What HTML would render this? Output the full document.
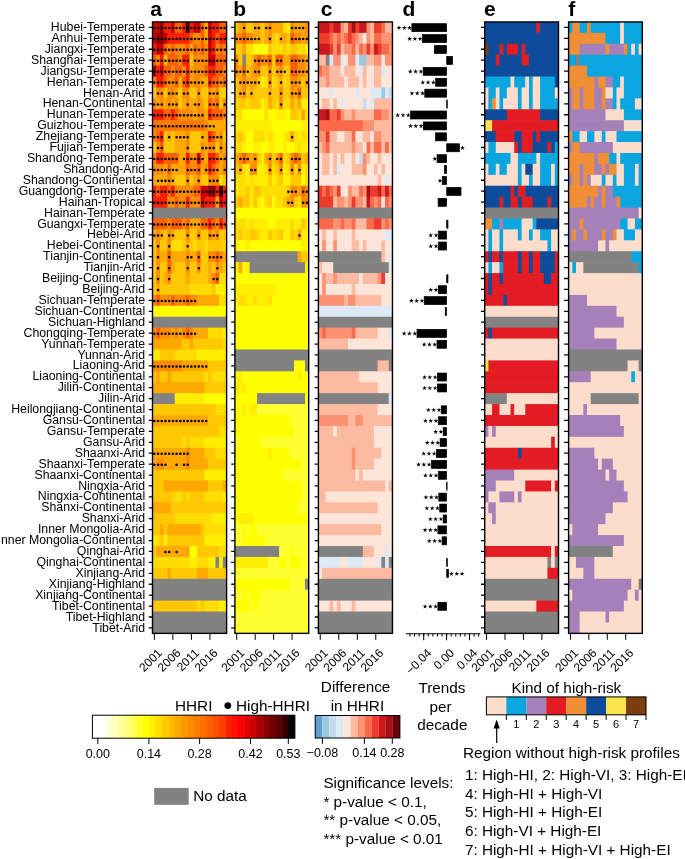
<!DOCTYPE html>
<html><head><meta charset="utf-8"><style>
html,body{margin:0;padding:0;background:#fff;}
body{width:685px;height:859px;overflow:hidden;font-family:"Liberation Sans",sans-serif;}
svg{display:block;will-change:transform;}
</style></head><body>
<svg width="685" height="859" viewBox="0 0 685 859" font-family="'Liberation Sans', sans-serif">
<rect width="685" height="859" fill="#fff"/>
<g>
<rect x="152.5" y="21.95" width="8.01" height="11.52" fill="#cc0000"/>
<rect x="159.91" y="21.95" width="4.3" height="11.52" fill="#8b0000"/>
<rect x="163.62" y="21.95" width="8.01" height="11.52" fill="#ff2000"/>
<rect x="171.03" y="21.95" width="4.3" height="11.52" fill="#cc0000"/>
<rect x="174.73" y="21.95" width="8.01" height="11.52" fill="#ff6000"/>
<rect x="182.14" y="21.95" width="4.3" height="11.52" fill="#ff2000"/>
<rect x="185.84" y="21.95" width="4.3" height="11.52" fill="#300000"/>
<rect x="189.55" y="21.95" width="4.3" height="11.52" fill="#ff2000"/>
<rect x="193.25" y="21.95" width="8.01" height="11.52" fill="#cc0000"/>
<rect x="200.66" y="21.95" width="4.3" height="11.52" fill="#ff6000"/>
<rect x="204.37" y="21.95" width="4.3" height="11.52" fill="#ffa800"/>
<rect x="208.07" y="21.95" width="4.3" height="11.52" fill="#cc0000"/>
<rect x="211.78" y="21.95" width="8.01" height="11.52" fill="#ff2000"/>
<rect x="219.19" y="21.95" width="7.41" height="11.52" fill="#ff6000"/>
<rect x="152.5" y="32.87" width="4.3" height="11.52" fill="#cc0000"/>
<rect x="156.21" y="32.87" width="8.01" height="11.52" fill="#8b0000"/>
<rect x="163.62" y="32.87" width="4.3" height="11.52" fill="#cc0000"/>
<rect x="167.32" y="32.87" width="22.83" height="11.52" fill="#ff2000"/>
<rect x="189.55" y="32.87" width="4.3" height="11.52" fill="#ff6000"/>
<rect x="193.25" y="32.87" width="8.01" height="11.52" fill="#ff8c00"/>
<rect x="200.66" y="32.87" width="4.3" height="11.52" fill="#ff6000"/>
<rect x="204.37" y="32.87" width="4.3" height="11.52" fill="#ffa800"/>
<rect x="208.07" y="32.87" width="4.3" height="11.52" fill="#cc0000"/>
<rect x="211.78" y="32.87" width="4.3" height="11.52" fill="#ff2000"/>
<rect x="215.48" y="32.87" width="4.3" height="11.52" fill="#ff6000"/>
<rect x="219.19" y="32.87" width="7.41" height="11.52" fill="#ff2000"/>
<rect x="152.5" y="43.79" width="4.3" height="11.52" fill="#ff2000"/>
<rect x="156.21" y="43.79" width="8.01" height="11.52" fill="#cc0000"/>
<rect x="163.62" y="43.79" width="4.3" height="11.52" fill="#ff6000"/>
<rect x="167.32" y="43.79" width="4.3" height="11.52" fill="#ff8c00"/>
<rect x="171.03" y="43.79" width="4.3" height="11.52" fill="#ff6000"/>
<rect x="174.73" y="43.79" width="11.71" height="11.52" fill="#ff8c00"/>
<rect x="185.84" y="43.79" width="4.3" height="11.52" fill="#ff6000"/>
<rect x="189.55" y="43.79" width="4.3" height="11.52" fill="#ffa800"/>
<rect x="193.25" y="43.79" width="4.3" height="11.52" fill="#ff6000"/>
<rect x="196.96" y="43.79" width="4.3" height="11.52" fill="#ff8c00"/>
<rect x="200.66" y="43.79" width="4.3" height="11.52" fill="#ff6000"/>
<rect x="204.37" y="43.79" width="4.3" height="11.52" fill="#ff8c00"/>
<rect x="208.07" y="43.79" width="4.3" height="11.52" fill="#cc0000"/>
<rect x="211.78" y="43.79" width="4.3" height="11.52" fill="#ff2000"/>
<rect x="215.48" y="43.79" width="4.3" height="11.52" fill="#ff8c00"/>
<rect x="219.19" y="43.79" width="4.3" height="11.52" fill="#ff6000"/>
<rect x="222.89" y="43.79" width="3.7" height="11.52" fill="#ff8c00"/>
<rect x="152.5" y="54.7" width="4.3" height="11.52" fill="#ff6000"/>
<rect x="156.21" y="54.7" width="4.3" height="11.52" fill="#ff8c00"/>
<rect x="159.91" y="54.7" width="4.3" height="11.52" fill="#ff2000"/>
<rect x="163.62" y="54.7" width="4.3" height="11.52" fill="#ffc800"/>
<rect x="167.32" y="54.7" width="11.71" height="11.52" fill="#ff6000"/>
<rect x="178.44" y="54.7" width="4.3" height="11.52" fill="#ff8c00"/>
<rect x="182.14" y="54.7" width="8.01" height="11.52" fill="#ff2000"/>
<rect x="189.55" y="54.7" width="4.3" height="11.52" fill="#ffc800"/>
<rect x="193.25" y="54.7" width="15.42" height="11.52" fill="#ff8c00"/>
<rect x="208.07" y="54.7" width="8.01" height="11.52" fill="#cc0000"/>
<rect x="215.48" y="54.7" width="11.11" height="11.52" fill="#ff6000"/>
<rect x="152.5" y="65.62" width="4.3" height="11.52" fill="#8b0000"/>
<rect x="156.21" y="65.62" width="4.3" height="11.52" fill="#ff2000"/>
<rect x="159.91" y="65.62" width="4.3" height="11.52" fill="#cc0000"/>
<rect x="163.62" y="65.62" width="8.01" height="11.52" fill="#ff6000"/>
<rect x="171.03" y="65.62" width="4.3" height="11.52" fill="#ff8c00"/>
<rect x="174.73" y="65.62" width="8.01" height="11.52" fill="#ff6000"/>
<rect x="182.14" y="65.62" width="4.3" height="11.52" fill="#ff8c00"/>
<rect x="185.84" y="65.62" width="4.3" height="11.52" fill="#ff2000"/>
<rect x="189.55" y="65.62" width="4.3" height="11.52" fill="#ffa800"/>
<rect x="193.25" y="65.62" width="11.71" height="11.52" fill="#ff8c00"/>
<rect x="204.37" y="65.62" width="4.3" height="11.52" fill="#ff6000"/>
<rect x="208.07" y="65.62" width="8.01" height="11.52" fill="#ff2000"/>
<rect x="215.48" y="65.62" width="8.01" height="11.52" fill="#ff6000"/>
<rect x="222.89" y="65.62" width="3.7" height="11.52" fill="#ff8c00"/>
<rect x="152.5" y="76.54" width="4.3" height="11.52" fill="#ff8c00"/>
<rect x="156.21" y="76.54" width="8.01" height="11.52" fill="#ff2000"/>
<rect x="163.62" y="76.54" width="4.3" height="11.52" fill="#ff6000"/>
<rect x="167.32" y="76.54" width="8.01" height="11.52" fill="#ff8c00"/>
<rect x="174.73" y="76.54" width="4.3" height="11.52" fill="#ff6000"/>
<rect x="178.44" y="76.54" width="4.3" height="11.52" fill="#ffa800"/>
<rect x="182.14" y="76.54" width="4.3" height="11.52" fill="#ff6000"/>
<rect x="185.84" y="76.54" width="4.3" height="11.52" fill="#ff2000"/>
<rect x="189.55" y="76.54" width="4.3" height="11.52" fill="#ffa800"/>
<rect x="193.25" y="76.54" width="8.01" height="11.52" fill="#ff8c00"/>
<rect x="200.66" y="76.54" width="8.01" height="11.52" fill="#ffa800"/>
<rect x="208.07" y="76.54" width="4.3" height="11.52" fill="#ff2000"/>
<rect x="211.78" y="76.54" width="8.01" height="11.52" fill="#ff6000"/>
<rect x="219.19" y="76.54" width="4.3" height="11.52" fill="#ff8c00"/>
<rect x="222.89" y="76.54" width="3.7" height="11.52" fill="#ff6000"/>
<rect x="152.5" y="87.46" width="4.3" height="11.52" fill="#ffc800"/>
<rect x="156.21" y="87.46" width="8.01" height="11.52" fill="#ff8c00"/>
<rect x="163.62" y="87.46" width="4.3" height="11.52" fill="#ffc800"/>
<rect x="167.32" y="87.46" width="8.01" height="11.52" fill="#ff8c00"/>
<rect x="174.73" y="87.46" width="4.3" height="11.52" fill="#ffa800"/>
<rect x="178.44" y="87.46" width="4.3" height="11.52" fill="#ffc800"/>
<rect x="182.14" y="87.46" width="8.01" height="11.52" fill="#ff8c00"/>
<rect x="189.55" y="87.46" width="8.01" height="11.52" fill="#ffc800"/>
<rect x="196.96" y="87.46" width="4.3" height="11.52" fill="#ff8c00"/>
<rect x="200.66" y="87.46" width="8.01" height="11.52" fill="#ffc800"/>
<rect x="208.07" y="87.46" width="4.3" height="11.52" fill="#ff8c00"/>
<rect x="211.78" y="87.46" width="4.3" height="11.52" fill="#ffa800"/>
<rect x="215.48" y="87.46" width="4.3" height="11.52" fill="#ff8c00"/>
<rect x="219.19" y="87.46" width="4.3" height="11.52" fill="#ffc800"/>
<rect x="222.89" y="87.46" width="3.7" height="11.52" fill="#ffdd00"/>
<rect x="152.5" y="98.38" width="4.3" height="11.52" fill="#ff8c00"/>
<rect x="156.21" y="98.38" width="4.3" height="11.52" fill="#ffa800"/>
<rect x="159.91" y="98.38" width="4.3" height="11.52" fill="#ff8c00"/>
<rect x="163.62" y="98.38" width="4.3" height="11.52" fill="#ffa800"/>
<rect x="167.32" y="98.38" width="4.3" height="11.52" fill="#ff8c00"/>
<rect x="171.03" y="98.38" width="4.3" height="11.52" fill="#ffa800"/>
<rect x="174.73" y="98.38" width="4.3" height="11.52" fill="#ff8c00"/>
<rect x="178.44" y="98.38" width="4.3" height="11.52" fill="#ffc800"/>
<rect x="182.14" y="98.38" width="4.3" height="11.52" fill="#ffa800"/>
<rect x="185.84" y="98.38" width="4.3" height="11.52" fill="#ff8c00"/>
<rect x="189.55" y="98.38" width="8.01" height="11.52" fill="#ffa800"/>
<rect x="196.96" y="98.38" width="4.3" height="11.52" fill="#ff8c00"/>
<rect x="200.66" y="98.38" width="4.3" height="11.52" fill="#ffa800"/>
<rect x="204.37" y="98.38" width="4.3" height="11.52" fill="#ffc800"/>
<rect x="208.07" y="98.38" width="4.3" height="11.52" fill="#ff6000"/>
<rect x="211.78" y="98.38" width="4.3" height="11.52" fill="#ff8c00"/>
<rect x="215.48" y="98.38" width="4.3" height="11.52" fill="#ff6000"/>
<rect x="219.19" y="98.38" width="4.3" height="11.52" fill="#ffc800"/>
<rect x="222.89" y="98.38" width="3.7" height="11.52" fill="#ff8c00"/>
<rect x="152.5" y="109.29" width="11.71" height="11.52" fill="#ff2000"/>
<rect x="163.62" y="109.29" width="8.01" height="11.52" fill="#ff6000"/>
<rect x="171.03" y="109.29" width="4.3" height="11.52" fill="#ff2000"/>
<rect x="174.73" y="109.29" width="4.3" height="11.52" fill="#ff6000"/>
<rect x="178.44" y="109.29" width="15.42" height="11.52" fill="#ff8c00"/>
<rect x="193.25" y="109.29" width="4.3" height="11.52" fill="#ffa800"/>
<rect x="196.96" y="109.29" width="8.01" height="11.52" fill="#ff8c00"/>
<rect x="204.37" y="109.29" width="4.3" height="11.52" fill="#ffa800"/>
<rect x="208.07" y="109.29" width="4.3" height="11.52" fill="#ff2000"/>
<rect x="211.78" y="109.29" width="11.71" height="11.52" fill="#ff6000"/>
<rect x="222.89" y="109.29" width="3.7" height="11.52" fill="#ff8c00"/>
<rect x="152.5" y="120.21" width="52.47" height="11.52" fill="#ff7800"/>
<rect x="204.37" y="120.21" width="4.3" height="11.52" fill="#ff8c00"/>
<rect x="208.07" y="120.21" width="18.52" height="11.52" fill="#ffa800"/>
<rect x="152.5" y="131.13" width="4.3" height="11.52" fill="#ff8c00"/>
<rect x="156.21" y="131.13" width="4.3" height="11.52" fill="#ff6000"/>
<rect x="159.91" y="131.13" width="4.3" height="11.52" fill="#ff2000"/>
<rect x="163.62" y="131.13" width="4.3" height="11.52" fill="#ffc800"/>
<rect x="167.32" y="131.13" width="4.3" height="11.52" fill="#ffa800"/>
<rect x="171.03" y="131.13" width="4.3" height="11.52" fill="#ffc800"/>
<rect x="174.73" y="131.13" width="11.71" height="11.52" fill="#ffa800"/>
<rect x="185.84" y="131.13" width="4.3" height="11.52" fill="#ff8c00"/>
<rect x="189.55" y="131.13" width="11.71" height="11.52" fill="#ffc800"/>
<rect x="200.66" y="131.13" width="8.01" height="11.52" fill="#ffa800"/>
<rect x="208.07" y="131.13" width="4.3" height="11.52" fill="#ff2000"/>
<rect x="211.78" y="131.13" width="4.3" height="11.52" fill="#ff6000"/>
<rect x="215.48" y="131.13" width="4.3" height="11.52" fill="#ffa800"/>
<rect x="219.19" y="131.13" width="4.3" height="11.52" fill="#ff8c00"/>
<rect x="222.89" y="131.13" width="3.7" height="11.52" fill="#ffc800"/>
<rect x="152.5" y="142.05" width="4.3" height="11.52" fill="#ffc800"/>
<rect x="156.21" y="142.05" width="4.3" height="11.52" fill="#ff8c00"/>
<rect x="159.91" y="142.05" width="4.3" height="11.52" fill="#ff6000"/>
<rect x="163.62" y="142.05" width="11.71" height="11.52" fill="#ffc800"/>
<rect x="174.73" y="142.05" width="11.71" height="11.52" fill="#ffa800"/>
<rect x="185.84" y="142.05" width="4.3" height="11.52" fill="#ff8c00"/>
<rect x="189.55" y="142.05" width="11.71" height="11.52" fill="#ffc800"/>
<rect x="200.66" y="142.05" width="4.3" height="11.52" fill="#ff8c00"/>
<rect x="204.37" y="142.05" width="4.3" height="11.52" fill="#ffa800"/>
<rect x="208.07" y="142.05" width="8.01" height="11.52" fill="#ff8c00"/>
<rect x="215.48" y="142.05" width="4.3" height="11.52" fill="#ffc800"/>
<rect x="219.19" y="142.05" width="4.3" height="11.52" fill="#ff8c00"/>
<rect x="222.89" y="142.05" width="3.7" height="11.52" fill="#ffa800"/>
<rect x="152.5" y="152.97" width="4.3" height="11.52" fill="#ff8c00"/>
<rect x="156.21" y="152.97" width="8.01" height="11.52" fill="#ff2000"/>
<rect x="163.62" y="152.97" width="15.42" height="11.52" fill="#ff6000"/>
<rect x="178.44" y="152.97" width="8.01" height="11.52" fill="#ffa800"/>
<rect x="185.84" y="152.97" width="4.3" height="11.52" fill="#ff2000"/>
<rect x="189.55" y="152.97" width="8.01" height="11.52" fill="#ff8c00"/>
<rect x="196.96" y="152.97" width="4.3" height="11.52" fill="#cc0000"/>
<rect x="200.66" y="152.97" width="4.3" height="11.52" fill="#ff8c00"/>
<rect x="204.37" y="152.97" width="4.3" height="11.52" fill="#ffa800"/>
<rect x="208.07" y="152.97" width="8.01" height="11.52" fill="#ff2000"/>
<rect x="215.48" y="152.97" width="4.3" height="11.52" fill="#ff6000"/>
<rect x="219.19" y="152.97" width="4.3" height="11.52" fill="#ffa800"/>
<rect x="222.89" y="152.97" width="3.7" height="11.52" fill="#ff8c00"/>
<rect x="152.5" y="163.88" width="11.71" height="11.52" fill="#ff8c00"/>
<rect x="163.62" y="163.88" width="4.3" height="11.52" fill="#ffa800"/>
<rect x="167.32" y="163.88" width="4.3" height="11.52" fill="#ff6000"/>
<rect x="171.03" y="163.88" width="15.42" height="11.52" fill="#ffa800"/>
<rect x="185.84" y="163.88" width="4.3" height="11.52" fill="#ff6000"/>
<rect x="189.55" y="163.88" width="8.01" height="11.52" fill="#ff8c00"/>
<rect x="196.96" y="163.88" width="4.3" height="11.52" fill="#ff6000"/>
<rect x="200.66" y="163.88" width="4.3" height="11.52" fill="#ffa800"/>
<rect x="204.37" y="163.88" width="4.3" height="11.52" fill="#ff8c00"/>
<rect x="208.07" y="163.88" width="4.3" height="11.52" fill="#ff2000"/>
<rect x="211.78" y="163.88" width="4.3" height="11.52" fill="#ff6000"/>
<rect x="215.48" y="163.88" width="4.3" height="11.52" fill="#ff8c00"/>
<rect x="219.19" y="163.88" width="4.3" height="11.52" fill="#ffa800"/>
<rect x="222.89" y="163.88" width="3.7" height="11.52" fill="#ff8c00"/>
<rect x="152.5" y="174.8" width="15.42" height="11.52" fill="#ffa800"/>
<rect x="167.32" y="174.8" width="4.3" height="11.52" fill="#ff8c00"/>
<rect x="171.03" y="174.8" width="4.3" height="11.52" fill="#ffa800"/>
<rect x="174.73" y="174.8" width="11.71" height="11.52" fill="#ffc800"/>
<rect x="185.84" y="174.8" width="4.3" height="11.52" fill="#ff8c00"/>
<rect x="189.55" y="174.8" width="4.3" height="11.52" fill="#ffc800"/>
<rect x="193.25" y="174.8" width="4.3" height="11.52" fill="#ffa800"/>
<rect x="196.96" y="174.8" width="4.3" height="11.52" fill="#ff8c00"/>
<rect x="200.66" y="174.8" width="8.01" height="11.52" fill="#ffc800"/>
<rect x="208.07" y="174.8" width="11.71" height="11.52" fill="#ff8c00"/>
<rect x="219.19" y="174.8" width="4.3" height="11.52" fill="#ffdd00"/>
<rect x="222.89" y="174.8" width="3.7" height="11.52" fill="#ffc800"/>
<rect x="152.5" y="185.72" width="4.3" height="11.52" fill="#ff2000"/>
<rect x="156.21" y="185.72" width="4.3" height="11.52" fill="#ff6000"/>
<rect x="159.91" y="185.72" width="8.01" height="11.52" fill="#ff2000"/>
<rect x="167.32" y="185.72" width="4.3" height="11.52" fill="#ff6000"/>
<rect x="171.03" y="185.72" width="4.3" height="11.52" fill="#ff2000"/>
<rect x="174.73" y="185.72" width="19.12" height="11.52" fill="#ff8c00"/>
<rect x="193.25" y="185.72" width="8.01" height="11.52" fill="#ff6000"/>
<rect x="200.66" y="185.72" width="8.01" height="11.52" fill="#cc0000"/>
<rect x="208.07" y="185.72" width="8.01" height="11.52" fill="#8b0000"/>
<rect x="215.48" y="185.72" width="4.3" height="11.52" fill="#ff2000"/>
<rect x="219.19" y="185.72" width="4.3" height="11.52" fill="#300000"/>
<rect x="222.89" y="185.72" width="3.7" height="11.52" fill="#ff2000"/>
<rect x="152.5" y="196.64" width="15.42" height="11.52" fill="#ff2000"/>
<rect x="167.32" y="196.64" width="8.01" height="11.52" fill="#ff8c00"/>
<rect x="174.73" y="196.64" width="4.3" height="11.52" fill="#ff6000"/>
<rect x="178.44" y="196.64" width="8.01" height="11.52" fill="#ff8c00"/>
<rect x="185.84" y="196.64" width="4.3" height="11.52" fill="#ff2000"/>
<rect x="189.55" y="196.64" width="11.71" height="11.52" fill="#ff8c00"/>
<rect x="200.66" y="196.64" width="4.3" height="11.52" fill="#cc0000"/>
<rect x="204.37" y="196.64" width="11.71" height="11.52" fill="#ff2000"/>
<rect x="215.48" y="196.64" width="4.3" height="11.52" fill="#ffa800"/>
<rect x="219.19" y="196.64" width="4.3" height="11.52" fill="#cc0000"/>
<rect x="222.89" y="196.64" width="3.7" height="11.52" fill="#ff2000"/>
<rect x="152.5" y="207.56" width="74.1" height="11.52" fill="#828282"/>
<rect x="152.5" y="218.47" width="15.42" height="11.52" fill="#ff6000"/>
<rect x="167.32" y="218.47" width="4.3" height="11.52" fill="#ff8c00"/>
<rect x="171.03" y="218.47" width="11.71" height="11.52" fill="#ff6000"/>
<rect x="182.14" y="218.47" width="4.3" height="11.52" fill="#ff8c00"/>
<rect x="185.84" y="218.47" width="4.3" height="11.52" fill="#ff6000"/>
<rect x="189.55" y="218.47" width="11.71" height="11.52" fill="#ffa800"/>
<rect x="200.66" y="218.47" width="8.01" height="11.52" fill="#ff6000"/>
<rect x="208.07" y="218.47" width="4.3" height="11.52" fill="#ff2000"/>
<rect x="211.78" y="218.47" width="4.3" height="11.52" fill="#ff6000"/>
<rect x="215.48" y="218.47" width="4.3" height="11.52" fill="#ff8c00"/>
<rect x="219.19" y="218.47" width="4.3" height="11.52" fill="#ff2000"/>
<rect x="222.89" y="218.47" width="3.7" height="11.52" fill="#ff6000"/>
<rect x="152.5" y="229.39" width="4.3" height="11.52" fill="#ffa800"/>
<rect x="156.21" y="229.39" width="4.3" height="11.52" fill="#ff8c00"/>
<rect x="159.91" y="229.39" width="4.3" height="11.52" fill="#ffa800"/>
<rect x="163.62" y="229.39" width="4.3" height="11.52" fill="#ffc800"/>
<rect x="167.32" y="229.39" width="4.3" height="11.52" fill="#ff8c00"/>
<rect x="171.03" y="229.39" width="4.3" height="11.52" fill="#ffa800"/>
<rect x="174.73" y="229.39" width="11.71" height="11.52" fill="#ffc800"/>
<rect x="185.84" y="229.39" width="4.3" height="11.52" fill="#ff8c00"/>
<rect x="189.55" y="229.39" width="8.01" height="11.52" fill="#ffc800"/>
<rect x="196.96" y="229.39" width="4.3" height="11.52" fill="#ff8c00"/>
<rect x="200.66" y="229.39" width="8.01" height="11.52" fill="#ffc800"/>
<rect x="208.07" y="229.39" width="4.3" height="11.52" fill="#ff8c00"/>
<rect x="211.78" y="229.39" width="4.3" height="11.52" fill="#ffa800"/>
<rect x="215.48" y="229.39" width="4.3" height="11.52" fill="#ff8c00"/>
<rect x="219.19" y="229.39" width="7.41" height="11.52" fill="#ffc800"/>
<rect x="152.5" y="240.31" width="4.3" height="11.52" fill="#ffc800"/>
<rect x="156.21" y="240.31" width="4.3" height="11.52" fill="#ff8c00"/>
<rect x="159.91" y="240.31" width="8.01" height="11.52" fill="#ffc800"/>
<rect x="167.32" y="240.31" width="4.3" height="11.52" fill="#ff8c00"/>
<rect x="171.03" y="240.31" width="11.71" height="11.52" fill="#ffdd00"/>
<rect x="182.14" y="240.31" width="4.3" height="11.52" fill="#ffc800"/>
<rect x="185.84" y="240.31" width="4.3" height="11.52" fill="#ffa800"/>
<rect x="189.55" y="240.31" width="4.3" height="11.52" fill="#ffc800"/>
<rect x="193.25" y="240.31" width="4.3" height="11.52" fill="#ffdd00"/>
<rect x="196.96" y="240.31" width="8.01" height="11.52" fill="#ffc800"/>
<rect x="204.37" y="240.31" width="4.3" height="11.52" fill="#ffdd00"/>
<rect x="208.07" y="240.31" width="15.42" height="11.52" fill="#ffc800"/>
<rect x="222.89" y="240.31" width="3.7" height="11.52" fill="#ffdd00"/>
<rect x="152.5" y="251.23" width="4.3" height="11.52" fill="#ffc800"/>
<rect x="156.21" y="251.23" width="4.3" height="11.52" fill="#ff8c00"/>
<rect x="159.91" y="251.23" width="8.01" height="11.52" fill="#ffa800"/>
<rect x="167.32" y="251.23" width="4.3" height="11.52" fill="#ff6000"/>
<rect x="171.03" y="251.23" width="15.42" height="11.52" fill="#ffa800"/>
<rect x="185.84" y="251.23" width="4.3" height="11.52" fill="#ff8c00"/>
<rect x="189.55" y="251.23" width="8.01" height="11.52" fill="#ffa800"/>
<rect x="196.96" y="251.23" width="4.3" height="11.52" fill="#ff6000"/>
<rect x="200.66" y="251.23" width="8.01" height="11.52" fill="#ffc800"/>
<rect x="208.07" y="251.23" width="8.01" height="11.52" fill="#ff8c00"/>
<rect x="215.48" y="251.23" width="4.3" height="11.52" fill="#ff6000"/>
<rect x="219.19" y="251.23" width="4.3" height="11.52" fill="#ff8c00"/>
<rect x="222.89" y="251.23" width="3.7" height="11.52" fill="#ffa800"/>
<rect x="152.5" y="262.15" width="4.3" height="11.52" fill="#ffc800"/>
<rect x="156.21" y="262.15" width="4.3" height="11.52" fill="#ff8c00"/>
<rect x="159.91" y="262.15" width="8.01" height="11.52" fill="#ffc800"/>
<rect x="167.32" y="262.15" width="4.3" height="11.52" fill="#ff6000"/>
<rect x="171.03" y="262.15" width="4.3" height="11.52" fill="#ffa800"/>
<rect x="174.73" y="262.15" width="11.71" height="11.52" fill="#ffc800"/>
<rect x="185.84" y="262.15" width="4.3" height="11.52" fill="#ff8c00"/>
<rect x="189.55" y="262.15" width="8.01" height="11.52" fill="#ffc800"/>
<rect x="196.96" y="262.15" width="4.3" height="11.52" fill="#ff8c00"/>
<rect x="200.66" y="262.15" width="8.01" height="11.52" fill="#ffc800"/>
<rect x="208.07" y="262.15" width="4.3" height="11.52" fill="#ffa800"/>
<rect x="211.78" y="262.15" width="4.3" height="11.52" fill="#ffc800"/>
<rect x="215.48" y="262.15" width="4.3" height="11.52" fill="#ff8c00"/>
<rect x="219.19" y="262.15" width="4.3" height="11.52" fill="#ffa800"/>
<rect x="222.89" y="262.15" width="3.7" height="11.52" fill="#ffc800"/>
<rect x="152.5" y="273.06" width="4.3" height="11.52" fill="#ffc800"/>
<rect x="156.21" y="273.06" width="4.3" height="11.52" fill="#ff8c00"/>
<rect x="159.91" y="273.06" width="4.3" height="11.52" fill="#ffc800"/>
<rect x="163.62" y="273.06" width="4.3" height="11.52" fill="#ffa800"/>
<rect x="167.32" y="273.06" width="4.3" height="11.52" fill="#ff8c00"/>
<rect x="171.03" y="273.06" width="15.42" height="11.52" fill="#ffc800"/>
<rect x="185.84" y="273.06" width="4.3" height="11.52" fill="#ffa800"/>
<rect x="189.55" y="273.06" width="19.12" height="11.52" fill="#ffc800"/>
<rect x="208.07" y="273.06" width="4.3" height="11.52" fill="#ffa800"/>
<rect x="211.78" y="273.06" width="4.3" height="11.52" fill="#ff8c00"/>
<rect x="215.48" y="273.06" width="4.3" height="11.52" fill="#ff6000"/>
<rect x="219.19" y="273.06" width="7.41" height="11.52" fill="#ffdd00"/>
<rect x="152.5" y="283.98" width="4.3" height="11.52" fill="#ffc800"/>
<rect x="156.21" y="283.98" width="4.3" height="11.52" fill="#ffa800"/>
<rect x="159.91" y="283.98" width="30.24" height="11.52" fill="#ffc800"/>
<rect x="189.55" y="283.98" width="22.83" height="11.52" fill="#ffdd00"/>
<rect x="211.78" y="283.98" width="4.3" height="11.52" fill="#ffc800"/>
<rect x="215.48" y="283.98" width="11.11" height="11.52" fill="#ffee00"/>
<rect x="152.5" y="294.9" width="4.3" height="11.52" fill="#ff8c00"/>
<rect x="156.21" y="294.9" width="4.3" height="11.52" fill="#ff6000"/>
<rect x="159.91" y="294.9" width="11.71" height="11.52" fill="#ff8c00"/>
<rect x="171.03" y="294.9" width="4.3" height="11.52" fill="#ff6000"/>
<rect x="174.73" y="294.9" width="11.71" height="11.52" fill="#ff8c00"/>
<rect x="185.84" y="294.9" width="4.3" height="11.52" fill="#ff6000"/>
<rect x="189.55" y="294.9" width="8.01" height="11.52" fill="#ff8c00"/>
<rect x="196.96" y="294.9" width="22.83" height="11.52" fill="#ffa800"/>
<rect x="219.19" y="294.9" width="7.41" height="11.52" fill="#ffdd00"/>
<rect x="152.5" y="305.82" width="74.1" height="11.52" fill="#ffff00"/>
<rect x="152.5" y="316.74" width="74.1" height="11.52" fill="#828282"/>
<rect x="152.5" y="327.65" width="4.3" height="11.52" fill="#ff8c00"/>
<rect x="156.21" y="327.65" width="4.3" height="11.52" fill="#ff6000"/>
<rect x="159.91" y="327.65" width="11.71" height="11.52" fill="#ff8c00"/>
<rect x="171.03" y="327.65" width="4.3" height="11.52" fill="#ffa800"/>
<rect x="174.73" y="327.65" width="4.3" height="11.52" fill="#ff8c00"/>
<rect x="178.44" y="327.65" width="4.3" height="11.52" fill="#ffa800"/>
<rect x="182.14" y="327.65" width="4.3" height="11.52" fill="#ff8c00"/>
<rect x="185.84" y="327.65" width="4.3" height="11.52" fill="#ff6000"/>
<rect x="189.55" y="327.65" width="4.3" height="11.52" fill="#ff8c00"/>
<rect x="193.25" y="327.65" width="15.42" height="11.52" fill="#ffa800"/>
<rect x="208.07" y="327.65" width="15.42" height="11.52" fill="#ffdd00"/>
<rect x="222.89" y="327.65" width="3.7" height="11.52" fill="#ffee00"/>
<rect x="152.5" y="338.57" width="30.24" height="11.52" fill="#ffa800"/>
<rect x="182.14" y="338.57" width="8.01" height="11.52" fill="#ffc800"/>
<rect x="189.55" y="338.57" width="4.3" height="11.52" fill="#ffa800"/>
<rect x="193.25" y="338.57" width="30.24" height="11.52" fill="#ffc800"/>
<rect x="222.89" y="338.57" width="3.7" height="11.52" fill="#ffdd00"/>
<rect x="152.5" y="349.49" width="8.01" height="11.52" fill="#ffee00"/>
<rect x="159.91" y="349.49" width="15.42" height="11.52" fill="#ffc800"/>
<rect x="174.73" y="349.49" width="22.83" height="11.52" fill="#ffdd00"/>
<rect x="196.96" y="349.49" width="29.64" height="11.52" fill="#ffee00"/>
<rect x="152.5" y="360.41" width="30.24" height="11.52" fill="#ff8c00"/>
<rect x="182.14" y="360.41" width="26.54" height="11.52" fill="#ffa800"/>
<rect x="208.07" y="360.41" width="18.52" height="11.52" fill="#ffc800"/>
<rect x="152.5" y="371.33" width="4.3" height="11.52" fill="#ffc800"/>
<rect x="156.21" y="371.33" width="4.3" height="11.52" fill="#ffa800"/>
<rect x="159.91" y="371.33" width="8.01" height="11.52" fill="#ffc800"/>
<rect x="167.32" y="371.33" width="4.3" height="11.52" fill="#ffa800"/>
<rect x="171.03" y="371.33" width="33.95" height="11.52" fill="#ffc800"/>
<rect x="204.37" y="371.33" width="4.3" height="11.52" fill="#ffdd00"/>
<rect x="208.07" y="371.33" width="4.3" height="11.52" fill="#ffc800"/>
<rect x="211.78" y="371.33" width="14.82" height="11.52" fill="#ffdd00"/>
<rect x="152.5" y="382.24" width="52.47" height="11.52" fill="#ffa800"/>
<rect x="204.37" y="382.24" width="22.23" height="11.52" fill="#ffc800"/>
<rect x="152.5" y="393.16" width="22.83" height="11.52" fill="#828282"/>
<rect x="174.73" y="393.16" width="30.24" height="11.52" fill="#ffee00"/>
<rect x="204.37" y="393.16" width="22.23" height="11.52" fill="#ffff00"/>
<rect x="152.5" y="404.08" width="63.58" height="11.52" fill="#ffc800"/>
<rect x="215.48" y="404.08" width="11.11" height="11.52" fill="#ffdd00"/>
<rect x="152.5" y="415" width="56.17" height="11.52" fill="#ffa800"/>
<rect x="208.07" y="415" width="18.52" height="11.52" fill="#ffc800"/>
<rect x="152.5" y="425.92" width="67.29" height="11.52" fill="#ffc800"/>
<rect x="219.19" y="425.92" width="7.41" height="11.52" fill="#ffdd00"/>
<rect x="152.5" y="436.83" width="30.24" height="11.52" fill="#ffc800"/>
<rect x="182.14" y="436.83" width="4.3" height="11.52" fill="#ffdd00"/>
<rect x="185.84" y="436.83" width="4.3" height="11.52" fill="#ffc800"/>
<rect x="189.55" y="436.83" width="15.42" height="11.52" fill="#ffdd00"/>
<rect x="204.37" y="436.83" width="22.23" height="11.52" fill="#ffee00"/>
<rect x="152.5" y="447.75" width="33.95" height="11.52" fill="#ffa800"/>
<rect x="185.84" y="447.75" width="4.3" height="11.52" fill="#ff8c00"/>
<rect x="189.55" y="447.75" width="15.42" height="11.52" fill="#ffa800"/>
<rect x="204.37" y="447.75" width="11.71" height="11.52" fill="#ffc800"/>
<rect x="215.48" y="447.75" width="11.11" height="11.52" fill="#ffdd00"/>
<rect x="152.5" y="458.67" width="4.3" height="11.52" fill="#ffa800"/>
<rect x="156.21" y="458.67" width="8.01" height="11.52" fill="#ff8c00"/>
<rect x="163.62" y="458.67" width="22.83" height="11.52" fill="#ffa800"/>
<rect x="185.84" y="458.67" width="4.3" height="11.52" fill="#ff8c00"/>
<rect x="189.55" y="458.67" width="19.12" height="11.52" fill="#ffa800"/>
<rect x="208.07" y="458.67" width="18.52" height="11.52" fill="#ffc800"/>
<rect x="152.5" y="469.59" width="52.47" height="11.52" fill="#ffc800"/>
<rect x="204.37" y="469.59" width="22.23" height="11.52" fill="#ffee00"/>
<rect x="152.5" y="480.51" width="11.71" height="11.52" fill="#ffc800"/>
<rect x="163.62" y="480.51" width="45.06" height="11.52" fill="#ffa800"/>
<rect x="208.07" y="480.51" width="15.42" height="11.52" fill="#ffc800"/>
<rect x="222.89" y="480.51" width="3.7" height="11.52" fill="#ffa800"/>
<rect x="152.5" y="491.42" width="22.83" height="11.52" fill="#ffc800"/>
<rect x="174.73" y="491.42" width="8.01" height="11.52" fill="#ffdd00"/>
<rect x="182.14" y="491.42" width="4.3" height="11.52" fill="#ffc800"/>
<rect x="185.84" y="491.42" width="4.3" height="11.52" fill="#ffdd00"/>
<rect x="189.55" y="491.42" width="15.42" height="11.52" fill="#ffc800"/>
<rect x="204.37" y="491.42" width="19.12" height="11.52" fill="#ffdd00"/>
<rect x="222.89" y="491.42" width="3.7" height="11.52" fill="#ffee00"/>
<rect x="152.5" y="502.34" width="19.12" height="11.52" fill="#ffa800"/>
<rect x="171.03" y="502.34" width="55.57" height="11.52" fill="#ffc800"/>
<rect x="152.5" y="513.26" width="22.83" height="11.52" fill="#ffc800"/>
<rect x="174.73" y="513.26" width="37.65" height="11.52" fill="#ffdd00"/>
<rect x="211.78" y="513.26" width="14.82" height="11.52" fill="#ffee00"/>
<rect x="152.5" y="524.18" width="8.01" height="11.52" fill="#ffc800"/>
<rect x="159.91" y="524.18" width="4.3" height="11.52" fill="#ffa800"/>
<rect x="163.62" y="524.18" width="4.3" height="11.52" fill="#ffc800"/>
<rect x="167.32" y="524.18" width="33.95" height="11.52" fill="#ffa800"/>
<rect x="200.66" y="524.18" width="4.3" height="11.52" fill="#ffc800"/>
<rect x="204.37" y="524.18" width="22.23" height="11.52" fill="#ffdd00"/>
<rect x="152.5" y="535.1" width="4.3" height="11.52" fill="#ffee00"/>
<rect x="156.21" y="535.1" width="4.3" height="11.52" fill="#ffdd00"/>
<rect x="159.91" y="535.1" width="4.3" height="11.52" fill="#ffc800"/>
<rect x="163.62" y="535.1" width="4.3" height="11.52" fill="#ffee00"/>
<rect x="167.32" y="535.1" width="37.65" height="11.52" fill="#ffc800"/>
<rect x="204.37" y="535.1" width="22.23" height="11.52" fill="#ffee00"/>
<rect x="152.5" y="546.01" width="4.3" height="11.52" fill="#ffc800"/>
<rect x="156.21" y="546.01" width="33.95" height="11.52" fill="#ffa800"/>
<rect x="189.55" y="546.01" width="8.01" height="11.52" fill="#ffff00"/>
<rect x="196.96" y="546.01" width="22.83" height="11.52" fill="#ffc800"/>
<rect x="219.19" y="546.01" width="7.41" height="11.52" fill="#ffdd00"/>
<rect x="152.5" y="556.93" width="37.65" height="11.52" fill="#ffdd00"/>
<rect x="189.55" y="556.93" width="8.01" height="11.52" fill="#ffee00"/>
<rect x="196.96" y="556.93" width="11.71" height="11.52" fill="#ffdd00"/>
<rect x="208.07" y="556.93" width="8.01" height="11.52" fill="#ffee00"/>
<rect x="215.48" y="556.93" width="4.3" height="11.52" fill="#828282"/>
<rect x="219.19" y="556.93" width="4.3" height="11.52" fill="#ffee00"/>
<rect x="222.89" y="556.93" width="3.7" height="11.52" fill="#828282"/>
<rect x="152.5" y="567.85" width="15.42" height="11.52" fill="#ffc800"/>
<rect x="167.32" y="567.85" width="4.3" height="11.52" fill="#ffa800"/>
<rect x="171.03" y="567.85" width="26.54" height="11.52" fill="#ffc800"/>
<rect x="196.96" y="567.85" width="11.71" height="11.52" fill="#ffa800"/>
<rect x="208.07" y="567.85" width="18.52" height="11.52" fill="#ffc800"/>
<rect x="152.5" y="578.77" width="74.1" height="11.52" fill="#828282"/>
<rect x="152.5" y="589.69" width="74.1" height="11.52" fill="#828282"/>
<rect x="152.5" y="600.6" width="45.06" height="11.52" fill="#ffc800"/>
<rect x="196.96" y="600.6" width="4.3" height="11.52" fill="#ffdd00"/>
<rect x="200.66" y="600.6" width="4.3" height="11.52" fill="#ffc800"/>
<rect x="204.37" y="600.6" width="15.42" height="11.52" fill="#ffdd00"/>
<rect x="219.19" y="600.6" width="7.41" height="11.52" fill="#ffee00"/>
<rect x="152.5" y="611.52" width="74.1" height="11.52" fill="#828282"/>
<rect x="152.5" y="622.44" width="74.1" height="10.92" fill="#828282"/>
</g>
<path d="M154.35 28.01h0M158.06 28.01h0M161.76 28.01h0M165.47 28.01h0M169.17 28.01h0M172.88 28.01h0M176.58 28.01h0M180.29 28.01h0M183.99 28.01h0M187.7 28.01h0M191.4 28.01h0M195.11 28.01h0M198.81 28.01h0M202.52 28.01h0M206.22 28.01h0M209.93 28.01h0M213.63 28.01h0M217.34 28.01h0M221.04 28.01h0M224.75 28.01h0M154.35 38.93h0M158.06 38.93h0M161.76 38.93h0M165.47 38.93h0M169.17 38.93h0M172.88 38.93h0M176.58 38.93h0M180.29 38.93h0M183.99 38.93h0M187.7 38.93h0M191.4 38.93h0M195.11 38.93h0M198.81 38.93h0M202.52 38.93h0M206.22 38.93h0M209.93 38.93h0M213.63 38.93h0M217.34 38.93h0M221.04 38.93h0M224.75 38.93h0M154.35 49.84h0M158.06 49.84h0M161.76 49.84h0M165.47 49.84h0M169.17 49.84h0M172.88 49.84h0M176.58 49.84h0M180.29 49.84h0M183.99 49.84h0M187.7 49.84h0M191.4 49.84h0M195.11 49.84h0M198.81 49.84h0M202.52 49.84h0M206.22 49.84h0M209.93 49.84h0M213.63 49.84h0M217.34 49.84h0M221.04 49.84h0M224.75 49.84h0M154.35 60.76h0M158.06 60.76h0M161.76 60.76h0M165.47 60.76h0M169.17 60.76h0M172.88 60.76h0M176.58 60.76h0M180.29 60.76h0M183.99 60.76h0M187.7 60.76h0M195.11 60.76h0M198.81 60.76h0M202.52 60.76h0M206.22 60.76h0M209.93 60.76h0M213.63 60.76h0M217.34 60.76h0M221.04 60.76h0M224.75 60.76h0M154.35 71.68h0M158.06 71.68h0M161.76 71.68h0M165.47 71.68h0M169.17 71.68h0M172.88 71.68h0M176.58 71.68h0M180.29 71.68h0M183.99 71.68h0M187.7 71.68h0M191.4 71.68h0M195.11 71.68h0M198.81 71.68h0M202.52 71.68h0M206.22 71.68h0M209.93 71.68h0M213.63 71.68h0M217.34 71.68h0M221.04 71.68h0M224.75 71.68h0M154.35 82.6h0M158.06 82.6h0M161.76 82.6h0M165.47 82.6h0M169.17 82.6h0M172.88 82.6h0M176.58 82.6h0M183.99 82.6h0M187.7 82.6h0M191.4 82.6h0M195.11 82.6h0M198.81 82.6h0M202.52 82.6h0M209.93 82.6h0M213.63 82.6h0M217.34 82.6h0M221.04 82.6h0M224.75 82.6h0M158.06 93.52h0M161.76 93.52h0M169.17 93.52h0M172.88 93.52h0M176.58 93.52h0M183.99 93.52h0M187.7 93.52h0M198.81 93.52h0M209.93 93.52h0M213.63 93.52h0M217.34 93.52h0M154.35 104.43h0M158.06 104.43h0M161.76 104.43h0M169.17 104.43h0M172.88 104.43h0M176.58 104.43h0M187.7 104.43h0M195.11 104.43h0M198.81 104.43h0M209.93 104.43h0M213.63 104.43h0M217.34 104.43h0M224.75 104.43h0M154.35 115.35h0M158.06 115.35h0M161.76 115.35h0M165.47 115.35h0M169.17 115.35h0M172.88 115.35h0M176.58 115.35h0M180.29 115.35h0M183.99 115.35h0M187.7 115.35h0M191.4 115.35h0M195.11 115.35h0M198.81 115.35h0M202.52 115.35h0M209.93 115.35h0M213.63 115.35h0M217.34 115.35h0M221.04 115.35h0M224.75 115.35h0M154.35 126.27h0M158.06 126.27h0M161.76 126.27h0M165.47 126.27h0M169.17 126.27h0M172.88 126.27h0M176.58 126.27h0M180.29 126.27h0M183.99 126.27h0M187.7 126.27h0M191.4 126.27h0M195.11 126.27h0M198.81 126.27h0M202.52 126.27h0M206.22 126.27h0M209.93 126.27h0M213.63 126.27h0M154.35 137.19h0M158.06 137.19h0M161.76 137.19h0M169.17 137.19h0M176.58 137.19h0M180.29 137.19h0M183.99 137.19h0M187.7 137.19h0M202.52 137.19h0M209.93 137.19h0M213.63 137.19h0M217.34 137.19h0M221.04 137.19h0M158.06 148.11h0M161.76 148.11h0M187.7 148.11h0M202.52 148.11h0M206.22 148.11h0M209.93 148.11h0M213.63 148.11h0M221.04 148.11h0M154.35 159.02h0M158.06 159.02h0M161.76 159.02h0M165.47 159.02h0M169.17 159.02h0M172.88 159.02h0M176.58 159.02h0M183.99 159.02h0M187.7 159.02h0M191.4 159.02h0M195.11 159.02h0M198.81 159.02h0M202.52 159.02h0M209.93 159.02h0M213.63 159.02h0M217.34 159.02h0M221.04 159.02h0M224.75 159.02h0M154.35 169.94h0M158.06 169.94h0M161.76 169.94h0M165.47 169.94h0M169.17 169.94h0M172.88 169.94h0M176.58 169.94h0M187.7 169.94h0M191.4 169.94h0M195.11 169.94h0M198.81 169.94h0M206.22 169.94h0M209.93 169.94h0M213.63 169.94h0M217.34 169.94h0M224.75 169.94h0M158.06 180.86h0M161.76 180.86h0M165.47 180.86h0M169.17 180.86h0M172.88 180.86h0M187.7 180.86h0M198.81 180.86h0M209.93 180.86h0M213.63 180.86h0M217.34 180.86h0M154.35 191.78h0M158.06 191.78h0M161.76 191.78h0M165.47 191.78h0M169.17 191.78h0M172.88 191.78h0M176.58 191.78h0M180.29 191.78h0M183.99 191.78h0M187.7 191.78h0M191.4 191.78h0M195.11 191.78h0M198.81 191.78h0M202.52 191.78h0M206.22 191.78h0M209.93 191.78h0M213.63 191.78h0M217.34 191.78h0M221.04 191.78h0M224.75 191.78h0M154.35 202.7h0M158.06 202.7h0M161.76 202.7h0M165.47 202.7h0M169.17 202.7h0M172.88 202.7h0M176.58 202.7h0M180.29 202.7h0M183.99 202.7h0M187.7 202.7h0M191.4 202.7h0M195.11 202.7h0M198.81 202.7h0M202.52 202.7h0M206.22 202.7h0M209.93 202.7h0M213.63 202.7h0M217.34 202.7h0M221.04 202.7h0M224.75 202.7h0M154.35 224.53h0M158.06 224.53h0M161.76 224.53h0M165.47 224.53h0M169.17 224.53h0M172.88 224.53h0M176.58 224.53h0M180.29 224.53h0M183.99 224.53h0M187.7 224.53h0M191.4 224.53h0M195.11 224.53h0M198.81 224.53h0M202.52 224.53h0M206.22 224.53h0M209.93 224.53h0M213.63 224.53h0M217.34 224.53h0M221.04 224.53h0M224.75 224.53h0M154.35 235.45h0M158.06 235.45h0M161.76 235.45h0M169.17 235.45h0M172.88 235.45h0M187.7 235.45h0M198.81 235.45h0M209.93 235.45h0M213.63 235.45h0M217.34 235.45h0M158.06 246.37h0M169.17 246.37h0M187.7 246.37h0M158.06 257.29h0M169.17 257.29h0M187.7 257.29h0M191.4 257.29h0M198.81 257.29h0M209.93 257.29h0M213.63 257.29h0M217.34 257.29h0M221.04 257.29h0M158.06 268.2h0M169.17 268.2h0M187.7 268.2h0M198.81 268.2h0M217.34 268.2h0M158.06 279.12h0M169.17 279.12h0M213.63 279.12h0M217.34 279.12h0M158.06 290.04h0M154.35 300.96h0M158.06 300.96h0M161.76 300.96h0M165.47 300.96h0M169.17 300.96h0M172.88 300.96h0M176.58 300.96h0M180.29 300.96h0M183.99 300.96h0M187.7 300.96h0M191.4 300.96h0M195.11 300.96h0M154.35 333.71h0M158.06 333.71h0M161.76 333.71h0M165.47 333.71h0M169.17 333.71h0M172.88 333.71h0M176.58 333.71h0M180.29 333.71h0M183.99 333.71h0M187.7 333.71h0M191.4 333.71h0M195.11 333.71h0M154.35 366.47h0M158.06 366.47h0M161.76 366.47h0M165.47 366.47h0M169.17 366.47h0M172.88 366.47h0M176.58 366.47h0M180.29 366.47h0M183.99 366.47h0M187.7 366.47h0M191.4 366.47h0M195.11 366.47h0M198.81 366.47h0M202.52 366.47h0M206.22 366.47h0M154.35 421.06h0M158.06 421.06h0M161.76 421.06h0M165.47 421.06h0M169.17 421.06h0M172.88 421.06h0M176.58 421.06h0M180.29 421.06h0M183.99 421.06h0M187.7 421.06h0M191.4 421.06h0M195.11 421.06h0M198.81 421.06h0M202.52 421.06h0M206.22 421.06h0M154.35 453.81h0M158.06 453.81h0M161.76 453.81h0M165.47 453.81h0M169.17 453.81h0M172.88 453.81h0M176.58 453.81h0M180.29 453.81h0M183.99 453.81h0M187.7 453.81h0M154.35 464.73h0M158.06 464.73h0M161.76 464.73h0M165.47 464.73h0M176.58 464.73h0M183.99 464.73h0M187.7 464.73h0M165.47 552.07h0M169.17 552.07h0M176.58 552.07h0" stroke="#000" stroke-width="2.6" stroke-linecap="round"/>
<g>
<rect x="234.9" y="21.95" width="4.29" height="11.52" fill="#ffc800"/>
<rect x="238.59" y="21.95" width="4.29" height="11.52" fill="#ffa800"/>
<rect x="242.28" y="21.95" width="4.29" height="11.52" fill="#ff8c00"/>
<rect x="245.97" y="21.95" width="7.98" height="11.52" fill="#ffc800"/>
<rect x="253.35" y="21.95" width="7.98" height="11.52" fill="#ffa800"/>
<rect x="260.73" y="21.95" width="4.29" height="11.52" fill="#ffc800"/>
<rect x="264.42" y="21.95" width="4.29" height="11.52" fill="#ffa800"/>
<rect x="268.11" y="21.95" width="4.29" height="11.52" fill="#ff8c00"/>
<rect x="271.8" y="21.95" width="11.67" height="11.52" fill="#ffa800"/>
<rect x="282.87" y="21.95" width="4.29" height="11.52" fill="#ffdd00"/>
<rect x="286.56" y="21.95" width="4.29" height="11.52" fill="#ffee00"/>
<rect x="290.25" y="21.95" width="4.29" height="11.52" fill="#ff8c00"/>
<rect x="293.94" y="21.95" width="11.67" height="11.52" fill="#ffa800"/>
<rect x="305.01" y="21.95" width="3.69" height="11.52" fill="#ff8c00"/>
<rect x="234.9" y="32.87" width="7.98" height="11.52" fill="#ff8c00"/>
<rect x="242.28" y="32.87" width="4.29" height="11.52" fill="#ff6000"/>
<rect x="245.97" y="32.87" width="7.98" height="11.52" fill="#ff8c00"/>
<rect x="253.35" y="32.87" width="7.98" height="11.52" fill="#ffa800"/>
<rect x="260.73" y="32.87" width="4.29" height="11.52" fill="#ffc800"/>
<rect x="264.42" y="32.87" width="4.29" height="11.52" fill="#ffa800"/>
<rect x="268.11" y="32.87" width="4.29" height="11.52" fill="#ff8c00"/>
<rect x="271.8" y="32.87" width="4.29" height="11.52" fill="#ffc800"/>
<rect x="275.49" y="32.87" width="4.29" height="11.52" fill="#ffdd00"/>
<rect x="279.18" y="32.87" width="7.98" height="11.52" fill="#ffa800"/>
<rect x="286.56" y="32.87" width="4.29" height="11.52" fill="#ffc800"/>
<rect x="290.25" y="32.87" width="4.29" height="11.52" fill="#ff6000"/>
<rect x="293.94" y="32.87" width="7.98" height="11.52" fill="#ff8c00"/>
<rect x="301.32" y="32.87" width="4.29" height="11.52" fill="#ffa800"/>
<rect x="305.01" y="32.87" width="3.69" height="11.52" fill="#ff8c00"/>
<rect x="234.9" y="43.79" width="7.98" height="11.52" fill="#ffc800"/>
<rect x="242.28" y="43.79" width="4.29" height="11.52" fill="#ffa800"/>
<rect x="245.97" y="43.79" width="7.98" height="11.52" fill="#ffdd00"/>
<rect x="253.35" y="43.79" width="15.36" height="11.52" fill="#ffff00"/>
<rect x="268.11" y="43.79" width="4.29" height="11.52" fill="#ffc800"/>
<rect x="271.8" y="43.79" width="11.67" height="11.52" fill="#ffdd00"/>
<rect x="282.87" y="43.79" width="4.29" height="11.52" fill="#ffc800"/>
<rect x="286.56" y="43.79" width="4.29" height="11.52" fill="#ffdd00"/>
<rect x="290.25" y="43.79" width="7.98" height="11.52" fill="#ffc800"/>
<rect x="297.63" y="43.79" width="7.98" height="11.52" fill="#ffdd00"/>
<rect x="305.01" y="43.79" width="3.69" height="11.52" fill="#ffee00"/>
<rect x="234.9" y="54.7" width="4.29" height="11.52" fill="#ff8c00"/>
<rect x="238.59" y="54.7" width="4.29" height="11.52" fill="#ffc800"/>
<rect x="242.28" y="54.7" width="4.29" height="11.52" fill="#828282"/>
<rect x="245.97" y="54.7" width="7.98" height="11.52" fill="#ffc800"/>
<rect x="253.35" y="54.7" width="4.29" height="11.52" fill="#ff8c00"/>
<rect x="257.04" y="54.7" width="4.29" height="11.52" fill="#ff6000"/>
<rect x="260.73" y="54.7" width="7.98" height="11.52" fill="#ff8c00"/>
<rect x="268.11" y="54.7" width="4.29" height="11.52" fill="#ff6000"/>
<rect x="271.8" y="54.7" width="4.29" height="11.52" fill="#ffc800"/>
<rect x="275.49" y="54.7" width="7.98" height="11.52" fill="#ff6000"/>
<rect x="282.87" y="54.7" width="7.98" height="11.52" fill="#ffa800"/>
<rect x="290.25" y="54.7" width="7.98" height="11.52" fill="#ff6000"/>
<rect x="297.63" y="54.7" width="7.98" height="11.52" fill="#ff8c00"/>
<rect x="305.01" y="54.7" width="3.69" height="11.52" fill="#ffa800"/>
<rect x="234.9" y="65.62" width="4.29" height="11.52" fill="#ff8c00"/>
<rect x="238.59" y="65.62" width="4.29" height="11.52" fill="#ffa800"/>
<rect x="242.28" y="65.62" width="4.29" height="11.52" fill="#ff6000"/>
<rect x="245.97" y="65.62" width="4.29" height="11.52" fill="#ffc800"/>
<rect x="249.66" y="65.62" width="4.29" height="11.52" fill="#ffa800"/>
<rect x="253.35" y="65.62" width="7.98" height="11.52" fill="#ff8c00"/>
<rect x="260.73" y="65.62" width="7.98" height="11.52" fill="#ffc800"/>
<rect x="268.11" y="65.62" width="4.29" height="11.52" fill="#ff8c00"/>
<rect x="271.8" y="65.62" width="4.29" height="11.52" fill="#ffc800"/>
<rect x="275.49" y="65.62" width="4.29" height="11.52" fill="#ffa800"/>
<rect x="279.18" y="65.62" width="4.29" height="11.52" fill="#ff8c00"/>
<rect x="282.87" y="65.62" width="7.98" height="11.52" fill="#ffc800"/>
<rect x="290.25" y="65.62" width="7.98" height="11.52" fill="#ff6000"/>
<rect x="297.63" y="65.62" width="7.98" height="11.52" fill="#ff8c00"/>
<rect x="305.01" y="65.62" width="3.69" height="11.52" fill="#ffa800"/>
<rect x="234.9" y="76.54" width="4.29" height="11.52" fill="#ffc800"/>
<rect x="238.59" y="76.54" width="4.29" height="11.52" fill="#ffa800"/>
<rect x="242.28" y="76.54" width="4.29" height="11.52" fill="#ff8c00"/>
<rect x="245.97" y="76.54" width="11.67" height="11.52" fill="#ffa800"/>
<rect x="257.04" y="76.54" width="4.29" height="11.52" fill="#ffc800"/>
<rect x="260.73" y="76.54" width="4.29" height="11.52" fill="#ffee00"/>
<rect x="264.42" y="76.54" width="4.29" height="11.52" fill="#ffdd00"/>
<rect x="268.11" y="76.54" width="4.29" height="11.52" fill="#ff8c00"/>
<rect x="271.8" y="76.54" width="4.29" height="11.52" fill="#ffdd00"/>
<rect x="275.49" y="76.54" width="4.29" height="11.52" fill="#ffc800"/>
<rect x="279.18" y="76.54" width="4.29" height="11.52" fill="#ffa800"/>
<rect x="282.87" y="76.54" width="4.29" height="11.52" fill="#ffdd00"/>
<rect x="286.56" y="76.54" width="4.29" height="11.52" fill="#ffc800"/>
<rect x="290.25" y="76.54" width="7.98" height="11.52" fill="#ff8c00"/>
<rect x="297.63" y="76.54" width="4.29" height="11.52" fill="#ffa800"/>
<rect x="301.32" y="76.54" width="4.29" height="11.52" fill="#ffc800"/>
<rect x="305.01" y="76.54" width="3.69" height="11.52" fill="#ffa800"/>
<rect x="234.9" y="87.46" width="4.29" height="11.52" fill="#ffc800"/>
<rect x="238.59" y="87.46" width="4.29" height="11.52" fill="#ffa800"/>
<rect x="242.28" y="87.46" width="4.29" height="11.52" fill="#ff8c00"/>
<rect x="245.97" y="87.46" width="4.29" height="11.52" fill="#ffc800"/>
<rect x="249.66" y="87.46" width="4.29" height="11.52" fill="#ffa800"/>
<rect x="253.35" y="87.46" width="15.36" height="11.52" fill="#ffc800"/>
<rect x="268.11" y="87.46" width="4.29" height="11.52" fill="#ffa800"/>
<rect x="271.8" y="87.46" width="7.98" height="11.52" fill="#ffc800"/>
<rect x="279.18" y="87.46" width="4.29" height="11.52" fill="#ff8c00"/>
<rect x="282.87" y="87.46" width="7.98" height="11.52" fill="#ffc800"/>
<rect x="290.25" y="87.46" width="4.29" height="11.52" fill="#ff8c00"/>
<rect x="293.94" y="87.46" width="4.29" height="11.52" fill="#ffa800"/>
<rect x="297.63" y="87.46" width="4.29" height="11.52" fill="#ff6000"/>
<rect x="301.32" y="87.46" width="7.38" height="11.52" fill="#ffc800"/>
<rect x="234.9" y="98.38" width="4.29" height="11.52" fill="#ffdd00"/>
<rect x="238.59" y="98.38" width="7.98" height="11.52" fill="#ffc800"/>
<rect x="245.97" y="98.38" width="4.29" height="11.52" fill="#ffdd00"/>
<rect x="249.66" y="98.38" width="11.67" height="11.52" fill="#ffc800"/>
<rect x="260.73" y="98.38" width="4.29" height="11.52" fill="#ffee00"/>
<rect x="264.42" y="98.38" width="4.29" height="11.52" fill="#ffdd00"/>
<rect x="268.11" y="98.38" width="4.29" height="11.52" fill="#ffa800"/>
<rect x="271.8" y="98.38" width="4.29" height="11.52" fill="#ffc800"/>
<rect x="275.49" y="98.38" width="4.29" height="11.52" fill="#ffdd00"/>
<rect x="279.18" y="98.38" width="4.29" height="11.52" fill="#ff8c00"/>
<rect x="282.87" y="98.38" width="7.98" height="11.52" fill="#ffdd00"/>
<rect x="290.25" y="98.38" width="4.29" height="11.52" fill="#ffa800"/>
<rect x="293.94" y="98.38" width="4.29" height="11.52" fill="#ffc800"/>
<rect x="297.63" y="98.38" width="4.29" height="11.52" fill="#ffa800"/>
<rect x="301.32" y="98.38" width="7.38" height="11.52" fill="#ffee00"/>
<rect x="234.9" y="109.29" width="7.98" height="11.52" fill="#ffdd00"/>
<rect x="242.28" y="109.29" width="22.74" height="11.52" fill="#ffff00"/>
<rect x="264.42" y="109.29" width="4.29" height="11.52" fill="#ffdd00"/>
<rect x="268.11" y="109.29" width="7.98" height="11.52" fill="#ffff00"/>
<rect x="275.49" y="109.29" width="11.67" height="11.52" fill="#ffee00"/>
<rect x="286.56" y="109.29" width="4.29" height="11.52" fill="#ffff00"/>
<rect x="290.25" y="109.29" width="7.98" height="11.52" fill="#ffc800"/>
<rect x="297.63" y="109.29" width="4.29" height="11.52" fill="#ffdd00"/>
<rect x="301.32" y="109.29" width="4.29" height="11.52" fill="#ffa800"/>
<rect x="305.01" y="109.29" width="3.69" height="11.52" fill="#ffdd00"/>
<rect x="234.9" y="120.21" width="37.5" height="11.52" fill="#ffee00"/>
<rect x="271.8" y="120.21" width="30.12" height="11.52" fill="#ffff00"/>
<rect x="301.32" y="120.21" width="7.38" height="11.52" fill="#ffee00"/>
<rect x="234.9" y="131.13" width="4.29" height="11.52" fill="#ffdd00"/>
<rect x="238.59" y="131.13" width="4.29" height="11.52" fill="#ffc800"/>
<rect x="242.28" y="131.13" width="4.29" height="11.52" fill="#ffdd00"/>
<rect x="245.97" y="131.13" width="7.98" height="11.52" fill="#ffff00"/>
<rect x="253.35" y="131.13" width="11.67" height="11.52" fill="#ffdd00"/>
<rect x="264.42" y="131.13" width="4.29" height="11.52" fill="#ffee00"/>
<rect x="268.11" y="131.13" width="4.29" height="11.52" fill="#ffdd00"/>
<rect x="271.8" y="131.13" width="4.29" height="11.52" fill="#ffee00"/>
<rect x="275.49" y="131.13" width="7.98" height="11.52" fill="#ffff00"/>
<rect x="282.87" y="131.13" width="4.29" height="11.52" fill="#ffee00"/>
<rect x="286.56" y="131.13" width="4.29" height="11.52" fill="#ffdd00"/>
<rect x="290.25" y="131.13" width="4.29" height="11.52" fill="#ffa800"/>
<rect x="293.94" y="131.13" width="4.29" height="11.52" fill="#ffdd00"/>
<rect x="297.63" y="131.13" width="4.29" height="11.52" fill="#ffee00"/>
<rect x="301.32" y="131.13" width="7.38" height="11.52" fill="#ffdd00"/>
<rect x="234.9" y="142.05" width="7.98" height="11.52" fill="#ffdd00"/>
<rect x="242.28" y="142.05" width="4.29" height="11.52" fill="#ffee00"/>
<rect x="245.97" y="142.05" width="7.98" height="11.52" fill="#ffff00"/>
<rect x="253.35" y="142.05" width="7.98" height="11.52" fill="#ffee00"/>
<rect x="260.73" y="142.05" width="7.98" height="11.52" fill="#ffff00"/>
<rect x="268.11" y="142.05" width="7.98" height="11.52" fill="#ffee00"/>
<rect x="275.49" y="142.05" width="7.98" height="11.52" fill="#ffff00"/>
<rect x="282.87" y="142.05" width="4.29" height="11.52" fill="#ffee00"/>
<rect x="286.56" y="142.05" width="7.98" height="11.52" fill="#ffff00"/>
<rect x="293.94" y="142.05" width="4.29" height="11.52" fill="#ffee00"/>
<rect x="297.63" y="142.05" width="4.29" height="11.52" fill="#ffdd00"/>
<rect x="301.32" y="142.05" width="7.38" height="11.52" fill="#ffee00"/>
<rect x="234.9" y="152.97" width="4.29" height="11.52" fill="#ffa800"/>
<rect x="238.59" y="152.97" width="4.29" height="11.52" fill="#ff8c00"/>
<rect x="242.28" y="152.97" width="4.29" height="11.52" fill="#ff6000"/>
<rect x="245.97" y="152.97" width="4.29" height="11.52" fill="#ff8c00"/>
<rect x="249.66" y="152.97" width="4.29" height="11.52" fill="#ffa800"/>
<rect x="253.35" y="152.97" width="4.29" height="11.52" fill="#ff8c00"/>
<rect x="257.04" y="152.97" width="4.29" height="11.52" fill="#ffc800"/>
<rect x="260.73" y="152.97" width="4.29" height="11.52" fill="#ffee00"/>
<rect x="264.42" y="152.97" width="4.29" height="11.52" fill="#ffa800"/>
<rect x="268.11" y="152.97" width="4.29" height="11.52" fill="#ff8c00"/>
<rect x="271.8" y="152.97" width="4.29" height="11.52" fill="#ffc800"/>
<rect x="275.49" y="152.97" width="4.29" height="11.52" fill="#ffa800"/>
<rect x="279.18" y="152.97" width="4.29" height="11.52" fill="#ff6000"/>
<rect x="282.87" y="152.97" width="4.29" height="11.52" fill="#ffdd00"/>
<rect x="286.56" y="152.97" width="4.29" height="11.52" fill="#ffc800"/>
<rect x="290.25" y="152.97" width="4.29" height="11.52" fill="#ff8c00"/>
<rect x="293.94" y="152.97" width="4.29" height="11.52" fill="#ff6000"/>
<rect x="297.63" y="152.97" width="4.29" height="11.52" fill="#ff8c00"/>
<rect x="301.32" y="152.97" width="4.29" height="11.52" fill="#ffc800"/>
<rect x="305.01" y="152.97" width="3.69" height="11.52" fill="#ffa800"/>
<rect x="234.9" y="163.88" width="4.29" height="11.52" fill="#ffc800"/>
<rect x="238.59" y="163.88" width="4.29" height="11.52" fill="#ffa800"/>
<rect x="242.28" y="163.88" width="4.29" height="11.52" fill="#ffdd00"/>
<rect x="245.97" y="163.88" width="4.29" height="11.52" fill="#ffee00"/>
<rect x="249.66" y="163.88" width="7.98" height="11.52" fill="#ff8c00"/>
<rect x="257.04" y="163.88" width="7.98" height="11.52" fill="#ffee00"/>
<rect x="264.42" y="163.88" width="4.29" height="11.52" fill="#ffdd00"/>
<rect x="268.11" y="163.88" width="4.29" height="11.52" fill="#ff8c00"/>
<rect x="271.8" y="163.88" width="4.29" height="11.52" fill="#ffdd00"/>
<rect x="275.49" y="163.88" width="4.29" height="11.52" fill="#ffc800"/>
<rect x="279.18" y="163.88" width="4.29" height="11.52" fill="#ff8c00"/>
<rect x="282.87" y="163.88" width="4.29" height="11.52" fill="#ffee00"/>
<rect x="286.56" y="163.88" width="4.29" height="11.52" fill="#ffdd00"/>
<rect x="290.25" y="163.88" width="4.29" height="11.52" fill="#ff8c00"/>
<rect x="293.94" y="163.88" width="4.29" height="11.52" fill="#ffdd00"/>
<rect x="297.63" y="163.88" width="4.29" height="11.52" fill="#ff8c00"/>
<rect x="301.32" y="163.88" width="4.29" height="11.52" fill="#ffee00"/>
<rect x="305.01" y="163.88" width="3.69" height="11.52" fill="#ffdd00"/>
<rect x="234.9" y="174.8" width="11.67" height="11.52" fill="#ffdd00"/>
<rect x="245.97" y="174.8" width="4.29" height="11.52" fill="#ffee00"/>
<rect x="249.66" y="174.8" width="4.29" height="11.52" fill="#ffdd00"/>
<rect x="253.35" y="174.8" width="15.36" height="11.52" fill="#ffee00"/>
<rect x="268.11" y="174.8" width="4.29" height="11.52" fill="#ffc800"/>
<rect x="271.8" y="174.8" width="4.29" height="11.52" fill="#ffee00"/>
<rect x="275.49" y="174.8" width="4.29" height="11.52" fill="#ffdd00"/>
<rect x="279.18" y="174.8" width="4.29" height="11.52" fill="#ffc800"/>
<rect x="282.87" y="174.8" width="7.98" height="11.52" fill="#ffee00"/>
<rect x="290.25" y="174.8" width="11.67" height="11.52" fill="#ffc800"/>
<rect x="301.32" y="174.8" width="4.29" height="11.52" fill="#ffff00"/>
<rect x="305.01" y="174.8" width="3.69" height="11.52" fill="#ffdd00"/>
<rect x="234.9" y="185.72" width="4.29" height="11.52" fill="#ffee00"/>
<rect x="238.59" y="185.72" width="7.98" height="11.52" fill="#ffdd00"/>
<rect x="245.97" y="185.72" width="4.29" height="11.52" fill="#ffc800"/>
<rect x="249.66" y="185.72" width="4.29" height="11.52" fill="#ffee00"/>
<rect x="253.35" y="185.72" width="7.98" height="11.52" fill="#ffc800"/>
<rect x="260.73" y="185.72" width="26.43" height="11.52" fill="#ffdd00"/>
<rect x="286.56" y="185.72" width="4.29" height="11.52" fill="#ffc800"/>
<rect x="290.25" y="185.72" width="7.98" height="11.52" fill="#ff8c00"/>
<rect x="297.63" y="185.72" width="4.29" height="11.52" fill="#ffa800"/>
<rect x="301.32" y="185.72" width="4.29" height="11.52" fill="#ff6000"/>
<rect x="305.01" y="185.72" width="3.69" height="11.52" fill="#ff8c00"/>
<rect x="234.9" y="196.64" width="4.29" height="11.52" fill="#ffc800"/>
<rect x="238.59" y="196.64" width="4.29" height="11.52" fill="#ffa800"/>
<rect x="242.28" y="196.64" width="7.98" height="11.52" fill="#ffc800"/>
<rect x="249.66" y="196.64" width="4.29" height="11.52" fill="#ffee00"/>
<rect x="253.35" y="196.64" width="4.29" height="11.52" fill="#ffc800"/>
<rect x="257.04" y="196.64" width="4.29" height="11.52" fill="#ffee00"/>
<rect x="260.73" y="196.64" width="4.29" height="11.52" fill="#ffff00"/>
<rect x="264.42" y="196.64" width="4.29" height="11.52" fill="#ffdd00"/>
<rect x="268.11" y="196.64" width="4.29" height="11.52" fill="#ffc800"/>
<rect x="271.8" y="196.64" width="4.29" height="11.52" fill="#ffff00"/>
<rect x="275.49" y="196.64" width="7.98" height="11.52" fill="#ffdd00"/>
<rect x="282.87" y="196.64" width="4.29" height="11.52" fill="#ffc800"/>
<rect x="286.56" y="196.64" width="4.29" height="11.52" fill="#ffa800"/>
<rect x="290.25" y="196.64" width="4.29" height="11.52" fill="#ff8c00"/>
<rect x="293.94" y="196.64" width="4.29" height="11.52" fill="#ffc800"/>
<rect x="297.63" y="196.64" width="4.29" height="11.52" fill="#ffdd00"/>
<rect x="301.32" y="196.64" width="7.38" height="11.52" fill="#ff8c00"/>
<rect x="234.9" y="207.56" width="73.8" height="11.52" fill="#ffff00"/>
<rect x="234.9" y="218.47" width="11.67" height="11.52" fill="#ffdd00"/>
<rect x="245.97" y="218.47" width="4.29" height="11.52" fill="#ffee00"/>
<rect x="249.66" y="218.47" width="4.29" height="11.52" fill="#ffdd00"/>
<rect x="253.35" y="218.47" width="15.36" height="11.52" fill="#ffee00"/>
<rect x="268.11" y="218.47" width="7.98" height="11.52" fill="#ffff00"/>
<rect x="275.49" y="218.47" width="15.36" height="11.52" fill="#ffee00"/>
<rect x="290.25" y="218.47" width="4.29" height="11.52" fill="#ffdd00"/>
<rect x="293.94" y="218.47" width="7.98" height="11.52" fill="#ffee00"/>
<rect x="301.32" y="218.47" width="4.29" height="11.52" fill="#ffc800"/>
<rect x="305.01" y="218.47" width="3.69" height="11.52" fill="#ffdd00"/>
<rect x="234.9" y="229.39" width="4.29" height="11.52" fill="#ffdd00"/>
<rect x="238.59" y="229.39" width="4.29" height="11.52" fill="#ffc800"/>
<rect x="242.28" y="229.39" width="7.98" height="11.52" fill="#ffdd00"/>
<rect x="249.66" y="229.39" width="7.98" height="11.52" fill="#ffc800"/>
<rect x="257.04" y="229.39" width="4.29" height="11.52" fill="#ffdd00"/>
<rect x="260.73" y="229.39" width="7.98" height="11.52" fill="#ffee00"/>
<rect x="268.11" y="229.39" width="4.29" height="11.52" fill="#ffc800"/>
<rect x="271.8" y="229.39" width="7.98" height="11.52" fill="#ffdd00"/>
<rect x="279.18" y="229.39" width="4.29" height="11.52" fill="#ffc800"/>
<rect x="282.87" y="229.39" width="7.98" height="11.52" fill="#ffee00"/>
<rect x="290.25" y="229.39" width="4.29" height="11.52" fill="#ffc800"/>
<rect x="293.94" y="229.39" width="4.29" height="11.52" fill="#ffdd00"/>
<rect x="297.63" y="229.39" width="4.29" height="11.52" fill="#ffa800"/>
<rect x="301.32" y="229.39" width="7.38" height="11.52" fill="#ffee00"/>
<rect x="234.9" y="240.31" width="4.29" height="11.52" fill="#ffee00"/>
<rect x="238.59" y="240.31" width="7.98" height="11.52" fill="#ffff00"/>
<rect x="245.97" y="240.31" width="4.29" height="11.52" fill="#ffee00"/>
<rect x="249.66" y="240.31" width="52.26" height="11.52" fill="#ffff00"/>
<rect x="301.32" y="240.31" width="7.38" height="11.52" fill="#ffee00"/>
<rect x="234.9" y="251.23" width="63.33" height="11.52" fill="#828282"/>
<rect x="297.63" y="251.23" width="4.29" height="11.52" fill="#ffa800"/>
<rect x="301.32" y="251.23" width="7.38" height="11.52" fill="#ffc800"/>
<rect x="234.9" y="262.15" width="4.29" height="11.52" fill="#ffee00"/>
<rect x="238.59" y="262.15" width="4.29" height="11.52" fill="#ffa800"/>
<rect x="242.28" y="262.15" width="4.29" height="11.52" fill="#ffff00"/>
<rect x="245.97" y="262.15" width="4.29" height="11.52" fill="#ffee00"/>
<rect x="249.66" y="262.15" width="55.95" height="11.52" fill="#828282"/>
<rect x="305.01" y="262.15" width="3.69" height="11.52" fill="#ffee00"/>
<rect x="234.9" y="273.06" width="73.8" height="11.52" fill="#ffff00"/>
<rect x="234.9" y="283.98" width="41.19" height="11.52" fill="#ffee00"/>
<rect x="275.49" y="283.98" width="33.21" height="11.52" fill="#ffff00"/>
<rect x="234.9" y="294.9" width="4.29" height="11.52" fill="#ffee00"/>
<rect x="238.59" y="294.9" width="7.98" height="11.52" fill="#ffdd00"/>
<rect x="245.97" y="294.9" width="7.98" height="11.52" fill="#ffee00"/>
<rect x="253.35" y="294.9" width="4.29" height="11.52" fill="#ffdd00"/>
<rect x="257.04" y="294.9" width="11.67" height="11.52" fill="#ffee00"/>
<rect x="268.11" y="294.9" width="4.29" height="11.52" fill="#ffdd00"/>
<rect x="271.8" y="294.9" width="36.9" height="11.52" fill="#ffff00"/>
<rect x="234.9" y="305.82" width="73.8" height="11.52" fill="#ffff00"/>
<rect x="234.9" y="316.74" width="73.8" height="11.52" fill="#ffff00"/>
<rect x="234.9" y="327.65" width="73.8" height="11.52" fill="#ffff00"/>
<rect x="234.9" y="338.57" width="73.8" height="11.52" fill="#ffff00"/>
<rect x="234.9" y="349.49" width="73.8" height="11.52" fill="#828282"/>
<rect x="234.9" y="360.41" width="59.64" height="11.52" fill="#828282"/>
<rect x="293.94" y="360.41" width="11.67" height="11.52" fill="#ffff00"/>
<rect x="305.01" y="360.41" width="3.69" height="11.52" fill="#828282"/>
<rect x="234.9" y="371.33" width="4.29" height="11.52" fill="#ffff00"/>
<rect x="238.59" y="371.33" width="4.29" height="11.52" fill="#ffee00"/>
<rect x="242.28" y="371.33" width="55.95" height="11.52" fill="#ffff00"/>
<rect x="297.63" y="371.33" width="4.29" height="11.52" fill="#ffee00"/>
<rect x="301.32" y="371.33" width="7.38" height="11.52" fill="#ffff00"/>
<rect x="234.9" y="382.24" width="11.67" height="11.52" fill="#ffee00"/>
<rect x="245.97" y="382.24" width="62.73" height="11.52" fill="#ffff00"/>
<rect x="234.9" y="393.16" width="22.74" height="11.52" fill="#ffff00"/>
<rect x="257.04" y="393.16" width="48.57" height="11.52" fill="#828282"/>
<rect x="305.01" y="393.16" width="3.69" height="11.52" fill="#ffff00"/>
<rect x="234.9" y="404.08" width="7.98" height="11.52" fill="#ffff00"/>
<rect x="242.28" y="404.08" width="4.29" height="11.52" fill="#ffee00"/>
<rect x="245.97" y="404.08" width="4.29" height="11.52" fill="#ffff00"/>
<rect x="249.66" y="404.08" width="7.98" height="11.52" fill="#ffee00"/>
<rect x="257.04" y="404.08" width="51.66" height="11.52" fill="#ffff30"/>
<rect x="234.9" y="415" width="55.95" height="11.52" fill="#ffff00"/>
<rect x="290.25" y="415" width="18.45" height="11.52" fill="#ffff30"/>
<rect x="234.9" y="425.92" width="59.64" height="11.52" fill="#ffff00"/>
<rect x="293.94" y="425.92" width="14.76" height="11.52" fill="#ffff30"/>
<rect x="234.9" y="436.83" width="4.29" height="11.52" fill="#ffff30"/>
<rect x="238.59" y="436.83" width="22.74" height="11.52" fill="#ffff00"/>
<rect x="260.73" y="436.83" width="47.97" height="11.52" fill="#ffff30"/>
<rect x="234.9" y="447.75" width="33.81" height="11.52" fill="#ffff00"/>
<rect x="268.11" y="447.75" width="4.29" height="11.52" fill="#ffee00"/>
<rect x="271.8" y="447.75" width="19.05" height="11.52" fill="#ffff00"/>
<rect x="290.25" y="447.75" width="18.45" height="11.52" fill="#ffff30"/>
<rect x="234.9" y="458.67" width="67.02" height="11.52" fill="#ffff00"/>
<rect x="301.32" y="458.67" width="7.38" height="11.52" fill="#ffff30"/>
<rect x="234.9" y="469.59" width="48.57" height="11.52" fill="#ffff00"/>
<rect x="282.87" y="469.59" width="25.83" height="11.52" fill="#ffff30"/>
<rect x="234.9" y="480.51" width="67.02" height="11.52" fill="#ffff00"/>
<rect x="301.32" y="480.51" width="7.38" height="11.52" fill="#ffff30"/>
<rect x="234.9" y="491.42" width="67.02" height="11.52" fill="#ffff00"/>
<rect x="301.32" y="491.42" width="7.38" height="11.52" fill="#ffff30"/>
<rect x="234.9" y="502.34" width="63.33" height="11.52" fill="#ffff00"/>
<rect x="297.63" y="502.34" width="11.07" height="11.52" fill="#ffff30"/>
<rect x="234.9" y="513.26" width="4.29" height="11.52" fill="#ffff00"/>
<rect x="238.59" y="513.26" width="15.36" height="11.52" fill="#ffee00"/>
<rect x="253.35" y="513.26" width="55.35" height="11.52" fill="#ffff00"/>
<rect x="234.9" y="524.18" width="7.98" height="11.52" fill="#ffff30"/>
<rect x="242.28" y="524.18" width="4.29" height="11.52" fill="#ffff00"/>
<rect x="245.97" y="524.18" width="4.29" height="11.52" fill="#ffff30"/>
<rect x="249.66" y="524.18" width="7.98" height="11.52" fill="#ffff00"/>
<rect x="257.04" y="524.18" width="51.66" height="11.52" fill="#ffff30"/>
<rect x="234.9" y="535.1" width="7.98" height="11.52" fill="#ffff30"/>
<rect x="242.28" y="535.1" width="22.74" height="11.52" fill="#ffff00"/>
<rect x="264.42" y="535.1" width="44.28" height="11.52" fill="#ffff30"/>
<rect x="234.9" y="546.01" width="44.88" height="11.52" fill="#828282"/>
<rect x="279.18" y="546.01" width="11.67" height="11.52" fill="#ffff30"/>
<rect x="290.25" y="546.01" width="4.29" height="11.52" fill="#ffff00"/>
<rect x="293.94" y="546.01" width="14.76" height="11.52" fill="#ffff30"/>
<rect x="234.9" y="556.93" width="33.81" height="11.52" fill="#ffee00"/>
<rect x="268.11" y="556.93" width="11.67" height="11.52" fill="#ffff30"/>
<rect x="279.18" y="556.93" width="7.98" height="11.52" fill="#ffff00"/>
<rect x="286.56" y="556.93" width="4.29" height="11.52" fill="#ffff30"/>
<rect x="290.25" y="556.93" width="11.67" height="11.52" fill="#ffff00"/>
<rect x="301.32" y="556.93" width="7.38" height="11.52" fill="#ffff30"/>
<rect x="234.9" y="567.85" width="73.8" height="11.52" fill="#ffff30"/>
<rect x="234.9" y="578.77" width="55.95" height="11.52" fill="#ffff00"/>
<rect x="290.25" y="578.77" width="15.36" height="11.52" fill="#ffff30"/>
<rect x="305.01" y="578.77" width="3.69" height="11.52" fill="#828282"/>
<rect x="234.9" y="589.69" width="7.98" height="11.52" fill="#ffff30"/>
<rect x="242.28" y="589.69" width="4.29" height="11.52" fill="#ffff00"/>
<rect x="245.97" y="589.69" width="4.29" height="11.52" fill="#ffff30"/>
<rect x="249.66" y="589.69" width="11.67" height="11.52" fill="#ffff00"/>
<rect x="260.73" y="589.69" width="47.97" height="11.52" fill="#ffff30"/>
<rect x="234.9" y="600.6" width="15.36" height="11.52" fill="#ffff00"/>
<rect x="249.66" y="600.6" width="4.29" height="11.52" fill="#ffff30"/>
<rect x="253.35" y="600.6" width="4.29" height="11.52" fill="#ffff00"/>
<rect x="257.04" y="600.6" width="51.66" height="11.52" fill="#ffff30"/>
<rect x="234.9" y="611.52" width="73.8" height="11.52" fill="#ffff30"/>
<rect x="234.9" y="622.44" width="73.8" height="10.92" fill="#ffff30"/>
</g>
<path d="M244.12 28.01h0M255.19 28.01h0M258.88 28.01h0M266.26 28.01h0M269.95 28.01h0M292.09 28.01h0M295.78 28.01h0M299.48 28.01h0M303.16 28.01h0M236.75 38.93h0M240.44 38.93h0M244.12 38.93h0M247.81 38.93h0M251.5 38.93h0M255.19 38.93h0M258.88 38.93h0M269.95 38.93h0M281.02 38.93h0M292.09 38.93h0M295.78 38.93h0M299.48 38.93h0M303.16 38.93h0M306.86 38.93h0M236.75 60.76h0M255.19 60.76h0M258.88 60.76h0M262.57 60.76h0M266.26 60.76h0M269.95 60.76h0M277.33 60.76h0M281.02 60.76h0M292.09 60.76h0M295.78 60.76h0M299.48 60.76h0M303.16 60.76h0M306.86 60.76h0M236.75 71.68h0M240.44 71.68h0M244.12 71.68h0M247.81 71.68h0M255.19 71.68h0M258.88 71.68h0M269.95 71.68h0M277.33 71.68h0M281.02 71.68h0M284.71 71.68h0M292.09 71.68h0M295.78 71.68h0M299.48 71.68h0M303.16 71.68h0M306.86 71.68h0M240.44 82.6h0M244.12 82.6h0M247.81 82.6h0M251.5 82.6h0M255.19 82.6h0M258.88 82.6h0M269.95 82.6h0M281.02 82.6h0M292.09 82.6h0M295.78 82.6h0M299.48 82.6h0M306.86 82.6h0M240.44 93.52h0M244.12 93.52h0M251.5 93.52h0M269.95 93.52h0M281.02 93.52h0M292.09 93.52h0M295.78 93.52h0M299.48 93.52h0M281.02 104.43h0M292.09 137.19h0M240.44 159.02h0M244.12 159.02h0M247.81 159.02h0M255.19 159.02h0M269.95 159.02h0M277.33 159.02h0M281.02 159.02h0M292.09 159.02h0M295.78 159.02h0M299.48 159.02h0M240.44 169.94h0M251.5 169.94h0M255.19 169.94h0M269.95 169.94h0M281.02 169.94h0M292.09 169.94h0M299.48 169.94h0M288.4 191.78h0M292.09 191.78h0M295.78 191.78h0M303.16 191.78h0M306.86 191.78h0M288.4 202.7h0M292.09 202.7h0M303.16 202.7h0M306.86 202.7h0M299.48 235.45h0" stroke="#000" stroke-width="2.6" stroke-linecap="round"/>
<g>
<rect x="318.4" y="21.95" width="11.71" height="11.52" fill="#cb181d"/>
<rect x="329.51" y="21.95" width="4.3" height="11.52" fill="#ef3b2c"/>
<rect x="333.21" y="21.95" width="8.01" height="11.52" fill="#cb181d"/>
<rect x="340.62" y="21.95" width="4.3" height="11.52" fill="#fc9272"/>
<rect x="344.32" y="21.95" width="4.3" height="11.52" fill="#fcbba1"/>
<rect x="348.02" y="21.95" width="4.3" height="11.52" fill="#ef3b2c"/>
<rect x="351.72" y="21.95" width="4.3" height="11.52" fill="#a50f15"/>
<rect x="355.42" y="21.95" width="4.3" height="11.52" fill="#ef3b2c"/>
<rect x="359.13" y="21.95" width="8.01" height="11.52" fill="#cb181d"/>
<rect x="366.53" y="21.95" width="4.3" height="11.52" fill="#fc9272"/>
<rect x="370.24" y="21.95" width="4.3" height="11.52" fill="#fcbba1"/>
<rect x="373.94" y="21.95" width="8.01" height="11.52" fill="#ef3b2c"/>
<rect x="381.34" y="21.95" width="4.3" height="11.52" fill="#fb6a4a"/>
<rect x="385.04" y="21.95" width="7.41" height="11.52" fill="#fcbba1"/>
<rect x="318.4" y="32.87" width="11.71" height="11.52" fill="#ef3b2c"/>
<rect x="329.51" y="32.87" width="4.3" height="11.52" fill="#fb6a4a"/>
<rect x="333.21" y="32.87" width="4.3" height="11.52" fill="#fc9272"/>
<rect x="336.91" y="32.87" width="4.3" height="11.52" fill="#fb6a4a"/>
<rect x="340.62" y="32.87" width="4.3" height="11.52" fill="#fc9272"/>
<rect x="344.32" y="32.87" width="4.3" height="11.52" fill="#fb6a4a"/>
<rect x="348.02" y="32.87" width="4.3" height="11.52" fill="#ef3b2c"/>
<rect x="351.72" y="32.87" width="4.3" height="11.52" fill="#fb6a4a"/>
<rect x="355.42" y="32.87" width="4.3" height="11.52" fill="#fc9272"/>
<rect x="359.13" y="32.87" width="4.3" height="11.52" fill="#fcbba1"/>
<rect x="362.83" y="32.87" width="4.3" height="11.52" fill="#fee5d9"/>
<rect x="366.53" y="32.87" width="4.3" height="11.52" fill="#fc9272"/>
<rect x="370.24" y="32.87" width="4.3" height="11.52" fill="#fcbba1"/>
<rect x="373.94" y="32.87" width="8.01" height="11.52" fill="#fb6a4a"/>
<rect x="381.34" y="32.87" width="11.11" height="11.52" fill="#fc9272"/>
<rect x="318.4" y="43.79" width="11.71" height="11.52" fill="#cb181d"/>
<rect x="329.51" y="43.79" width="4.3" height="11.52" fill="#ef3b2c"/>
<rect x="333.21" y="43.79" width="4.3" height="11.52" fill="#fc9272"/>
<rect x="336.91" y="43.79" width="4.3" height="11.52" fill="#ef3b2c"/>
<rect x="340.62" y="43.79" width="4.3" height="11.52" fill="#fcbba1"/>
<rect x="344.32" y="43.79" width="8.01" height="11.52" fill="#fc9272"/>
<rect x="351.72" y="43.79" width="4.3" height="11.52" fill="#fb6a4a"/>
<rect x="355.42" y="43.79" width="4.3" height="11.52" fill="#fcbba1"/>
<rect x="359.13" y="43.79" width="4.3" height="11.52" fill="#fb6a4a"/>
<rect x="362.83" y="43.79" width="4.3" height="11.52" fill="#fc9272"/>
<rect x="366.53" y="43.79" width="4.3" height="11.52" fill="#ef3b2c"/>
<rect x="370.24" y="43.79" width="4.3" height="11.52" fill="#fc9272"/>
<rect x="373.94" y="43.79" width="4.3" height="11.52" fill="#cb181d"/>
<rect x="377.64" y="43.79" width="4.3" height="11.52" fill="#ef3b2c"/>
<rect x="381.34" y="43.79" width="8.01" height="11.52" fill="#fb6a4a"/>
<rect x="388.75" y="43.79" width="3.7" height="11.52" fill="#fc9272"/>
<rect x="318.4" y="54.7" width="8.01" height="11.52" fill="#fcbba1"/>
<rect x="325.8" y="54.7" width="4.3" height="11.52" fill="#828282"/>
<rect x="329.51" y="54.7" width="4.3" height="11.52" fill="#dde9f5"/>
<rect x="333.21" y="54.7" width="8.01" height="11.52" fill="#fc9272"/>
<rect x="340.62" y="54.7" width="4.3" height="11.52" fill="#dde9f5"/>
<rect x="344.32" y="54.7" width="4.3" height="11.52" fill="#fee5d9"/>
<rect x="348.02" y="54.7" width="8.01" height="11.52" fill="#fc9272"/>
<rect x="355.42" y="54.7" width="4.3" height="11.52" fill="#dde9f5"/>
<rect x="359.13" y="54.7" width="8.01" height="11.52" fill="#9ecae1"/>
<rect x="366.53" y="54.7" width="8.01" height="11.52" fill="#fcbba1"/>
<rect x="373.94" y="54.7" width="8.01" height="11.52" fill="#fc9272"/>
<rect x="381.34" y="54.7" width="4.3" height="11.52" fill="#fee5d9"/>
<rect x="385.04" y="54.7" width="7.41" height="11.52" fill="#fc9272"/>
<rect x="318.4" y="65.62" width="4.3" height="11.52" fill="#fb6a4a"/>
<rect x="322.1" y="65.62" width="8.01" height="11.52" fill="#fc9272"/>
<rect x="329.51" y="65.62" width="11.71" height="11.52" fill="#fcbba1"/>
<rect x="340.62" y="65.62" width="4.3" height="11.52" fill="#fee5d9"/>
<rect x="344.32" y="65.62" width="11.71" height="11.52" fill="#fcbba1"/>
<rect x="355.42" y="65.62" width="4.3" height="11.52" fill="#fee5d9"/>
<rect x="359.13" y="65.62" width="4.3" height="11.52" fill="#dde9f5"/>
<rect x="362.83" y="65.62" width="4.3" height="11.52" fill="#fcbba1"/>
<rect x="366.53" y="65.62" width="8.01" height="11.52" fill="#fee5d9"/>
<rect x="373.94" y="65.62" width="8.01" height="11.52" fill="#fcbba1"/>
<rect x="381.34" y="65.62" width="4.3" height="11.52" fill="#dde9f5"/>
<rect x="385.04" y="65.62" width="7.41" height="11.52" fill="#fee5d9"/>
<rect x="318.4" y="76.54" width="8.01" height="11.52" fill="#fcbba1"/>
<rect x="325.8" y="76.54" width="4.3" height="11.52" fill="#fc9272"/>
<rect x="329.51" y="76.54" width="15.41" height="11.52" fill="#fcbba1"/>
<rect x="344.32" y="76.54" width="4.3" height="11.52" fill="#fee5d9"/>
<rect x="348.02" y="76.54" width="11.71" height="11.52" fill="#fcbba1"/>
<rect x="359.13" y="76.54" width="4.3" height="11.52" fill="#fee5d9"/>
<rect x="362.83" y="76.54" width="4.3" height="11.52" fill="#fcbba1"/>
<rect x="366.53" y="76.54" width="8.01" height="11.52" fill="#fee5d9"/>
<rect x="373.94" y="76.54" width="8.01" height="11.52" fill="#fcbba1"/>
<rect x="381.34" y="76.54" width="11.11" height="11.52" fill="#fee5d9"/>
<rect x="318.4" y="87.46" width="11.71" height="11.52" fill="#fee5d9"/>
<rect x="329.51" y="87.46" width="4.3" height="11.52" fill="#dde9f5"/>
<rect x="333.21" y="87.46" width="22.82" height="11.52" fill="#fee5d9"/>
<rect x="355.42" y="87.46" width="4.3" height="11.52" fill="#dde9f5"/>
<rect x="359.13" y="87.46" width="11.71" height="11.52" fill="#fee5d9"/>
<rect x="370.24" y="87.46" width="11.71" height="11.52" fill="#dde9f5"/>
<rect x="381.34" y="87.46" width="4.3" height="11.52" fill="#9ecae1"/>
<rect x="385.04" y="87.46" width="4.3" height="11.52" fill="#dde9f5"/>
<rect x="388.75" y="87.46" width="3.7" height="11.52" fill="#c6dbef"/>
<rect x="318.4" y="98.38" width="4.3" height="11.52" fill="#fee5d9"/>
<rect x="322.1" y="98.38" width="8.01" height="11.52" fill="#fcbba1"/>
<rect x="329.51" y="98.38" width="4.3" height="11.52" fill="#fee5d9"/>
<rect x="333.21" y="98.38" width="4.3" height="11.52" fill="#fcbba1"/>
<rect x="336.91" y="98.38" width="4.3" height="11.52" fill="#fee5d9"/>
<rect x="340.62" y="98.38" width="4.3" height="11.52" fill="#dde9f5"/>
<rect x="344.32" y="98.38" width="19.11" height="11.52" fill="#fee5d9"/>
<rect x="362.83" y="98.38" width="4.3" height="11.52" fill="#c6dbef"/>
<rect x="366.53" y="98.38" width="4.3" height="11.52" fill="#fee5d9"/>
<rect x="370.24" y="98.38" width="4.3" height="11.52" fill="#dde9f5"/>
<rect x="373.94" y="98.38" width="18.51" height="11.52" fill="#fcbba1"/>
<rect x="318.4" y="109.29" width="8.01" height="11.52" fill="#cb181d"/>
<rect x="325.8" y="109.29" width="4.3" height="11.52" fill="#a50f15"/>
<rect x="329.51" y="109.29" width="8.01" height="11.52" fill="#fb6a4a"/>
<rect x="336.91" y="109.29" width="4.3" height="11.52" fill="#ef3b2c"/>
<rect x="340.62" y="109.29" width="4.3" height="11.52" fill="#fc9272"/>
<rect x="344.32" y="109.29" width="8.01" height="11.52" fill="#fcbba1"/>
<rect x="351.72" y="109.29" width="4.3" height="11.52" fill="#fc9272"/>
<rect x="355.42" y="109.29" width="19.11" height="11.52" fill="#fcbba1"/>
<rect x="373.94" y="109.29" width="8.01" height="11.52" fill="#fb6a4a"/>
<rect x="381.34" y="109.29" width="8.01" height="11.52" fill="#fc9272"/>
<rect x="388.75" y="109.29" width="3.7" height="11.52" fill="#fcbba1"/>
<rect x="318.4" y="120.21" width="45.03" height="11.52" fill="#fb6a4a"/>
<rect x="362.83" y="120.21" width="11.71" height="11.52" fill="#fc9272"/>
<rect x="373.94" y="120.21" width="18.51" height="11.52" fill="#fcbba1"/>
<rect x="318.4" y="131.13" width="8.01" height="11.52" fill="#fc9272"/>
<rect x="325.8" y="131.13" width="4.3" height="11.52" fill="#ef3b2c"/>
<rect x="329.51" y="131.13" width="8.01" height="11.52" fill="#fcbba1"/>
<rect x="336.91" y="131.13" width="8.01" height="11.52" fill="#fee5d9"/>
<rect x="344.32" y="131.13" width="8.01" height="11.52" fill="#fcbba1"/>
<rect x="351.72" y="131.13" width="4.3" height="11.52" fill="#fb6a4a"/>
<rect x="355.42" y="131.13" width="8.01" height="11.52" fill="#fee5d9"/>
<rect x="362.83" y="131.13" width="8.01" height="11.52" fill="#fcbba1"/>
<rect x="370.24" y="131.13" width="4.3" height="11.52" fill="#fee5d9"/>
<rect x="373.94" y="131.13" width="8.01" height="11.52" fill="#fc9272"/>
<rect x="381.34" y="131.13" width="11.11" height="11.52" fill="#fcbba1"/>
<rect x="318.4" y="142.05" width="4.3" height="11.52" fill="#fcbba1"/>
<rect x="322.1" y="142.05" width="4.3" height="11.52" fill="#fc9272"/>
<rect x="325.8" y="142.05" width="4.3" height="11.52" fill="#fb6a4a"/>
<rect x="329.51" y="142.05" width="22.82" height="11.52" fill="#fcbba1"/>
<rect x="351.72" y="142.05" width="4.3" height="11.52" fill="#fc9272"/>
<rect x="355.42" y="142.05" width="8.01" height="11.52" fill="#fcbba1"/>
<rect x="362.83" y="142.05" width="4.3" height="11.52" fill="#fee5d9"/>
<rect x="366.53" y="142.05" width="4.3" height="11.52" fill="#fb6a4a"/>
<rect x="370.24" y="142.05" width="4.3" height="11.52" fill="#fcbba1"/>
<rect x="373.94" y="142.05" width="8.01" height="11.52" fill="#fb6a4a"/>
<rect x="381.34" y="142.05" width="4.3" height="11.52" fill="#fcbba1"/>
<rect x="385.04" y="142.05" width="4.3" height="11.52" fill="#fb6a4a"/>
<rect x="388.75" y="142.05" width="3.7" height="11.52" fill="#fcbba1"/>
<rect x="318.4" y="152.97" width="4.3" height="11.52" fill="#fee5d9"/>
<rect x="322.1" y="152.97" width="8.01" height="11.52" fill="#fcbba1"/>
<rect x="329.51" y="152.97" width="4.3" height="11.52" fill="#fee5d9"/>
<rect x="333.21" y="152.97" width="4.3" height="11.52" fill="#fcbba1"/>
<rect x="336.91" y="152.97" width="4.3" height="11.52" fill="#fee5d9"/>
<rect x="340.62" y="152.97" width="4.3" height="11.52" fill="#fcbba1"/>
<rect x="344.32" y="152.97" width="8.01" height="11.52" fill="#fee5d9"/>
<rect x="351.72" y="152.97" width="4.3" height="11.52" fill="#fcbba1"/>
<rect x="355.42" y="152.97" width="4.3" height="11.52" fill="#fee5d9"/>
<rect x="359.13" y="152.97" width="4.3" height="11.52" fill="#c6dbef"/>
<rect x="362.83" y="152.97" width="4.3" height="11.52" fill="#fc9272"/>
<rect x="366.53" y="152.97" width="4.3" height="11.52" fill="#fcbba1"/>
<rect x="370.24" y="152.97" width="8.01" height="11.52" fill="#fee5d9"/>
<rect x="377.64" y="152.97" width="4.3" height="11.52" fill="#fcbba1"/>
<rect x="381.34" y="152.97" width="11.11" height="11.52" fill="#fee5d9"/>
<rect x="318.4" y="163.88" width="4.3" height="11.52" fill="#fee5d9"/>
<rect x="322.1" y="163.88" width="8.01" height="11.52" fill="#fcbba1"/>
<rect x="329.51" y="163.88" width="4.3" height="11.52" fill="#fee5d9"/>
<rect x="333.21" y="163.88" width="4.3" height="11.52" fill="#fcbba1"/>
<rect x="336.91" y="163.88" width="4.3" height="11.52" fill="#dde9f5"/>
<rect x="340.62" y="163.88" width="11.71" height="11.52" fill="#fee5d9"/>
<rect x="351.72" y="163.88" width="11.71" height="11.52" fill="#fcbba1"/>
<rect x="362.83" y="163.88" width="4.3" height="11.52" fill="#fc9272"/>
<rect x="366.53" y="163.88" width="8.01" height="11.52" fill="#fee5d9"/>
<rect x="373.94" y="163.88" width="4.3" height="11.52" fill="#fcbba1"/>
<rect x="377.64" y="163.88" width="4.3" height="11.52" fill="#fee5d9"/>
<rect x="381.34" y="163.88" width="4.3" height="11.52" fill="#fcbba1"/>
<rect x="385.04" y="163.88" width="7.41" height="11.52" fill="#fee5d9"/>
<rect x="318.4" y="174.8" width="59.84" height="11.52" fill="#fee5d9"/>
<rect x="377.64" y="174.8" width="4.3" height="11.52" fill="#fcbba1"/>
<rect x="381.34" y="174.8" width="4.3" height="11.52" fill="#fee5d9"/>
<rect x="385.04" y="174.8" width="4.3" height="11.52" fill="#dde9f5"/>
<rect x="388.75" y="174.8" width="3.7" height="11.52" fill="#fee5d9"/>
<rect x="318.4" y="185.72" width="4.3" height="11.52" fill="#ef3b2c"/>
<rect x="322.1" y="185.72" width="4.3" height="11.52" fill="#fb6a4a"/>
<rect x="325.8" y="185.72" width="4.3" height="11.52" fill="#ef3b2c"/>
<rect x="329.51" y="185.72" width="4.3" height="11.52" fill="#fb6a4a"/>
<rect x="333.21" y="185.72" width="4.3" height="11.52" fill="#fc9272"/>
<rect x="336.91" y="185.72" width="4.3" height="11.52" fill="#ef3b2c"/>
<rect x="340.62" y="185.72" width="8.01" height="11.52" fill="#fee5d9"/>
<rect x="348.02" y="185.72" width="4.3" height="11.52" fill="#fc9272"/>
<rect x="351.72" y="185.72" width="8.01" height="11.52" fill="#fcbba1"/>
<rect x="359.13" y="185.72" width="4.3" height="11.52" fill="#fb6a4a"/>
<rect x="362.83" y="185.72" width="4.3" height="11.52" fill="#fc9272"/>
<rect x="366.53" y="185.72" width="4.3" height="11.52" fill="#a50f15"/>
<rect x="370.24" y="185.72" width="8.01" height="11.52" fill="#ef3b2c"/>
<rect x="377.64" y="185.72" width="4.3" height="11.52" fill="#cb181d"/>
<rect x="381.34" y="185.72" width="4.3" height="11.52" fill="#fb6a4a"/>
<rect x="385.04" y="185.72" width="4.3" height="11.52" fill="#cb181d"/>
<rect x="388.75" y="185.72" width="3.7" height="11.52" fill="#fb6a4a"/>
<rect x="318.4" y="196.64" width="15.41" height="11.52" fill="#ef3b2c"/>
<rect x="333.21" y="196.64" width="4.3" height="11.52" fill="#fcbba1"/>
<rect x="336.91" y="196.64" width="8.01" height="11.52" fill="#fc9272"/>
<rect x="344.32" y="196.64" width="4.3" height="11.52" fill="#fcbba1"/>
<rect x="348.02" y="196.64" width="4.3" height="11.52" fill="#fc9272"/>
<rect x="351.72" y="196.64" width="4.3" height="11.52" fill="#ef3b2c"/>
<rect x="355.42" y="196.64" width="8.01" height="11.52" fill="#fc9272"/>
<rect x="362.83" y="196.64" width="4.3" height="11.52" fill="#fcbba1"/>
<rect x="366.53" y="196.64" width="4.3" height="11.52" fill="#cb181d"/>
<rect x="370.24" y="196.64" width="4.3" height="11.52" fill="#fb6a4a"/>
<rect x="373.94" y="196.64" width="4.3" height="11.52" fill="#fc9272"/>
<rect x="377.64" y="196.64" width="4.3" height="11.52" fill="#fb6a4a"/>
<rect x="381.34" y="196.64" width="4.3" height="11.52" fill="#fee5d9"/>
<rect x="385.04" y="196.64" width="4.3" height="11.52" fill="#fb6a4a"/>
<rect x="388.75" y="196.64" width="3.7" height="11.52" fill="#fc9272"/>
<rect x="318.4" y="207.56" width="74.05" height="11.52" fill="#828282"/>
<rect x="318.4" y="218.47" width="15.41" height="11.52" fill="#fb6a4a"/>
<rect x="333.21" y="218.47" width="8.01" height="11.52" fill="#fc9272"/>
<rect x="340.62" y="218.47" width="4.3" height="11.52" fill="#fb6a4a"/>
<rect x="344.32" y="218.47" width="8.01" height="11.52" fill="#fc9272"/>
<rect x="351.72" y="218.47" width="4.3" height="11.52" fill="#fb6a4a"/>
<rect x="355.42" y="218.47" width="11.71" height="11.52" fill="#fcbba1"/>
<rect x="366.53" y="218.47" width="8.01" height="11.52" fill="#fb6a4a"/>
<rect x="373.94" y="218.47" width="8.01" height="11.52" fill="#ef3b2c"/>
<rect x="381.34" y="218.47" width="4.3" height="11.52" fill="#fc9272"/>
<rect x="385.04" y="218.47" width="4.3" height="11.52" fill="#fb6a4a"/>
<rect x="388.75" y="218.47" width="3.7" height="11.52" fill="#fc9272"/>
<rect x="318.4" y="229.39" width="4.3" height="11.52" fill="#fee5d9"/>
<rect x="322.1" y="229.39" width="4.3" height="11.52" fill="#fcbba1"/>
<rect x="325.8" y="229.39" width="8.01" height="11.52" fill="#fee5d9"/>
<rect x="333.21" y="229.39" width="4.3" height="11.52" fill="#fcbba1"/>
<rect x="336.91" y="229.39" width="15.41" height="11.52" fill="#fee5d9"/>
<rect x="351.72" y="229.39" width="4.3" height="11.52" fill="#fcbba1"/>
<rect x="355.42" y="229.39" width="30.22" height="11.52" fill="#fee5d9"/>
<rect x="385.04" y="229.39" width="7.41" height="11.52" fill="#dde9f5"/>
<rect x="318.4" y="240.31" width="4.3" height="11.52" fill="#fee5d9"/>
<rect x="322.1" y="240.31" width="4.3" height="11.52" fill="#fc9272"/>
<rect x="325.8" y="240.31" width="8.01" height="11.52" fill="#fee5d9"/>
<rect x="333.21" y="240.31" width="4.3" height="11.52" fill="#fc9272"/>
<rect x="336.91" y="240.31" width="15.41" height="11.52" fill="#fee5d9"/>
<rect x="351.72" y="240.31" width="8.01" height="11.52" fill="#fcbba1"/>
<rect x="359.13" y="240.31" width="4.3" height="11.52" fill="#fee5d9"/>
<rect x="362.83" y="240.31" width="4.3" height="11.52" fill="#fcbba1"/>
<rect x="366.53" y="240.31" width="15.41" height="11.52" fill="#fee5d9"/>
<rect x="381.34" y="240.31" width="4.3" height="11.52" fill="#fcbba1"/>
<rect x="385.04" y="240.31" width="7.41" height="11.52" fill="#fee5d9"/>
<rect x="318.4" y="251.23" width="63.54" height="11.52" fill="#828282"/>
<rect x="381.34" y="251.23" width="4.3" height="11.52" fill="#fcbba1"/>
<rect x="385.04" y="251.23" width="4.3" height="11.52" fill="#fee5d9"/>
<rect x="388.75" y="251.23" width="3.7" height="11.52" fill="#dde9f5"/>
<rect x="318.4" y="262.15" width="4.3" height="11.52" fill="#fcbba1"/>
<rect x="322.1" y="262.15" width="11.71" height="11.52" fill="#fee5d9"/>
<rect x="333.21" y="262.15" width="56.14" height="11.52" fill="#828282"/>
<rect x="388.75" y="262.15" width="3.7" height="11.52" fill="#dde9f5"/>
<rect x="318.4" y="273.06" width="4.3" height="11.52" fill="#fee5d9"/>
<rect x="322.1" y="273.06" width="4.3" height="11.52" fill="#fc9272"/>
<rect x="325.8" y="273.06" width="8.01" height="11.52" fill="#fcbba1"/>
<rect x="333.21" y="273.06" width="4.3" height="11.52" fill="#fc9272"/>
<rect x="336.91" y="273.06" width="22.82" height="11.52" fill="#fcbba1"/>
<rect x="359.13" y="273.06" width="4.3" height="11.52" fill="#fee5d9"/>
<rect x="362.83" y="273.06" width="15.41" height="11.52" fill="#fcbba1"/>
<rect x="377.64" y="273.06" width="4.3" height="11.52" fill="#fc9272"/>
<rect x="381.34" y="273.06" width="4.3" height="11.52" fill="#ef3b2c"/>
<rect x="385.04" y="273.06" width="7.41" height="11.52" fill="#fee5d9"/>
<rect x="318.4" y="283.98" width="4.3" height="11.52" fill="#fee5d9"/>
<rect x="322.1" y="283.98" width="4.3" height="11.52" fill="#fc9272"/>
<rect x="325.8" y="283.98" width="26.52" height="11.52" fill="#fee5d9"/>
<rect x="351.72" y="283.98" width="4.3" height="11.52" fill="#fcbba1"/>
<rect x="355.42" y="283.98" width="37.03" height="11.52" fill="#fee5d9"/>
<rect x="318.4" y="294.9" width="26.52" height="11.52" fill="#fc9272"/>
<rect x="344.32" y="294.9" width="4.3" height="11.52" fill="#fcbba1"/>
<rect x="348.02" y="294.9" width="8.01" height="11.52" fill="#fc9272"/>
<rect x="355.42" y="294.9" width="26.52" height="11.52" fill="#fcbba1"/>
<rect x="381.34" y="294.9" width="11.11" height="11.52" fill="#fee5d9"/>
<rect x="318.4" y="305.82" width="74.05" height="11.52" fill="#dde9f5"/>
<rect x="318.4" y="316.74" width="74.05" height="11.52" fill="#828282"/>
<rect x="318.4" y="327.65" width="4.3" height="11.52" fill="#fc9272"/>
<rect x="322.1" y="327.65" width="4.3" height="11.52" fill="#fb6a4a"/>
<rect x="325.8" y="327.65" width="26.52" height="11.52" fill="#fc9272"/>
<rect x="351.72" y="327.65" width="4.3" height="11.52" fill="#fb6a4a"/>
<rect x="355.42" y="327.65" width="22.82" height="11.52" fill="#fcbba1"/>
<rect x="377.64" y="327.65" width="11.71" height="11.52" fill="#fee5d9"/>
<rect x="388.75" y="327.65" width="3.7" height="11.52" fill="#dde9f5"/>
<rect x="318.4" y="338.57" width="30.22" height="11.52" fill="#fcbba1"/>
<rect x="348.02" y="338.57" width="44.43" height="11.52" fill="#fee5d9"/>
<rect x="318.4" y="349.49" width="74.05" height="11.52" fill="#828282"/>
<rect x="318.4" y="360.41" width="59.84" height="11.52" fill="#828282"/>
<rect x="377.64" y="360.41" width="11.71" height="11.52" fill="#fcbba1"/>
<rect x="388.75" y="360.41" width="3.7" height="11.52" fill="#828282"/>
<rect x="318.4" y="371.33" width="41.33" height="11.52" fill="#fcbba1"/>
<rect x="359.13" y="371.33" width="33.32" height="11.52" fill="#fee5d9"/>
<rect x="318.4" y="382.24" width="59.84" height="11.52" fill="#fcbba1"/>
<rect x="377.64" y="382.24" width="14.81" height="11.52" fill="#fee5d9"/>
<rect x="318.4" y="393.16" width="70.95" height="11.52" fill="#828282"/>
<rect x="388.75" y="393.16" width="3.7" height="11.52" fill="#dde9f5"/>
<rect x="318.4" y="404.08" width="59.84" height="11.52" fill="#fcbba1"/>
<rect x="377.64" y="404.08" width="14.81" height="11.52" fill="#fee5d9"/>
<rect x="318.4" y="415" width="30.22" height="11.52" fill="#fc9272"/>
<rect x="348.02" y="415" width="8.01" height="11.52" fill="#fcbba1"/>
<rect x="355.42" y="415" width="8.01" height="11.52" fill="#fc9272"/>
<rect x="362.83" y="415" width="29.62" height="11.52" fill="#fcbba1"/>
<rect x="318.4" y="425.92" width="15.41" height="11.52" fill="#fcbba1"/>
<rect x="333.21" y="425.92" width="4.3" height="11.52" fill="#fee5d9"/>
<rect x="336.91" y="425.92" width="37.63" height="11.52" fill="#fcbba1"/>
<rect x="373.94" y="425.92" width="18.51" height="11.52" fill="#fee5d9"/>
<rect x="318.4" y="436.83" width="56.14" height="11.52" fill="#fcbba1"/>
<rect x="373.94" y="436.83" width="18.51" height="11.52" fill="#fee5d9"/>
<rect x="318.4" y="447.75" width="33.92" height="11.52" fill="#fcbba1"/>
<rect x="351.72" y="447.75" width="4.3" height="11.52" fill="#fc9272"/>
<rect x="355.42" y="447.75" width="26.52" height="11.52" fill="#fcbba1"/>
<rect x="381.34" y="447.75" width="11.11" height="11.52" fill="#fee5d9"/>
<rect x="318.4" y="458.67" width="33.92" height="11.52" fill="#fcbba1"/>
<rect x="351.72" y="458.67" width="4.3" height="11.52" fill="#fc9272"/>
<rect x="355.42" y="458.67" width="19.11" height="11.52" fill="#fcbba1"/>
<rect x="373.94" y="458.67" width="18.51" height="11.52" fill="#fee5d9"/>
<rect x="318.4" y="469.59" width="37.63" height="11.52" fill="#fcbba1"/>
<rect x="355.42" y="469.59" width="4.3" height="11.52" fill="#fee5d9"/>
<rect x="359.13" y="469.59" width="4.3" height="11.52" fill="#fcbba1"/>
<rect x="362.83" y="469.59" width="29.62" height="11.52" fill="#fee5d9"/>
<rect x="318.4" y="480.51" width="67.25" height="11.52" fill="#fcbba1"/>
<rect x="385.04" y="480.51" width="4.3" height="11.52" fill="#fee5d9"/>
<rect x="388.75" y="480.51" width="3.7" height="11.52" fill="#fcbba1"/>
<rect x="318.4" y="491.42" width="8.01" height="11.52" fill="#fcbba1"/>
<rect x="325.8" y="491.42" width="66.65" height="11.52" fill="#fee5d9"/>
<rect x="318.4" y="502.34" width="59.84" height="11.52" fill="#fcbba1"/>
<rect x="377.64" y="502.34" width="14.81" height="11.52" fill="#fee5d9"/>
<rect x="318.4" y="513.26" width="74.05" height="11.52" fill="#fee5d9"/>
<rect x="318.4" y="524.18" width="63.54" height="11.52" fill="#fcbba1"/>
<rect x="381.34" y="524.18" width="11.11" height="11.52" fill="#fee5d9"/>
<rect x="318.4" y="535.1" width="74.05" height="11.52" fill="#fee5d9"/>
<rect x="318.4" y="546.01" width="45.03" height="11.52" fill="#828282"/>
<rect x="362.83" y="546.01" width="11.71" height="11.52" fill="#fcbba1"/>
<rect x="373.94" y="546.01" width="11.71" height="11.52" fill="#fee5d9"/>
<rect x="385.04" y="546.01" width="4.3" height="11.52" fill="#dde9f5"/>
<rect x="388.75" y="546.01" width="3.7" height="11.52" fill="#fee5d9"/>
<rect x="318.4" y="556.93" width="22.82" height="11.52" fill="#dde9f5"/>
<rect x="340.62" y="556.93" width="8.01" height="11.52" fill="#fee5d9"/>
<rect x="348.02" y="556.93" width="15.41" height="11.52" fill="#dde9f5"/>
<rect x="362.83" y="556.93" width="15.41" height="11.52" fill="#fee5d9"/>
<rect x="377.64" y="556.93" width="4.3" height="11.52" fill="#dde9f5"/>
<rect x="381.34" y="556.93" width="4.3" height="11.52" fill="#828282"/>
<rect x="385.04" y="556.93" width="4.3" height="11.52" fill="#dde9f5"/>
<rect x="388.75" y="556.93" width="3.7" height="11.52" fill="#828282"/>
<rect x="318.4" y="567.85" width="4.3" height="11.52" fill="#fee5d9"/>
<rect x="322.1" y="567.85" width="70.35" height="11.52" fill="#fcbba1"/>
<rect x="318.4" y="578.77" width="74.05" height="11.52" fill="#828282"/>
<rect x="318.4" y="589.69" width="74.05" height="11.52" fill="#828282"/>
<rect x="318.4" y="600.6" width="11.71" height="11.52" fill="#fee5d9"/>
<rect x="329.51" y="600.6" width="4.3" height="11.52" fill="#fcbba1"/>
<rect x="333.21" y="600.6" width="4.3" height="11.52" fill="#fee5d9"/>
<rect x="336.91" y="600.6" width="4.3" height="11.52" fill="#fcbba1"/>
<rect x="340.62" y="600.6" width="11.71" height="11.52" fill="#fee5d9"/>
<rect x="351.72" y="600.6" width="4.3" height="11.52" fill="#fcbba1"/>
<rect x="355.42" y="600.6" width="37.03" height="11.52" fill="#fee5d9"/>
<rect x="318.4" y="611.52" width="74.05" height="11.52" fill="#828282"/>
<rect x="318.4" y="622.44" width="74.05" height="10.92" fill="#828282"/>
</g>
<g>
<rect x="484.7" y="21.95" width="52.26" height="11.52" fill="#0d4c9a"/>
<rect x="536.36" y="21.95" width="4.29" height="11.52" fill="#e31b22"/>
<rect x="540.05" y="21.95" width="18.45" height="11.52" fill="#0d4c9a"/>
<rect x="484.7" y="32.87" width="73.8" height="11.52" fill="#0d4c9a"/>
<rect x="484.7" y="43.79" width="4.29" height="11.52" fill="#7a3e10"/>
<rect x="488.39" y="43.79" width="11.67" height="11.52" fill="#0d4c9a"/>
<rect x="499.46" y="43.79" width="4.29" height="11.52" fill="#e31b22"/>
<rect x="503.15" y="43.79" width="4.29" height="11.52" fill="#0d4c9a"/>
<rect x="506.84" y="43.79" width="11.67" height="11.52" fill="#e31b22"/>
<rect x="517.91" y="43.79" width="4.29" height="11.52" fill="#0d4c9a"/>
<rect x="521.6" y="43.79" width="4.29" height="11.52" fill="#e31b22"/>
<rect x="525.29" y="43.79" width="33.21" height="11.52" fill="#0d4c9a"/>
<rect x="484.7" y="54.7" width="11.67" height="11.52" fill="#0d4c9a"/>
<rect x="495.77" y="54.7" width="4.29" height="11.52" fill="#e31b22"/>
<rect x="499.46" y="54.7" width="22.74" height="11.52" fill="#0d4c9a"/>
<rect x="521.6" y="54.7" width="7.98" height="11.52" fill="#e31b22"/>
<rect x="528.98" y="54.7" width="29.52" height="11.52" fill="#0d4c9a"/>
<rect x="484.7" y="65.62" width="73.8" height="11.52" fill="#0d4c9a"/>
<rect x="484.7" y="76.54" width="26.43" height="11.52" fill="#0aa6e0"/>
<rect x="510.53" y="76.54" width="4.29" height="11.52" fill="#fcdccb"/>
<rect x="514.22" y="76.54" width="11.67" height="11.52" fill="#0aa6e0"/>
<rect x="525.29" y="76.54" width="4.29" height="11.52" fill="#fcdccb"/>
<rect x="528.98" y="76.54" width="4.29" height="11.52" fill="#0aa6e0"/>
<rect x="532.67" y="76.54" width="7.98" height="11.52" fill="#fcdccb"/>
<rect x="540.05" y="76.54" width="15.36" height="11.52" fill="#0aa6e0"/>
<rect x="554.81" y="76.54" width="3.69" height="11.52" fill="#0d4c9a"/>
<rect x="484.7" y="87.46" width="4.29" height="11.52" fill="#fcdccb"/>
<rect x="488.39" y="87.46" width="7.98" height="11.52" fill="#0aa6e0"/>
<rect x="495.77" y="87.46" width="4.29" height="11.52" fill="#fcdccb"/>
<rect x="499.46" y="87.46" width="7.98" height="11.52" fill="#0aa6e0"/>
<rect x="506.84" y="87.46" width="11.67" height="11.52" fill="#fcdccb"/>
<rect x="517.91" y="87.46" width="4.29" height="11.52" fill="#0aa6e0"/>
<rect x="521.6" y="87.46" width="7.98" height="11.52" fill="#fcdccb"/>
<rect x="528.98" y="87.46" width="4.29" height="11.52" fill="#0aa6e0"/>
<rect x="532.67" y="87.46" width="7.98" height="11.52" fill="#fcdccb"/>
<rect x="540.05" y="87.46" width="15.36" height="11.52" fill="#0aa6e0"/>
<rect x="554.81" y="87.46" width="3.69" height="11.52" fill="#fcdccb"/>
<rect x="484.7" y="98.38" width="4.29" height="11.52" fill="#fcdccb"/>
<rect x="488.39" y="98.38" width="4.29" height="11.52" fill="#0aa6e0"/>
<rect x="492.08" y="98.38" width="4.29" height="11.52" fill="#f08f35"/>
<rect x="495.77" y="98.38" width="4.29" height="11.52" fill="#fcdccb"/>
<rect x="499.46" y="98.38" width="4.29" height="11.52" fill="#0aa6e0"/>
<rect x="503.15" y="98.38" width="15.36" height="11.52" fill="#fcdccb"/>
<rect x="517.91" y="98.38" width="4.29" height="11.52" fill="#0aa6e0"/>
<rect x="521.6" y="98.38" width="7.98" height="11.52" fill="#fcdccb"/>
<rect x="528.98" y="98.38" width="4.29" height="11.52" fill="#0aa6e0"/>
<rect x="532.67" y="98.38" width="7.98" height="11.52" fill="#fcdccb"/>
<rect x="540.05" y="98.38" width="18.45" height="11.52" fill="#0aa6e0"/>
<rect x="484.7" y="109.29" width="22.74" height="11.52" fill="#0d4c9a"/>
<rect x="506.84" y="109.29" width="33.81" height="11.52" fill="#e31b22"/>
<rect x="540.05" y="109.29" width="18.45" height="11.52" fill="#0d4c9a"/>
<rect x="484.7" y="120.21" width="7.98" height="11.52" fill="#f9e54b"/>
<rect x="492.08" y="120.21" width="66.42" height="11.52" fill="#e31b22"/>
<rect x="484.7" y="131.13" width="11.67" height="11.52" fill="#0d4c9a"/>
<rect x="495.77" y="131.13" width="19.05" height="11.52" fill="#e31b22"/>
<rect x="514.22" y="131.13" width="7.98" height="11.52" fill="#0d4c9a"/>
<rect x="521.6" y="131.13" width="11.67" height="11.52" fill="#e31b22"/>
<rect x="532.67" y="131.13" width="4.29" height="11.52" fill="#0d4c9a"/>
<rect x="536.36" y="131.13" width="4.29" height="11.52" fill="#e31b22"/>
<rect x="540.05" y="131.13" width="18.45" height="11.52" fill="#0d4c9a"/>
<rect x="484.7" y="142.05" width="4.29" height="11.52" fill="#fcdccb"/>
<rect x="488.39" y="142.05" width="7.98" height="11.52" fill="#0aa6e0"/>
<rect x="495.77" y="142.05" width="19.05" height="11.52" fill="#fcdccb"/>
<rect x="514.22" y="142.05" width="4.29" height="11.52" fill="#e31b22"/>
<rect x="517.91" y="142.05" width="4.29" height="11.52" fill="#0d4c9a"/>
<rect x="521.6" y="142.05" width="11.67" height="11.52" fill="#e31b22"/>
<rect x="532.67" y="142.05" width="15.36" height="11.52" fill="#0d4c9a"/>
<rect x="547.43" y="142.05" width="4.29" height="11.52" fill="#e31b22"/>
<rect x="551.12" y="142.05" width="4.29" height="11.52" fill="#0d4c9a"/>
<rect x="554.81" y="142.05" width="3.69" height="11.52" fill="#0aa6e0"/>
<rect x="484.7" y="152.97" width="26.43" height="11.52" fill="#0aa6e0"/>
<rect x="510.53" y="152.97" width="7.98" height="11.52" fill="#fcdccb"/>
<rect x="517.91" y="152.97" width="19.05" height="11.52" fill="#0aa6e0"/>
<rect x="536.36" y="152.97" width="4.29" height="11.52" fill="#fcdccb"/>
<rect x="540.05" y="152.97" width="18.45" height="11.52" fill="#0aa6e0"/>
<rect x="484.7" y="163.88" width="4.29" height="11.52" fill="#fcdccb"/>
<rect x="488.39" y="163.88" width="7.98" height="11.52" fill="#0aa6e0"/>
<rect x="495.77" y="163.88" width="4.29" height="11.52" fill="#fcdccb"/>
<rect x="499.46" y="163.88" width="7.98" height="11.52" fill="#0aa6e0"/>
<rect x="506.84" y="163.88" width="11.67" height="11.52" fill="#fcdccb"/>
<rect x="517.91" y="163.88" width="4.29" height="11.52" fill="#0aa6e0"/>
<rect x="521.6" y="163.88" width="4.29" height="11.52" fill="#fcdccb"/>
<rect x="525.29" y="163.88" width="7.98" height="11.52" fill="#0d4c9a"/>
<rect x="532.67" y="163.88" width="7.98" height="11.52" fill="#fcdccb"/>
<rect x="540.05" y="163.88" width="11.67" height="11.52" fill="#0aa6e0"/>
<rect x="551.12" y="163.88" width="4.29" height="11.52" fill="#fcdccb"/>
<rect x="554.81" y="163.88" width="3.69" height="11.52" fill="#0aa6e0"/>
<rect x="484.7" y="174.8" width="33.81" height="11.52" fill="#fcdccb"/>
<rect x="517.91" y="174.8" width="4.29" height="11.52" fill="#0aa6e0"/>
<rect x="521.6" y="174.8" width="7.98" height="11.52" fill="#fcdccb"/>
<rect x="528.98" y="174.8" width="4.29" height="11.52" fill="#0aa6e0"/>
<rect x="532.67" y="174.8" width="7.98" height="11.52" fill="#fcdccb"/>
<rect x="540.05" y="174.8" width="11.67" height="11.52" fill="#0aa6e0"/>
<rect x="551.12" y="174.8" width="4.29" height="11.52" fill="#fcdccb"/>
<rect x="554.81" y="174.8" width="3.69" height="11.52" fill="#0aa6e0"/>
<rect x="484.7" y="185.72" width="26.43" height="11.52" fill="#0d4c9a"/>
<rect x="510.53" y="185.72" width="4.29" height="11.52" fill="#e31b22"/>
<rect x="514.22" y="185.72" width="4.29" height="11.52" fill="#0d4c9a"/>
<rect x="517.91" y="185.72" width="7.98" height="11.52" fill="#e31b22"/>
<rect x="525.29" y="185.72" width="33.21" height="11.52" fill="#0d4c9a"/>
<rect x="484.7" y="196.64" width="15.36" height="11.52" fill="#0d4c9a"/>
<rect x="499.46" y="196.64" width="4.29" height="11.52" fill="#e31b22"/>
<rect x="503.15" y="196.64" width="7.98" height="11.52" fill="#0d4c9a"/>
<rect x="510.53" y="196.64" width="7.98" height="11.52" fill="#e31b22"/>
<rect x="517.91" y="196.64" width="4.29" height="11.52" fill="#0d4c9a"/>
<rect x="521.6" y="196.64" width="11.67" height="11.52" fill="#e31b22"/>
<rect x="532.67" y="196.64" width="15.36" height="11.52" fill="#0d4c9a"/>
<rect x="547.43" y="196.64" width="4.29" height="11.52" fill="#e31b22"/>
<rect x="551.12" y="196.64" width="7.38" height="11.52" fill="#0d4c9a"/>
<rect x="484.7" y="207.56" width="73.8" height="11.52" fill="#828282"/>
<rect x="484.7" y="218.47" width="7.98" height="11.52" fill="#f08f35"/>
<rect x="492.08" y="218.47" width="7.98" height="11.52" fill="#0aa6e0"/>
<rect x="499.46" y="218.47" width="4.29" height="11.52" fill="#a680b9"/>
<rect x="503.15" y="218.47" width="19.05" height="11.52" fill="#0aa6e0"/>
<rect x="521.6" y="218.47" width="11.67" height="11.52" fill="#fcdccb"/>
<rect x="532.67" y="218.47" width="4.29" height="11.52" fill="#0aa6e0"/>
<rect x="536.36" y="218.47" width="22.14" height="11.52" fill="#0d4c9a"/>
<rect x="484.7" y="229.39" width="4.29" height="11.52" fill="#fcdccb"/>
<rect x="488.39" y="229.39" width="4.29" height="11.52" fill="#0aa6e0"/>
<rect x="492.08" y="229.39" width="7.98" height="11.52" fill="#fcdccb"/>
<rect x="499.46" y="229.39" width="4.29" height="11.52" fill="#0aa6e0"/>
<rect x="503.15" y="229.39" width="15.36" height="11.52" fill="#fcdccb"/>
<rect x="517.91" y="229.39" width="4.29" height="11.52" fill="#0aa6e0"/>
<rect x="521.6" y="229.39" width="7.98" height="11.52" fill="#fcdccb"/>
<rect x="528.98" y="229.39" width="4.29" height="11.52" fill="#0aa6e0"/>
<rect x="532.67" y="229.39" width="7.98" height="11.52" fill="#fcdccb"/>
<rect x="540.05" y="229.39" width="11.67" height="11.52" fill="#0aa6e0"/>
<rect x="551.12" y="229.39" width="7.38" height="11.52" fill="#fcdccb"/>
<rect x="484.7" y="240.31" width="4.29" height="11.52" fill="#fcdccb"/>
<rect x="488.39" y="240.31" width="4.29" height="11.52" fill="#0aa6e0"/>
<rect x="492.08" y="240.31" width="7.98" height="11.52" fill="#fcdccb"/>
<rect x="499.46" y="240.31" width="4.29" height="11.52" fill="#0aa6e0"/>
<rect x="503.15" y="240.31" width="44.88" height="11.52" fill="#fcdccb"/>
<rect x="547.43" y="240.31" width="4.29" height="11.52" fill="#0aa6e0"/>
<rect x="551.12" y="240.31" width="7.38" height="11.52" fill="#fcdccb"/>
<rect x="484.7" y="251.23" width="4.29" height="11.52" fill="#e31b22"/>
<rect x="488.39" y="251.23" width="4.29" height="11.52" fill="#0d4c9a"/>
<rect x="492.08" y="251.23" width="7.98" height="11.52" fill="#e31b22"/>
<rect x="499.46" y="251.23" width="4.29" height="11.52" fill="#0d4c9a"/>
<rect x="503.15" y="251.23" width="15.36" height="11.52" fill="#e31b22"/>
<rect x="517.91" y="251.23" width="4.29" height="11.52" fill="#0d4c9a"/>
<rect x="521.6" y="251.23" width="7.98" height="11.52" fill="#e31b22"/>
<rect x="528.98" y="251.23" width="4.29" height="11.52" fill="#0d4c9a"/>
<rect x="532.67" y="251.23" width="7.98" height="11.52" fill="#e31b22"/>
<rect x="540.05" y="251.23" width="15.36" height="11.52" fill="#0d4c9a"/>
<rect x="554.81" y="251.23" width="3.69" height="11.52" fill="#e31b22"/>
<rect x="484.7" y="262.15" width="4.29" height="11.52" fill="#fcdccb"/>
<rect x="488.39" y="262.15" width="4.29" height="11.52" fill="#0aa6e0"/>
<rect x="492.08" y="262.15" width="7.98" height="11.52" fill="#fcdccb"/>
<rect x="499.46" y="262.15" width="4.29" height="11.52" fill="#0aa6e0"/>
<rect x="503.15" y="262.15" width="15.36" height="11.52" fill="#e31b22"/>
<rect x="517.91" y="262.15" width="4.29" height="11.52" fill="#0d4c9a"/>
<rect x="521.6" y="262.15" width="7.98" height="11.52" fill="#e31b22"/>
<rect x="528.98" y="262.15" width="4.29" height="11.52" fill="#0d4c9a"/>
<rect x="532.67" y="262.15" width="7.98" height="11.52" fill="#e31b22"/>
<rect x="540.05" y="262.15" width="15.36" height="11.52" fill="#0d4c9a"/>
<rect x="554.81" y="262.15" width="3.69" height="11.52" fill="#e31b22"/>
<rect x="484.7" y="273.06" width="4.29" height="11.52" fill="#e31b22"/>
<rect x="488.39" y="273.06" width="4.29" height="11.52" fill="#0d4c9a"/>
<rect x="492.08" y="273.06" width="7.98" height="11.52" fill="#e31b22"/>
<rect x="499.46" y="273.06" width="4.29" height="11.52" fill="#0d4c9a"/>
<rect x="503.15" y="273.06" width="41.19" height="11.52" fill="#e31b22"/>
<rect x="543.74" y="273.06" width="7.98" height="11.52" fill="#0d4c9a"/>
<rect x="551.12" y="273.06" width="7.38" height="11.52" fill="#e31b22"/>
<rect x="484.7" y="283.98" width="4.29" height="11.52" fill="#e31b22"/>
<rect x="488.39" y="283.98" width="4.29" height="11.52" fill="#0d4c9a"/>
<rect x="492.08" y="283.98" width="66.42" height="11.52" fill="#e31b22"/>
<rect x="484.7" y="294.9" width="19.05" height="11.52" fill="#e31b22"/>
<rect x="503.15" y="294.9" width="4.29" height="11.52" fill="#0d4c9a"/>
<rect x="506.84" y="294.9" width="51.66" height="11.52" fill="#e31b22"/>
<rect x="484.7" y="305.82" width="73.8" height="11.52" fill="#fcdccb"/>
<rect x="484.7" y="316.74" width="73.8" height="11.52" fill="#828282"/>
<rect x="484.7" y="327.65" width="4.29" height="11.52" fill="#e31b22"/>
<rect x="488.39" y="327.65" width="4.29" height="11.52" fill="#0d4c9a"/>
<rect x="492.08" y="327.65" width="66.42" height="11.52" fill="#e31b22"/>
<rect x="484.7" y="338.57" width="73.8" height="11.52" fill="#fcdccb"/>
<rect x="484.7" y="349.49" width="73.8" height="11.52" fill="#fcdccb"/>
<rect x="484.7" y="360.41" width="4.29" height="11.52" fill="#f9e54b"/>
<rect x="488.39" y="360.41" width="70.11" height="11.52" fill="#e31b22"/>
<rect x="484.7" y="371.33" width="73.8" height="11.52" fill="#e31b22"/>
<rect x="484.7" y="382.24" width="73.8" height="11.52" fill="#e31b22"/>
<rect x="484.7" y="393.16" width="22.74" height="11.52" fill="#828282"/>
<rect x="506.84" y="393.16" width="51.66" height="11.52" fill="#fcdccb"/>
<rect x="484.7" y="404.08" width="7.98" height="11.52" fill="#fcdccb"/>
<rect x="492.08" y="404.08" width="7.98" height="11.52" fill="#e31b22"/>
<rect x="499.46" y="404.08" width="11.67" height="11.52" fill="#fcdccb"/>
<rect x="510.53" y="404.08" width="4.29" height="11.52" fill="#e31b22"/>
<rect x="514.22" y="404.08" width="11.67" height="11.52" fill="#fcdccb"/>
<rect x="525.29" y="404.08" width="33.21" height="11.52" fill="#e31b22"/>
<rect x="484.7" y="415" width="73.8" height="11.52" fill="#e31b22"/>
<rect x="484.7" y="425.92" width="4.29" height="11.52" fill="#a680b9"/>
<rect x="488.39" y="425.92" width="4.29" height="11.52" fill="#fcdccb"/>
<rect x="492.08" y="425.92" width="4.29" height="11.52" fill="#a680b9"/>
<rect x="495.77" y="425.92" width="62.73" height="11.52" fill="#fcdccb"/>
<rect x="484.7" y="436.83" width="67.02" height="11.52" fill="#fcdccb"/>
<rect x="551.12" y="436.83" width="4.29" height="11.52" fill="#e31b22"/>
<rect x="554.81" y="436.83" width="3.69" height="11.52" fill="#fcdccb"/>
<rect x="484.7" y="447.75" width="33.81" height="11.52" fill="#e31b22"/>
<rect x="517.91" y="447.75" width="4.29" height="11.52" fill="#0d4c9a"/>
<rect x="521.6" y="447.75" width="36.9" height="11.52" fill="#e31b22"/>
<rect x="484.7" y="458.67" width="73.8" height="11.52" fill="#e31b22"/>
<rect x="484.7" y="469.59" width="30.12" height="11.52" fill="#a680b9"/>
<rect x="514.22" y="469.59" width="44.28" height="11.52" fill="#fcdccb"/>
<rect x="484.7" y="480.51" width="11.67" height="11.52" fill="#a680b9"/>
<rect x="495.77" y="480.51" width="30.12" height="11.52" fill="#fcdccb"/>
<rect x="525.29" y="480.51" width="26.43" height="11.52" fill="#e31b22"/>
<rect x="551.12" y="480.51" width="4.29" height="11.52" fill="#fcdccb"/>
<rect x="554.81" y="480.51" width="3.69" height="11.52" fill="#e31b22"/>
<rect x="484.7" y="491.42" width="4.29" height="11.52" fill="#a680b9"/>
<rect x="488.39" y="491.42" width="11.67" height="11.52" fill="#fcdccb"/>
<rect x="499.46" y="491.42" width="15.36" height="11.52" fill="#a680b9"/>
<rect x="514.22" y="491.42" width="4.29" height="11.52" fill="#fcdccb"/>
<rect x="517.91" y="491.42" width="4.29" height="11.52" fill="#a680b9"/>
<rect x="521.6" y="491.42" width="36.9" height="11.52" fill="#fcdccb"/>
<rect x="484.7" y="502.34" width="4.29" height="11.52" fill="#fcdccb"/>
<rect x="488.39" y="502.34" width="7.98" height="11.52" fill="#a680b9"/>
<rect x="495.77" y="502.34" width="62.73" height="11.52" fill="#fcdccb"/>
<rect x="484.7" y="513.26" width="7.98" height="11.52" fill="#fcdccb"/>
<rect x="492.08" y="513.26" width="4.29" height="11.52" fill="#a680b9"/>
<rect x="495.77" y="513.26" width="62.73" height="11.52" fill="#fcdccb"/>
<rect x="484.7" y="524.18" width="73.8" height="11.52" fill="#fcdccb"/>
<rect x="484.7" y="535.1" width="73.8" height="11.52" fill="#fcdccb"/>
<rect x="484.7" y="546.01" width="67.02" height="11.52" fill="#e31b22"/>
<rect x="551.12" y="546.01" width="4.29" height="11.52" fill="#fcdccb"/>
<rect x="554.81" y="546.01" width="3.69" height="11.52" fill="#e31b22"/>
<rect x="484.7" y="556.93" width="63.33" height="11.52" fill="#fcdccb"/>
<rect x="547.43" y="556.93" width="4.29" height="11.52" fill="#828282"/>
<rect x="551.12" y="556.93" width="4.29" height="11.52" fill="#fcdccb"/>
<rect x="554.81" y="556.93" width="3.69" height="11.52" fill="#828282"/>
<rect x="484.7" y="567.85" width="63.33" height="11.52" fill="#fcdccb"/>
<rect x="547.43" y="567.85" width="11.07" height="11.52" fill="#e31b22"/>
<rect x="484.7" y="578.77" width="73.8" height="11.52" fill="#828282"/>
<rect x="484.7" y="589.69" width="73.8" height="11.52" fill="#828282"/>
<rect x="484.7" y="600.6" width="52.26" height="11.52" fill="#fcdccb"/>
<rect x="536.36" y="600.6" width="22.14" height="11.52" fill="#e31b22"/>
<rect x="484.7" y="611.52" width="73.8" height="11.52" fill="#828282"/>
<rect x="484.7" y="622.44" width="73.8" height="10.92" fill="#828282"/>
</g>
<g>
<rect x="568.6" y="21.95" width="4.28" height="11.52" fill="#0aa6e0"/>
<rect x="572.28" y="21.95" width="7.97" height="11.52" fill="#f08f35"/>
<rect x="579.65" y="21.95" width="7.97" height="11.52" fill="#0aa6e0"/>
<rect x="587.02" y="21.95" width="4.28" height="11.52" fill="#f08f35"/>
<rect x="590.71" y="21.95" width="30.08" height="11.52" fill="#0aa6e0"/>
<rect x="620.19" y="21.95" width="4.28" height="11.52" fill="#fcdccb"/>
<rect x="623.88" y="21.95" width="18.42" height="11.52" fill="#0aa6e0"/>
<rect x="568.6" y="32.87" width="37.45" height="11.52" fill="#f08f35"/>
<rect x="605.45" y="32.87" width="15.34" height="11.52" fill="#0aa6e0"/>
<rect x="620.19" y="32.87" width="4.28" height="11.52" fill="#fcdccb"/>
<rect x="623.88" y="32.87" width="18.42" height="11.52" fill="#0aa6e0"/>
<rect x="568.6" y="43.79" width="11.65" height="11.52" fill="#f08f35"/>
<rect x="579.65" y="43.79" width="26.39" height="11.52" fill="#a680b9"/>
<rect x="605.45" y="43.79" width="4.28" height="11.52" fill="#f08f35"/>
<rect x="609.13" y="43.79" width="15.34" height="11.52" fill="#a680b9"/>
<rect x="623.88" y="43.79" width="4.28" height="11.52" fill="#f08f35"/>
<rect x="627.56" y="43.79" width="4.28" height="11.52" fill="#0aa6e0"/>
<rect x="631.25" y="43.79" width="4.28" height="11.52" fill="#fcdccb"/>
<rect x="634.93" y="43.79" width="4.28" height="11.52" fill="#0aa6e0"/>
<rect x="638.62" y="43.79" width="3.68" height="11.52" fill="#fcdccb"/>
<rect x="568.6" y="54.7" width="7.97" height="11.52" fill="#0aa6e0"/>
<rect x="575.97" y="54.7" width="4.28" height="11.52" fill="#828282"/>
<rect x="579.65" y="54.7" width="62.64" height="11.52" fill="#0aa6e0"/>
<rect x="568.6" y="65.62" width="19.02" height="11.52" fill="#f08f35"/>
<rect x="587.02" y="65.62" width="55.27" height="11.52" fill="#0aa6e0"/>
<rect x="568.6" y="76.54" width="26.39" height="11.52" fill="#f08f35"/>
<rect x="594.39" y="76.54" width="4.28" height="11.52" fill="#a680b9"/>
<rect x="598.08" y="76.54" width="7.97" height="11.52" fill="#f08f35"/>
<rect x="605.45" y="76.54" width="7.97" height="11.52" fill="#a680b9"/>
<rect x="612.82" y="76.54" width="7.97" height="11.52" fill="#0aa6e0"/>
<rect x="620.19" y="76.54" width="4.28" height="11.52" fill="#fcdccb"/>
<rect x="623.88" y="76.54" width="18.42" height="11.52" fill="#0aa6e0"/>
<rect x="568.6" y="87.46" width="4.28" height="11.52" fill="#a680b9"/>
<rect x="572.28" y="87.46" width="7.97" height="11.52" fill="#f08f35"/>
<rect x="579.65" y="87.46" width="4.28" height="11.52" fill="#a680b9"/>
<rect x="583.34" y="87.46" width="11.65" height="11.52" fill="#f08f35"/>
<rect x="594.39" y="87.46" width="7.97" height="11.52" fill="#a680b9"/>
<rect x="601.76" y="87.46" width="4.28" height="11.52" fill="#f08f35"/>
<rect x="605.45" y="87.46" width="7.97" height="11.52" fill="#fcdccb"/>
<rect x="612.82" y="87.46" width="4.28" height="11.52" fill="#0aa6e0"/>
<rect x="616.5" y="87.46" width="7.97" height="11.52" fill="#fcdccb"/>
<rect x="623.88" y="87.46" width="18.42" height="11.52" fill="#0aa6e0"/>
<rect x="568.6" y="98.38" width="4.28" height="11.52" fill="#a680b9"/>
<rect x="572.28" y="98.38" width="7.97" height="11.52" fill="#f08f35"/>
<rect x="579.65" y="98.38" width="4.28" height="11.52" fill="#a680b9"/>
<rect x="583.34" y="98.38" width="11.65" height="11.52" fill="#f08f35"/>
<rect x="594.39" y="98.38" width="7.97" height="11.52" fill="#a680b9"/>
<rect x="601.76" y="98.38" width="4.28" height="11.52" fill="#f08f35"/>
<rect x="605.45" y="98.38" width="7.97" height="11.52" fill="#a680b9"/>
<rect x="612.82" y="98.38" width="4.28" height="11.52" fill="#0aa6e0"/>
<rect x="616.5" y="98.38" width="4.28" height="11.52" fill="#fcdccb"/>
<rect x="620.19" y="98.38" width="15.34" height="11.52" fill="#0aa6e0"/>
<rect x="634.93" y="98.38" width="7.37" height="11.52" fill="#fcdccb"/>
<rect x="568.6" y="109.29" width="37.45" height="11.52" fill="#a680b9"/>
<rect x="605.45" y="109.29" width="19.02" height="11.52" fill="#fcdccb"/>
<rect x="623.88" y="109.29" width="18.42" height="11.52" fill="#0aa6e0"/>
<rect x="568.6" y="120.21" width="55.87" height="11.52" fill="#a680b9"/>
<rect x="623.88" y="120.21" width="18.42" height="11.52" fill="#fcdccb"/>
<rect x="568.6" y="131.13" width="4.28" height="11.52" fill="#f08f35"/>
<rect x="572.28" y="131.13" width="7.97" height="11.52" fill="#0aa6e0"/>
<rect x="579.65" y="131.13" width="7.97" height="11.52" fill="#fcdccb"/>
<rect x="587.02" y="131.13" width="7.97" height="11.52" fill="#0aa6e0"/>
<rect x="594.39" y="131.13" width="7.97" height="11.52" fill="#fcdccb"/>
<rect x="601.76" y="131.13" width="4.28" height="11.52" fill="#0aa6e0"/>
<rect x="605.45" y="131.13" width="11.65" height="11.52" fill="#fcdccb"/>
<rect x="616.5" y="131.13" width="25.79" height="11.52" fill="#0aa6e0"/>
<rect x="568.6" y="142.05" width="4.28" height="11.52" fill="#a680b9"/>
<rect x="572.28" y="142.05" width="7.97" height="11.52" fill="#f08f35"/>
<rect x="579.65" y="142.05" width="33.76" height="11.52" fill="#a680b9"/>
<rect x="612.82" y="142.05" width="29.48" height="11.52" fill="#fcdccb"/>
<rect x="568.6" y="152.97" width="26.39" height="11.52" fill="#f08f35"/>
<rect x="594.39" y="152.97" width="4.28" height="11.52" fill="#a680b9"/>
<rect x="598.08" y="152.97" width="11.65" height="11.52" fill="#f08f35"/>
<rect x="609.13" y="152.97" width="7.97" height="11.52" fill="#0aa6e0"/>
<rect x="616.5" y="152.97" width="4.28" height="11.52" fill="#fcdccb"/>
<rect x="620.19" y="152.97" width="22.11" height="11.52" fill="#0aa6e0"/>
<rect x="568.6" y="163.88" width="11.65" height="11.52" fill="#f08f35"/>
<rect x="579.65" y="163.88" width="4.28" height="11.52" fill="#a680b9"/>
<rect x="583.34" y="163.88" width="11.65" height="11.52" fill="#f08f35"/>
<rect x="594.39" y="163.88" width="7.97" height="11.52" fill="#a680b9"/>
<rect x="601.76" y="163.88" width="4.28" height="11.52" fill="#f08f35"/>
<rect x="605.45" y="163.88" width="4.28" height="11.52" fill="#a680b9"/>
<rect x="609.13" y="163.88" width="7.97" height="11.52" fill="#f08f35"/>
<rect x="616.5" y="163.88" width="7.97" height="11.52" fill="#fcdccb"/>
<rect x="623.88" y="163.88" width="11.65" height="11.52" fill="#0aa6e0"/>
<rect x="634.93" y="163.88" width="4.28" height="11.52" fill="#fcdccb"/>
<rect x="638.62" y="163.88" width="3.68" height="11.52" fill="#0aa6e0"/>
<rect x="568.6" y="174.8" width="4.28" height="11.52" fill="#a680b9"/>
<rect x="572.28" y="174.8" width="7.97" height="11.52" fill="#f08f35"/>
<rect x="579.65" y="174.8" width="4.28" height="11.52" fill="#a680b9"/>
<rect x="583.34" y="174.8" width="4.28" height="11.52" fill="#f08f35"/>
<rect x="587.02" y="174.8" width="4.28" height="11.52" fill="#a680b9"/>
<rect x="590.71" y="174.8" width="11.65" height="11.52" fill="#fcdccb"/>
<rect x="601.76" y="174.8" width="4.28" height="11.52" fill="#0aa6e0"/>
<rect x="605.45" y="174.8" width="7.97" height="11.52" fill="#fcdccb"/>
<rect x="612.82" y="174.8" width="4.28" height="11.52" fill="#0aa6e0"/>
<rect x="616.5" y="174.8" width="7.97" height="11.52" fill="#fcdccb"/>
<rect x="623.88" y="174.8" width="11.65" height="11.52" fill="#0aa6e0"/>
<rect x="634.93" y="174.8" width="4.28" height="11.52" fill="#fcdccb"/>
<rect x="638.62" y="174.8" width="3.68" height="11.52" fill="#0aa6e0"/>
<rect x="568.6" y="185.72" width="30.08" height="11.52" fill="#f08f35"/>
<rect x="598.08" y="185.72" width="4.28" height="11.52" fill="#a680b9"/>
<rect x="601.76" y="185.72" width="4.28" height="11.52" fill="#f08f35"/>
<rect x="605.45" y="185.72" width="7.97" height="11.52" fill="#a680b9"/>
<rect x="612.82" y="185.72" width="29.48" height="11.52" fill="#0aa6e0"/>
<rect x="568.6" y="196.64" width="19.02" height="11.52" fill="#f08f35"/>
<rect x="587.02" y="196.64" width="4.28" height="11.52" fill="#a680b9"/>
<rect x="590.71" y="196.64" width="4.28" height="11.52" fill="#f08f35"/>
<rect x="594.39" y="196.64" width="7.97" height="11.52" fill="#a680b9"/>
<rect x="601.76" y="196.64" width="4.28" height="11.52" fill="#f08f35"/>
<rect x="605.45" y="196.64" width="11.65" height="11.52" fill="#a680b9"/>
<rect x="616.5" y="196.64" width="4.28" height="11.52" fill="#f08f35"/>
<rect x="620.19" y="196.64" width="22.11" height="11.52" fill="#0aa6e0"/>
<rect x="568.6" y="207.56" width="70.61" height="11.52" fill="#a680b9"/>
<rect x="638.62" y="207.56" width="3.68" height="11.52" fill="#fcdccb"/>
<rect x="568.6" y="218.47" width="11.65" height="11.52" fill="#a680b9"/>
<rect x="579.65" y="218.47" width="4.28" height="11.52" fill="#f08f35"/>
<rect x="583.34" y="218.47" width="37.45" height="11.52" fill="#a680b9"/>
<rect x="620.19" y="218.47" width="7.97" height="11.52" fill="#0aa6e0"/>
<rect x="627.56" y="218.47" width="7.97" height="11.52" fill="#fcdccb"/>
<rect x="634.93" y="218.47" width="7.37" height="11.52" fill="#0aa6e0"/>
<rect x="568.6" y="229.39" width="4.28" height="11.52" fill="#a680b9"/>
<rect x="572.28" y="229.39" width="4.28" height="11.52" fill="#f08f35"/>
<rect x="575.97" y="229.39" width="7.97" height="11.52" fill="#a680b9"/>
<rect x="583.34" y="229.39" width="4.28" height="11.52" fill="#f08f35"/>
<rect x="587.02" y="229.39" width="15.34" height="11.52" fill="#a680b9"/>
<rect x="601.76" y="229.39" width="4.28" height="11.52" fill="#f08f35"/>
<rect x="605.45" y="229.39" width="7.97" height="11.52" fill="#a680b9"/>
<rect x="612.82" y="229.39" width="4.28" height="11.52" fill="#f08f35"/>
<rect x="616.5" y="229.39" width="7.97" height="11.52" fill="#fcdccb"/>
<rect x="623.88" y="229.39" width="11.65" height="11.52" fill="#0aa6e0"/>
<rect x="634.93" y="229.39" width="7.37" height="11.52" fill="#fcdccb"/>
<rect x="568.6" y="240.31" width="30.08" height="11.52" fill="#a680b9"/>
<rect x="598.08" y="240.31" width="7.97" height="11.52" fill="#fcdccb"/>
<rect x="605.45" y="240.31" width="4.28" height="11.52" fill="#a680b9"/>
<rect x="609.13" y="240.31" width="33.16" height="11.52" fill="#fcdccb"/>
<rect x="568.6" y="251.23" width="63.24" height="11.52" fill="#828282"/>
<rect x="631.25" y="251.23" width="11.05" height="11.52" fill="#0aa6e0"/>
<rect x="568.6" y="262.15" width="4.28" height="11.52" fill="#fcdccb"/>
<rect x="572.28" y="262.15" width="4.28" height="11.52" fill="#0aa6e0"/>
<rect x="575.97" y="262.15" width="7.97" height="11.52" fill="#fcdccb"/>
<rect x="583.34" y="262.15" width="55.87" height="11.52" fill="#828282"/>
<rect x="638.62" y="262.15" width="3.68" height="11.52" fill="#0aa6e0"/>
<rect x="568.6" y="273.06" width="73.7" height="11.52" fill="#fcdccb"/>
<rect x="568.6" y="283.98" width="73.7" height="11.52" fill="#fcdccb"/>
<rect x="568.6" y="294.9" width="19.02" height="11.52" fill="#a680b9"/>
<rect x="587.02" y="294.9" width="55.27" height="11.52" fill="#fcdccb"/>
<rect x="568.6" y="305.82" width="48.5" height="11.52" fill="#a680b9"/>
<rect x="616.5" y="305.82" width="25.79" height="11.52" fill="#fcdccb"/>
<rect x="568.6" y="316.74" width="55.87" height="11.52" fill="#a680b9"/>
<rect x="623.88" y="316.74" width="18.42" height="11.52" fill="#fcdccb"/>
<rect x="568.6" y="327.65" width="26.39" height="11.52" fill="#a680b9"/>
<rect x="594.39" y="327.65" width="47.9" height="11.52" fill="#fcdccb"/>
<rect x="568.6" y="338.57" width="48.5" height="11.52" fill="#a680b9"/>
<rect x="616.5" y="338.57" width="25.79" height="11.52" fill="#fcdccb"/>
<rect x="568.6" y="349.49" width="73.7" height="11.52" fill="#828282"/>
<rect x="568.6" y="360.41" width="59.56" height="11.52" fill="#828282"/>
<rect x="627.56" y="360.41" width="11.65" height="11.52" fill="#fcdccb"/>
<rect x="638.62" y="360.41" width="3.68" height="11.52" fill="#828282"/>
<rect x="568.6" y="371.33" width="22.71" height="11.52" fill="#a680b9"/>
<rect x="590.71" y="371.33" width="41.13" height="11.52" fill="#fcdccb"/>
<rect x="631.25" y="371.33" width="4.28" height="11.52" fill="#0aa6e0"/>
<rect x="634.93" y="371.33" width="7.37" height="11.52" fill="#fcdccb"/>
<rect x="568.6" y="382.24" width="73.7" height="11.52" fill="#fcdccb"/>
<rect x="568.6" y="393.16" width="22.71" height="11.52" fill="#fcdccb"/>
<rect x="590.71" y="393.16" width="48.5" height="11.52" fill="#828282"/>
<rect x="638.62" y="393.16" width="3.68" height="11.52" fill="#fcdccb"/>
<rect x="568.6" y="404.08" width="15.34" height="11.52" fill="#fcdccb"/>
<rect x="583.34" y="404.08" width="4.28" height="11.52" fill="#a680b9"/>
<rect x="587.02" y="404.08" width="55.27" height="11.52" fill="#fcdccb"/>
<rect x="568.6" y="415" width="52.19" height="11.52" fill="#a680b9"/>
<rect x="620.19" y="415" width="22.11" height="11.52" fill="#fcdccb"/>
<rect x="568.6" y="425.92" width="55.87" height="11.52" fill="#a680b9"/>
<rect x="623.88" y="425.92" width="18.42" height="11.52" fill="#fcdccb"/>
<rect x="568.6" y="436.83" width="73.7" height="11.52" fill="#fcdccb"/>
<rect x="568.6" y="447.75" width="26.39" height="11.52" fill="#a680b9"/>
<rect x="594.39" y="447.75" width="47.9" height="11.52" fill="#fcdccb"/>
<rect x="568.6" y="458.67" width="30.08" height="11.52" fill="#a680b9"/>
<rect x="598.08" y="458.67" width="4.28" height="11.52" fill="#fcdccb"/>
<rect x="601.76" y="458.67" width="11.65" height="11.52" fill="#a680b9"/>
<rect x="612.82" y="458.67" width="29.48" height="11.52" fill="#fcdccb"/>
<rect x="568.6" y="469.59" width="37.45" height="11.52" fill="#a680b9"/>
<rect x="605.45" y="469.59" width="4.28" height="11.52" fill="#fcdccb"/>
<rect x="609.13" y="469.59" width="7.97" height="11.52" fill="#a680b9"/>
<rect x="616.5" y="469.59" width="25.79" height="11.52" fill="#fcdccb"/>
<rect x="568.6" y="480.51" width="55.87" height="11.52" fill="#a680b9"/>
<rect x="623.88" y="480.51" width="18.42" height="11.52" fill="#fcdccb"/>
<rect x="568.6" y="491.42" width="59.56" height="11.52" fill="#a680b9"/>
<rect x="627.56" y="491.42" width="14.74" height="11.52" fill="#fcdccb"/>
<rect x="568.6" y="502.34" width="44.82" height="11.52" fill="#a680b9"/>
<rect x="612.82" y="502.34" width="29.48" height="11.52" fill="#fcdccb"/>
<rect x="568.6" y="513.26" width="37.45" height="11.52" fill="#a680b9"/>
<rect x="605.45" y="513.26" width="36.85" height="11.52" fill="#fcdccb"/>
<rect x="568.6" y="524.18" width="4.28" height="11.52" fill="#fcdccb"/>
<rect x="572.28" y="524.18" width="26.39" height="11.52" fill="#a680b9"/>
<rect x="598.08" y="524.18" width="44.22" height="11.52" fill="#fcdccb"/>
<rect x="568.6" y="535.1" width="55.87" height="11.52" fill="#a680b9"/>
<rect x="623.88" y="535.1" width="18.42" height="11.52" fill="#fcdccb"/>
<rect x="568.6" y="546.01" width="44.82" height="11.52" fill="#828282"/>
<rect x="612.82" y="546.01" width="29.48" height="11.52" fill="#fcdccb"/>
<rect x="568.6" y="556.93" width="7.97" height="11.52" fill="#fcdccb"/>
<rect x="575.97" y="556.93" width="19.02" height="11.52" fill="#a680b9"/>
<rect x="594.39" y="556.93" width="47.9" height="11.52" fill="#fcdccb"/>
<rect x="568.6" y="567.85" width="15.34" height="11.52" fill="#fcdccb"/>
<rect x="583.34" y="567.85" width="11.65" height="11.52" fill="#a680b9"/>
<rect x="594.39" y="567.85" width="47.9" height="11.52" fill="#fcdccb"/>
<rect x="568.6" y="578.77" width="63.24" height="11.52" fill="#a680b9"/>
<rect x="631.25" y="578.77" width="7.97" height="11.52" fill="#fcdccb"/>
<rect x="638.62" y="578.77" width="3.68" height="11.52" fill="#828282"/>
<rect x="568.6" y="589.69" width="4.28" height="11.52" fill="#fcdccb"/>
<rect x="572.28" y="589.69" width="55.87" height="11.52" fill="#a680b9"/>
<rect x="627.56" y="589.69" width="7.97" height="11.52" fill="#fcdccb"/>
<rect x="634.93" y="589.69" width="4.28" height="11.52" fill="#a680b9"/>
<rect x="638.62" y="589.69" width="3.68" height="11.52" fill="#fcdccb"/>
<rect x="568.6" y="600.6" width="55.87" height="11.52" fill="#a680b9"/>
<rect x="623.88" y="600.6" width="18.42" height="11.52" fill="#fcdccb"/>
<rect x="568.6" y="611.52" width="11.65" height="11.52" fill="#a680b9"/>
<rect x="579.65" y="611.52" width="26.39" height="11.52" fill="#fcdccb"/>
<rect x="605.45" y="611.52" width="4.28" height="11.52" fill="#a680b9"/>
<rect x="609.13" y="611.52" width="33.16" height="11.52" fill="#fcdccb"/>
<rect x="568.6" y="622.44" width="11.65" height="10.92" fill="#a680b9"/>
<rect x="579.65" y="622.44" width="62.64" height="10.92" fill="#fcdccb"/>
</g>
<rect x="152.5" y="21.95" width="74.1" height="611.41" fill="none" stroke="#000" stroke-width="1.4"/>
<path d="M152.5 27.41h-3.7M152.5 38.33h-3.7M152.5 49.24h-3.7M152.5 60.16h-3.7M152.5 71.08h-3.7M152.5 82h-3.7M152.5 92.92h-3.7M152.5 103.83h-3.7M152.5 114.75h-3.7M152.5 125.67h-3.7M152.5 136.59h-3.7M152.5 147.51h-3.7M152.5 158.42h-3.7M152.5 169.34h-3.7M152.5 180.26h-3.7M152.5 191.18h-3.7M152.5 202.1h-3.7M152.5 213.01h-3.7M152.5 223.93h-3.7M152.5 234.85h-3.7M152.5 245.77h-3.7M152.5 256.69h-3.7M152.5 267.6h-3.7M152.5 278.52h-3.7M152.5 289.44h-3.7M152.5 300.36h-3.7M152.5 311.28h-3.7M152.5 322.19h-3.7M152.5 333.11h-3.7M152.5 344.03h-3.7M152.5 354.95h-3.7M152.5 365.87h-3.7M152.5 376.78h-3.7M152.5 387.7h-3.7M152.5 398.62h-3.7M152.5 409.54h-3.7M152.5 420.46h-3.7M152.5 431.37h-3.7M152.5 442.29h-3.7M152.5 453.21h-3.7M152.5 464.13h-3.7M152.5 475.05h-3.7M152.5 485.96h-3.7M152.5 496.88h-3.7M152.5 507.8h-3.7M152.5 518.72h-3.7M152.5 529.64h-3.7M152.5 540.56h-3.7M152.5 551.47h-3.7M152.5 562.39h-3.7M152.5 573.31h-3.7M152.5 584.23h-3.7M152.5 595.14h-3.7M152.5 606.06h-3.7M152.5 616.98h-3.7M152.5 627.9h-3.7" stroke="#000" stroke-width="1.3"/>
<path d="M154.35 633.36v6.5M172.88 633.36v6.5M191.4 633.36v6.5M209.93 633.36v6.5" stroke="#000" stroke-width="1"/>
<text x="162.85" y="653.66" font-size="12" text-anchor="end" transform="rotate(-45 162.85 653.66)">2001</text>
<text x="181.38" y="653.66" font-size="12" text-anchor="end" transform="rotate(-45 181.38 653.66)">2006</text>
<text x="199.9" y="653.66" font-size="12" text-anchor="end" transform="rotate(-45 199.9 653.66)">2011</text>
<text x="218.43" y="653.66" font-size="12" text-anchor="end" transform="rotate(-45 218.43 653.66)">2016</text>
<rect x="234.9" y="21.95" width="73.8" height="611.41" fill="none" stroke="#000" stroke-width="1.4"/>
<path d="M234.9 27.41h-3.7M234.9 38.33h-3.7M234.9 49.24h-3.7M234.9 60.16h-3.7M234.9 71.08h-3.7M234.9 82h-3.7M234.9 92.92h-3.7M234.9 103.83h-3.7M234.9 114.75h-3.7M234.9 125.67h-3.7M234.9 136.59h-3.7M234.9 147.51h-3.7M234.9 158.42h-3.7M234.9 169.34h-3.7M234.9 180.26h-3.7M234.9 191.18h-3.7M234.9 202.1h-3.7M234.9 213.01h-3.7M234.9 223.93h-3.7M234.9 234.85h-3.7M234.9 245.77h-3.7M234.9 256.69h-3.7M234.9 267.6h-3.7M234.9 278.52h-3.7M234.9 289.44h-3.7M234.9 300.36h-3.7M234.9 311.28h-3.7M234.9 322.19h-3.7M234.9 333.11h-3.7M234.9 344.03h-3.7M234.9 354.95h-3.7M234.9 365.87h-3.7M234.9 376.78h-3.7M234.9 387.7h-3.7M234.9 398.62h-3.7M234.9 409.54h-3.7M234.9 420.46h-3.7M234.9 431.37h-3.7M234.9 442.29h-3.7M234.9 453.21h-3.7M234.9 464.13h-3.7M234.9 475.05h-3.7M234.9 485.96h-3.7M234.9 496.88h-3.7M234.9 507.8h-3.7M234.9 518.72h-3.7M234.9 529.64h-3.7M234.9 540.56h-3.7M234.9 551.47h-3.7M234.9 562.39h-3.7M234.9 573.31h-3.7M234.9 584.23h-3.7M234.9 595.14h-3.7M234.9 606.06h-3.7M234.9 616.98h-3.7M234.9 627.9h-3.7" stroke="#000" stroke-width="1.3"/>
<path d="M236.75 633.36v6.5M255.19 633.36v6.5M273.64 633.36v6.5M292.09 633.36v6.5" stroke="#000" stroke-width="1"/>
<text x="245.25" y="653.66" font-size="12" text-anchor="end" transform="rotate(-45 245.25 653.66)">2001</text>
<text x="263.69" y="653.66" font-size="12" text-anchor="end" transform="rotate(-45 263.69 653.66)">2006</text>
<text x="282.14" y="653.66" font-size="12" text-anchor="end" transform="rotate(-45 282.14 653.66)">2011</text>
<text x="300.59" y="653.66" font-size="12" text-anchor="end" transform="rotate(-45 300.59 653.66)">2016</text>
<rect x="318.4" y="21.95" width="74.05" height="611.41" fill="none" stroke="#000" stroke-width="1.4"/>
<path d="M318.4 27.41h-3.7M318.4 38.33h-3.7M318.4 49.24h-3.7M318.4 60.16h-3.7M318.4 71.08h-3.7M318.4 82h-3.7M318.4 92.92h-3.7M318.4 103.83h-3.7M318.4 114.75h-3.7M318.4 125.67h-3.7M318.4 136.59h-3.7M318.4 147.51h-3.7M318.4 158.42h-3.7M318.4 169.34h-3.7M318.4 180.26h-3.7M318.4 191.18h-3.7M318.4 202.1h-3.7M318.4 213.01h-3.7M318.4 223.93h-3.7M318.4 234.85h-3.7M318.4 245.77h-3.7M318.4 256.69h-3.7M318.4 267.6h-3.7M318.4 278.52h-3.7M318.4 289.44h-3.7M318.4 300.36h-3.7M318.4 311.28h-3.7M318.4 322.19h-3.7M318.4 333.11h-3.7M318.4 344.03h-3.7M318.4 354.95h-3.7M318.4 365.87h-3.7M318.4 376.78h-3.7M318.4 387.7h-3.7M318.4 398.62h-3.7M318.4 409.54h-3.7M318.4 420.46h-3.7M318.4 431.37h-3.7M318.4 442.29h-3.7M318.4 453.21h-3.7M318.4 464.13h-3.7M318.4 475.05h-3.7M318.4 485.96h-3.7M318.4 496.88h-3.7M318.4 507.8h-3.7M318.4 518.72h-3.7M318.4 529.64h-3.7M318.4 540.56h-3.7M318.4 551.47h-3.7M318.4 562.39h-3.7M318.4 573.31h-3.7M318.4 584.23h-3.7M318.4 595.14h-3.7M318.4 606.06h-3.7M318.4 616.98h-3.7M318.4 627.9h-3.7" stroke="#000" stroke-width="1.3"/>
<path d="M320.25 633.36v6.5M338.76 633.36v6.5M357.28 633.36v6.5M375.79 633.36v6.5" stroke="#000" stroke-width="1"/>
<text x="328.75" y="653.66" font-size="12" text-anchor="end" transform="rotate(-45 328.75 653.66)">2001</text>
<text x="347.26" y="653.66" font-size="12" text-anchor="end" transform="rotate(-45 347.26 653.66)">2006</text>
<text x="365.78" y="653.66" font-size="12" text-anchor="end" transform="rotate(-45 365.78 653.66)">2011</text>
<text x="384.29" y="653.66" font-size="12" text-anchor="end" transform="rotate(-45 384.29 653.66)">2016</text>
<rect x="484.7" y="21.95" width="73.8" height="611.41" fill="none" stroke="#000" stroke-width="1.4"/>
<path d="M484.7 27.41h-3.7M484.7 38.33h-3.7M484.7 49.24h-3.7M484.7 60.16h-3.7M484.7 71.08h-3.7M484.7 82h-3.7M484.7 92.92h-3.7M484.7 103.83h-3.7M484.7 114.75h-3.7M484.7 125.67h-3.7M484.7 136.59h-3.7M484.7 147.51h-3.7M484.7 158.42h-3.7M484.7 169.34h-3.7M484.7 180.26h-3.7M484.7 191.18h-3.7M484.7 202.1h-3.7M484.7 213.01h-3.7M484.7 223.93h-3.7M484.7 234.85h-3.7M484.7 245.77h-3.7M484.7 256.69h-3.7M484.7 267.6h-3.7M484.7 278.52h-3.7M484.7 289.44h-3.7M484.7 300.36h-3.7M484.7 311.28h-3.7M484.7 322.19h-3.7M484.7 333.11h-3.7M484.7 344.03h-3.7M484.7 354.95h-3.7M484.7 365.87h-3.7M484.7 376.78h-3.7M484.7 387.7h-3.7M484.7 398.62h-3.7M484.7 409.54h-3.7M484.7 420.46h-3.7M484.7 431.37h-3.7M484.7 442.29h-3.7M484.7 453.21h-3.7M484.7 464.13h-3.7M484.7 475.05h-3.7M484.7 485.96h-3.7M484.7 496.88h-3.7M484.7 507.8h-3.7M484.7 518.72h-3.7M484.7 529.64h-3.7M484.7 540.56h-3.7M484.7 551.47h-3.7M484.7 562.39h-3.7M484.7 573.31h-3.7M484.7 584.23h-3.7M484.7 595.14h-3.7M484.7 606.06h-3.7M484.7 616.98h-3.7M484.7 627.9h-3.7" stroke="#000" stroke-width="1.3"/>
<path d="M486.55 633.36v6.5M505 633.36v6.5M523.44 633.36v6.5M541.89 633.36v6.5" stroke="#000" stroke-width="1"/>
<text x="495.05" y="653.66" font-size="12" text-anchor="end" transform="rotate(-45 495.05 653.66)">2001</text>
<text x="513.5" y="653.66" font-size="12" text-anchor="end" transform="rotate(-45 513.5 653.66)">2006</text>
<text x="531.94" y="653.66" font-size="12" text-anchor="end" transform="rotate(-45 531.94 653.66)">2011</text>
<text x="550.39" y="653.66" font-size="12" text-anchor="end" transform="rotate(-45 550.39 653.66)">2016</text>
<rect x="568.6" y="21.95" width="73.7" height="611.41" fill="none" stroke="#000" stroke-width="1.4"/>
<path d="M568.6 27.41h-4.5M568.6 38.33h-4.5M568.6 49.24h-4.5M568.6 60.16h-4.5M568.6 71.08h-4.5M568.6 82h-4.5M568.6 92.92h-4.5M568.6 103.83h-4.5M568.6 114.75h-4.5M568.6 125.67h-4.5M568.6 136.59h-4.5M568.6 147.51h-4.5M568.6 158.42h-4.5M568.6 169.34h-4.5M568.6 180.26h-4.5M568.6 191.18h-4.5M568.6 202.1h-4.5M568.6 213.01h-4.5M568.6 223.93h-4.5M568.6 234.85h-4.5M568.6 245.77h-4.5M568.6 256.69h-4.5M568.6 267.6h-4.5M568.6 278.52h-4.5M568.6 289.44h-4.5M568.6 300.36h-4.5M568.6 311.28h-4.5M568.6 322.19h-4.5M568.6 333.11h-4.5M568.6 344.03h-4.5M568.6 354.95h-4.5M568.6 365.87h-4.5M568.6 376.78h-4.5M568.6 387.7h-4.5M568.6 398.62h-4.5M568.6 409.54h-4.5M568.6 420.46h-4.5M568.6 431.37h-4.5M568.6 442.29h-4.5M568.6 453.21h-4.5M568.6 464.13h-4.5M568.6 475.05h-4.5M568.6 485.96h-4.5M568.6 496.88h-4.5M568.6 507.8h-4.5M568.6 518.72h-4.5M568.6 529.64h-4.5M568.6 540.56h-4.5M568.6 551.47h-4.5M568.6 562.39h-4.5M568.6 573.31h-4.5M568.6 584.23h-4.5M568.6 595.14h-4.5M568.6 606.06h-4.5M568.6 616.98h-4.5M568.6 627.9h-4.5" stroke="#000" stroke-width="1.3"/>
<path d="M570.44 633.36v6.5M588.87 633.36v6.5M607.29 633.36v6.5M625.72 633.36v6.5" stroke="#000" stroke-width="1"/>
<text x="578.94" y="653.66" font-size="12" text-anchor="end" transform="rotate(-45 578.94 653.66)">2001</text>
<text x="597.37" y="653.66" font-size="12" text-anchor="end" transform="rotate(-45 597.37 653.66)">2006</text>
<text x="615.79" y="653.66" font-size="12" text-anchor="end" transform="rotate(-45 615.79 653.66)">2011</text>
<text x="634.22" y="653.66" font-size="12" text-anchor="end" transform="rotate(-45 634.22 653.66)">2016</text>
<text x="145.2" y="31.01" font-size="12.3" text-anchor="end">Hubei-Temperate</text>
<text x="145.2" y="41.93" font-size="12.3" text-anchor="end">Anhui-Temperate</text>
<text x="145.2" y="52.84" font-size="12.3" text-anchor="end">Jiangxi-Temperate</text>
<text x="145.2" y="63.76" font-size="12.3" text-anchor="end">Shanghai-Temperate</text>
<text x="145.2" y="74.68" font-size="12.3" text-anchor="end">Jiangsu-Temperate</text>
<text x="145.2" y="85.6" font-size="12.3" text-anchor="end">Henan-Temperate</text>
<text x="145.2" y="96.52" font-size="12.3" text-anchor="end">Henan-Arid</text>
<text x="145.2" y="107.43" font-size="12.3" text-anchor="end">Henan-Continental</text>
<text x="145.2" y="118.35" font-size="12.3" text-anchor="end">Hunan-Temperate</text>
<text x="145.2" y="129.27" font-size="12.3" text-anchor="end">Guizhou-Temperate</text>
<text x="145.2" y="140.19" font-size="12.3" text-anchor="end">Zhejiang-Temperate</text>
<text x="145.2" y="151.11" font-size="12.3" text-anchor="end">Fujian-Temperate</text>
<text x="145.2" y="162.02" font-size="12.3" text-anchor="end">Shandong-Temperate</text>
<text x="145.2" y="172.94" font-size="12.3" text-anchor="end">Shandong-Arid</text>
<text x="145.2" y="183.86" font-size="12.3" text-anchor="end">Shandong-Continental</text>
<text x="145.2" y="194.78" font-size="12.3" text-anchor="end">Guangdong-Temperate</text>
<text x="145.2" y="205.7" font-size="12.3" text-anchor="end">Hainan-Tropical</text>
<text x="145.2" y="216.61" font-size="12.3" text-anchor="end">Hainan-Temperate</text>
<text x="145.2" y="227.53" font-size="12.3" text-anchor="end">Guangxi-Temperate</text>
<text x="145.2" y="238.45" font-size="12.3" text-anchor="end">Hebei-Arid</text>
<text x="145.2" y="249.37" font-size="12.3" text-anchor="end">Hebei-Continental</text>
<text x="145.2" y="260.29" font-size="12.3" text-anchor="end">Tianjin-Continental</text>
<text x="145.2" y="271.2" font-size="12.3" text-anchor="end">Tianjin-Arid</text>
<text x="145.2" y="282.12" font-size="12.3" text-anchor="end">Beijing-Continental</text>
<text x="145.2" y="293.04" font-size="12.3" text-anchor="end">Beijing-Arid</text>
<text x="145.2" y="303.96" font-size="12.3" text-anchor="end">Sichuan-Temperate</text>
<text x="145.2" y="314.88" font-size="12.3" text-anchor="end">Sichuan-Continental</text>
<text x="145.2" y="325.8" font-size="12.3" text-anchor="end">Sichuan-Highland</text>
<text x="145.2" y="336.71" font-size="12.3" text-anchor="end">Chongqing-Temperate</text>
<text x="145.2" y="347.63" font-size="12.3" text-anchor="end">Yunnan-Temperate</text>
<text x="145.2" y="358.55" font-size="12.3" text-anchor="end">Yunnan-Arid</text>
<text x="145.2" y="369.47" font-size="12.3" text-anchor="end">Liaoning-Arid</text>
<text x="145.2" y="380.38" font-size="12.3" text-anchor="end">Liaoning-Continental</text>
<text x="145.2" y="391.3" font-size="12.3" text-anchor="end">Jilin-Continental</text>
<text x="145.2" y="402.22" font-size="12.3" text-anchor="end">Jilin-Arid</text>
<text x="145.2" y="413.14" font-size="12.3" text-anchor="end">Heilongjiang-Continental</text>
<text x="145.2" y="424.06" font-size="12.3" text-anchor="end">Gansu-Continental</text>
<text x="145.2" y="434.97" font-size="12.3" text-anchor="end">Gansu-Temperate</text>
<text x="145.2" y="445.89" font-size="12.3" text-anchor="end">Gansu-Arid</text>
<text x="145.2" y="456.81" font-size="12.3" text-anchor="end">Shaanxi-Arid</text>
<text x="145.2" y="467.73" font-size="12.3" text-anchor="end">Shaanxi-Temperate</text>
<text x="145.2" y="478.65" font-size="12.3" text-anchor="end">Shaanxi-Continental</text>
<text x="145.2" y="489.56" font-size="12.3" text-anchor="end">Ningxia-Arid</text>
<text x="145.2" y="500.48" font-size="12.3" text-anchor="end">Ningxia-Continental</text>
<text x="145.2" y="511.4" font-size="12.3" text-anchor="end">Shanxi-Continental</text>
<text x="145.2" y="522.32" font-size="12.3" text-anchor="end">Shanxi-Arid</text>
<text x="145.2" y="533.24" font-size="12.3" text-anchor="end">Inner Mongolia-Arid</text>
<text x="145.2" y="544.16" font-size="12.3" text-anchor="end">Inner Mongolia-Continental</text>
<text x="145.2" y="555.07" font-size="12.3" text-anchor="end">Qinghai-Arid</text>
<text x="145.2" y="565.99" font-size="12.3" text-anchor="end">Qinghai-Continental</text>
<text x="145.2" y="576.91" font-size="12.3" text-anchor="end">Xinjiang-Arid</text>
<text x="145.2" y="587.83" font-size="12.3" text-anchor="end">Xinjiang-Highland</text>
<text x="145.2" y="598.75" font-size="12.3" text-anchor="end">Xinjiang-Continental</text>
<text x="145.2" y="609.66" font-size="12.3" text-anchor="end">Tibet-Continental</text>
<text x="145.2" y="620.58" font-size="12.3" text-anchor="end">Tibet-Highland</text>
<text x="145.2" y="631.5" font-size="12.3" text-anchor="end">Tibet-Arid</text>
<text x="150.3" y="15.6" font-size="21" font-weight="bold">a</text>
<text x="233.3" y="15.6" font-size="21" font-weight="bold">b</text>
<text x="320.8" y="15.6" font-size="21" font-weight="bold">c</text>
<text x="402.4" y="15.6" font-size="21" font-weight="bold">d</text>
<text x="484" y="15.6" font-size="21" font-weight="bold">e</text>
<text x="568.3" y="15.6" font-size="21" font-weight="bold">f</text>
<rect x="411.86" y="23.66" width="34.74" height="8" fill="#000" stroke="#000" stroke-width="0.7"/>
<rect x="422.45" y="34.58" width="24.15" height="8" fill="#000" stroke="#000" stroke-width="0.7"/>
<rect x="434.36" y="45.49" width="12.24" height="8" fill="#000" stroke="#000" stroke-width="0.7"/>
<rect x="446.7" y="56.41" width="5.85" height="8" fill="#000" stroke="#000" stroke-width="0.7"/>
<rect x="423.13" y="67.33" width="23.47" height="8" fill="#000" stroke="#000" stroke-width="0.7"/>
<rect x="435.61" y="78.25" width="10.99" height="8" fill="#000" stroke="#000" stroke-width="0.7"/>
<rect x="424.79" y="89.17" width="21.81" height="8" fill="#000" stroke="#000" stroke-width="0.7"/>
<rect x="446.7" y="100.08" width="0.6" height="8" fill="#000" stroke="#000" stroke-width="0.7"/>
<rect x="410.54" y="111" width="36.06" height="8" fill="#000" stroke="#000" stroke-width="0.7"/>
<rect x="423.31" y="121.92" width="23.29" height="8" fill="#000" stroke="#000" stroke-width="0.7"/>
<rect x="435.44" y="132.84" width="11.16" height="8" fill="#000" stroke="#000" stroke-width="0.7"/>
<rect x="446.7" y="143.76" width="12.83" height="8" fill="#000" stroke="#000" stroke-width="0.7"/>
<rect x="437.05" y="154.67" width="9.55" height="8" fill="#000" stroke="#000" stroke-width="0.7"/>
<rect x="444.37" y="165.59" width="2.23" height="8" fill="#000" stroke="#000" stroke-width="0.7"/>
<rect x="442.26" y="176.51" width="4.34" height="8" fill="#000" stroke="#000" stroke-width="0.7"/>
<rect x="446.7" y="187.43" width="14.32" height="8" fill="#000" stroke="#000" stroke-width="0.7"/>
<rect x="438.13" y="198.35" width="8.47" height="8" fill="#000" stroke="#000" stroke-width="0.7"/>
<rect x="446.7" y="220.18" width="1.27" height="8" fill="#000" stroke="#000" stroke-width="0.7"/>
<rect x="438.31" y="231.1" width="8.29" height="8" fill="#000" stroke="#000" stroke-width="0.7"/>
<rect x="438.31" y="242.02" width="8.29" height="8" fill="#000" stroke="#000" stroke-width="0.7"/>
<rect x="446.7" y="274.77" width="1.27" height="8" fill="#000" stroke="#000" stroke-width="0.7"/>
<rect x="438.31" y="285.69" width="8.29" height="8" fill="#000" stroke="#000" stroke-width="0.7"/>
<rect x="424.22" y="296.61" width="22.38" height="8" fill="#000" stroke="#000" stroke-width="0.7"/>
<rect x="445.23" y="307.53" width="1.37" height="8" fill="#000" stroke="#000" stroke-width="0.7"/>
<rect x="417.01" y="329.36" width="29.59" height="8" fill="#000" stroke="#000" stroke-width="0.7"/>
<rect x="436.99" y="340.28" width="9.61" height="8" fill="#000" stroke="#000" stroke-width="0.7"/>
<rect x="437.39" y="373.03" width="9.21" height="8" fill="#000" stroke="#000" stroke-width="0.7"/>
<rect x="437.39" y="383.95" width="9.21" height="8" fill="#000" stroke="#000" stroke-width="0.7"/>
<rect x="441.23" y="405.79" width="5.38" height="8" fill="#000" stroke="#000" stroke-width="0.7"/>
<rect x="438.31" y="416.71" width="8.29" height="8" fill="#000" stroke="#000" stroke-width="0.7"/>
<rect x="443.17" y="427.62" width="3.43" height="8" fill="#000" stroke="#000" stroke-width="0.7"/>
<rect x="440.08" y="438.54" width="6.52" height="8" fill="#000" stroke="#000" stroke-width="0.7"/>
<rect x="436.47" y="449.46" width="10.13" height="8" fill="#000" stroke="#000" stroke-width="0.7"/>
<rect x="431.38" y="460.38" width="15.22" height="8" fill="#000" stroke="#000" stroke-width="0.7"/>
<rect x="438.31" y="471.3" width="8.29" height="8" fill="#000" stroke="#000" stroke-width="0.7"/>
<rect x="446.49" y="482.21" width="0.6" height="8" fill="#000" stroke="#000" stroke-width="0.7"/>
<rect x="438.82" y="493.13" width="7.78" height="8" fill="#000" stroke="#000" stroke-width="0.7"/>
<rect x="439.74" y="504.05" width="6.86" height="8" fill="#000" stroke="#000" stroke-width="0.7"/>
<rect x="443.17" y="514.97" width="3.43" height="8" fill="#000" stroke="#000" stroke-width="0.7"/>
<rect x="437.9" y="525.89" width="8.7" height="8" fill="#000" stroke="#000" stroke-width="0.7"/>
<rect x="442.08" y="536.81" width="4.52" height="8" fill="#000" stroke="#000" stroke-width="0.7"/>
<rect x="446.7" y="558.64" width="0.7" height="8" fill="#000" stroke="#000" stroke-width="0.7"/>
<rect x="446.7" y="569.56" width="1.84" height="8" fill="#000" stroke="#000" stroke-width="0.7"/>
<rect x="437.9" y="602.31" width="8.7" height="8" fill="#000" stroke="#000" stroke-width="0.7"/>
<path d="M399.01 25.26L399.56 27.09L401.48 27.06L399.91 28.15L400.53 29.96L399.01 28.81L397.48 29.96L398.1 28.15L396.53 27.06L398.45 27.09ZM404.31 25.26L404.86 27.09L406.78 27.06L405.21 28.15L405.83 29.96L404.31 28.81L402.78 29.96L403.4 28.15L401.83 27.06L403.75 27.09ZM409.61 25.26L410.16 27.09L412.08 27.06L410.51 28.15L411.13 29.96L409.61 28.81L408.08 29.96L408.7 28.15L407.13 27.06L409.05 27.09ZM409.6 36.18L410.16 38.01L412.07 37.97L410.5 39.07L411.13 40.88L409.6 39.73L408.07 40.88L408.69 39.07L407.12 37.97L409.04 38.01ZM414.9 36.18L415.46 38.01L417.37 37.97L415.8 39.07L416.43 40.88L414.9 39.73L413.37 40.88L413.99 39.07L412.42 37.97L414.34 38.01ZM420.2 36.18L420.76 38.01L422.67 37.97L421.1 39.07L421.73 40.88L420.2 39.73L418.67 40.88L419.29 39.07L417.72 37.97L419.64 38.01ZM410.28 68.93L410.84 70.76L412.76 70.73L411.19 71.82L411.81 73.63L410.28 72.48L408.76 73.63L409.38 71.82L407.81 70.73L409.73 70.76ZM415.58 68.93L416.14 70.76L418.06 70.73L416.49 71.82L417.11 73.63L415.58 72.48L414.06 73.63L414.68 71.82L413.11 70.73L415.03 70.76ZM420.88 68.93L421.44 70.76L423.36 70.73L421.79 71.82L422.41 73.63L420.88 72.48L419.36 73.63L419.98 71.82L418.41 70.73L420.33 70.76ZM422.76 79.85L423.32 81.68L425.24 81.65L423.67 82.74L424.29 84.55L422.76 83.4L421.24 84.55L421.86 82.74L420.29 81.65L422.21 81.68ZM428.06 79.85L428.62 81.68L430.54 81.65L428.97 82.74L429.59 84.55L428.06 83.4L426.54 84.55L427.16 82.74L425.59 81.65L427.51 81.68ZM433.36 79.85L433.92 81.68L435.84 81.65L434.27 82.74L434.89 84.55L433.36 83.4L431.84 84.55L432.46 82.74L430.89 81.65L432.81 81.68ZM411.94 90.77L412.5 92.6L414.42 92.56L412.85 93.66L413.47 95.47L411.94 94.32L410.42 95.47L411.04 93.66L409.47 92.56L411.39 92.6ZM417.24 90.77L417.8 92.6L419.72 92.56L418.15 93.66L418.77 95.47L417.24 94.32L415.72 95.47L416.34 93.66L414.77 92.56L416.69 92.6ZM422.54 90.77L423.1 92.6L425.02 92.56L423.45 93.66L424.07 95.47L422.54 94.32L421.02 95.47L421.64 93.66L420.07 92.56L421.99 92.6ZM397.69 112.6L398.25 114.43L400.16 114.4L398.59 115.5L399.22 117.31L397.69 116.15L396.16 117.31L396.79 115.5L395.22 114.4L397.13 114.43ZM402.99 112.6L403.55 114.43L405.46 114.4L403.89 115.5L404.52 117.31L402.99 116.15L401.46 117.31L402.09 115.5L400.52 114.4L402.43 114.43ZM408.29 112.6L408.85 114.43L410.76 114.4L409.19 115.5L409.82 117.31L408.29 116.15L406.76 117.31L407.39 115.5L405.82 114.4L407.73 114.43ZM410.46 123.52L411.01 125.35L412.93 125.32L411.36 126.41L411.98 128.22L410.46 127.07L408.93 128.22L409.55 126.41L407.98 125.32L409.9 125.35ZM415.76 123.52L416.31 125.35L418.23 125.32L416.66 126.41L417.28 128.22L415.76 127.07L414.23 128.22L414.85 126.41L413.28 125.32L415.2 125.35ZM421.06 123.52L421.61 125.35L423.53 125.32L421.96 126.41L422.58 128.22L421.06 127.07L419.53 128.22L420.15 126.41L418.58 125.32L420.5 125.35ZM462.48 145.36L463.04 147.19L464.95 147.15L463.39 148.25L464.01 150.06L462.48 148.91L460.95 150.06L461.58 148.25L460.01 147.15L461.92 147.19ZM434.8 156.27L435.35 158.11L437.27 158.07L435.7 159.17L436.32 160.98L434.8 159.82L433.27 160.98L433.89 159.17L432.32 158.07L434.24 158.11ZM440.01 178.11L440.56 179.94L442.48 179.91L440.91 181L441.53 182.81L440.01 181.66L438.48 182.81L439.1 181L437.53 179.91L439.45 179.94ZM430.76 232.7L431.31 234.53L433.23 234.5L431.66 235.59L432.28 237.4L430.76 236.25L429.23 237.4L429.85 235.59L428.28 234.5L430.2 234.53ZM436.06 232.7L436.61 234.53L438.53 234.5L436.96 235.59L437.58 237.4L436.06 236.25L434.53 237.4L435.15 235.59L433.58 234.5L435.5 234.53ZM430.76 243.62L431.31 245.45L433.23 245.42L431.66 246.51L432.28 248.32L430.76 247.17L429.23 248.32L429.85 246.51L428.28 245.42L430.2 245.45ZM436.06 243.62L436.61 245.45L438.53 245.42L436.96 246.51L437.58 248.32L436.06 247.17L434.53 248.32L435.15 246.51L433.58 245.42L435.5 245.45ZM430.76 287.29L431.31 289.12L433.23 289.09L431.66 290.18L432.28 291.99L430.76 290.84L429.23 291.99L429.85 290.18L428.28 289.09L430.2 289.12ZM436.06 287.29L436.61 289.12L438.53 289.09L436.96 290.18L437.58 291.99L436.06 290.84L434.53 291.99L435.15 290.18L433.58 289.09L435.5 289.12ZM411.37 298.21L411.93 300.04L413.84 300.01L412.28 301.1L412.9 302.91L411.37 301.76L409.84 302.91L410.47 301.1L408.9 300.01L410.81 300.04ZM416.67 298.21L417.23 300.04L419.14 300.01L417.58 301.1L418.2 302.91L416.67 301.76L415.14 302.91L415.77 301.1L414.2 300.01L416.11 300.04ZM421.97 298.21L422.53 300.04L424.44 300.01L422.88 301.1L423.5 302.91L421.97 301.76L420.44 302.91L421.07 301.1L419.5 300.01L421.41 300.04ZM404.16 330.96L404.72 332.79L406.63 332.76L405.06 333.86L405.69 335.67L404.16 334.51L402.63 335.67L403.25 333.86L401.69 332.76L403.6 332.79ZM409.46 330.96L410.02 332.79L411.93 332.76L410.36 333.86L410.99 335.67L409.46 334.51L407.93 335.67L408.55 333.86L406.99 332.76L408.9 332.79ZM414.76 330.96L415.32 332.79L417.23 332.76L415.66 333.86L416.29 335.67L414.76 334.51L413.23 335.67L413.85 333.86L412.29 332.76L414.2 332.79ZM424.14 341.88L424.7 343.71L426.61 343.68L425.04 344.77L425.67 346.58L424.14 345.43L422.61 346.58L423.23 344.77L421.67 343.68L423.58 343.71ZM429.44 341.88L430 343.71L431.91 343.68L430.34 344.77L430.97 346.58L429.44 345.43L427.91 346.58L428.53 344.77L426.97 343.68L428.88 343.71ZM434.74 341.88L435.3 343.71L437.21 343.68L435.64 344.77L436.27 346.58L434.74 345.43L433.21 346.58L433.83 344.77L432.27 343.68L434.18 343.71ZM424.54 374.63L425.1 376.47L427.01 376.43L425.44 377.53L426.07 379.34L424.54 378.18L423.01 379.34L423.64 377.53L422.07 376.43L423.98 376.47ZM429.84 374.63L430.4 376.47L432.31 376.43L430.74 377.53L431.37 379.34L429.84 378.18L428.31 379.34L428.94 377.53L427.37 376.43L429.28 376.47ZM435.14 374.63L435.7 376.47L437.61 376.43L436.04 377.53L436.67 379.34L435.14 378.18L433.61 379.34L434.24 377.53L432.67 376.43L434.58 376.47ZM424.54 385.55L425.1 387.38L427.01 387.35L425.44 388.45L426.07 390.26L424.54 389.1L423.01 390.26L423.64 388.45L422.07 387.35L423.98 387.38ZM429.84 385.55L430.4 387.38L432.31 387.35L430.74 388.45L431.37 390.26L429.84 389.1L428.31 390.26L428.94 388.45L427.37 387.35L429.28 387.38ZM435.14 385.55L435.7 387.38L437.61 387.35L436.04 388.45L436.67 390.26L435.14 389.1L433.61 390.26L434.24 388.45L432.67 387.35L434.58 387.38ZM428.38 407.39L428.93 409.22L430.85 409.19L429.28 410.28L429.9 412.09L428.38 410.94L426.85 412.09L427.47 410.28L425.9 409.19L427.82 409.22ZM433.68 407.39L434.23 409.22L436.15 409.19L434.58 410.28L435.2 412.09L433.68 410.94L432.15 412.09L432.77 410.28L431.2 409.19L433.12 409.22ZM438.98 407.39L439.53 409.22L441.45 409.19L439.88 410.28L440.5 412.09L438.98 410.94L437.45 412.09L438.07 410.28L436.5 409.19L438.42 409.22ZM425.46 418.31L426.01 420.14L427.93 420.1L426.36 421.2L426.98 423.01L425.46 421.86L423.93 423.01L424.55 421.2L422.98 420.1L424.9 420.14ZM430.76 418.31L431.31 420.14L433.23 420.1L431.66 421.2L432.28 423.01L430.76 421.86L429.23 423.01L429.85 421.2L428.28 420.1L430.2 420.14ZM436.06 418.31L436.61 420.14L438.53 420.1L436.96 421.2L437.58 423.01L436.06 421.86L434.53 423.01L435.15 421.2L433.58 420.1L435.5 420.14ZM435.62 429.22L436.18 431.06L438.09 431.02L436.53 432.12L437.15 433.93L435.62 432.77L434.09 433.93L434.72 432.12L433.15 431.02L435.06 431.06ZM440.92 429.22L441.48 431.06L443.39 431.02L441.83 432.12L442.45 433.93L440.92 432.77L439.39 433.93L440.02 432.12L438.45 431.02L440.36 431.06ZM427.23 440.14L427.79 441.97L429.7 441.94L428.13 443.04L428.76 444.85L427.23 443.69L425.7 444.85L426.33 443.04L424.76 441.94L426.67 441.97ZM432.53 440.14L433.09 441.97L435 441.94L433.43 443.04L434.06 444.85L432.53 443.69L431 444.85L431.63 443.04L430.06 441.94L431.97 441.97ZM437.83 440.14L438.39 441.97L440.3 441.94L438.73 443.04L439.36 444.85L437.83 443.69L436.3 444.85L436.93 443.04L435.36 441.94L437.27 441.97ZM423.62 451.06L424.18 452.89L426.1 452.86L424.53 453.95L425.15 455.76L423.62 454.61L422.1 455.76L422.72 453.95L421.15 452.86L423.06 452.89ZM428.92 451.06L429.48 452.89L431.4 452.86L429.83 453.95L430.45 455.76L428.92 454.61L427.4 455.76L428.02 453.95L426.45 452.86L428.36 452.89ZM434.22 451.06L434.78 452.89L436.7 452.86L435.13 453.95L435.75 455.76L434.22 454.61L432.7 455.76L433.32 453.95L431.75 452.86L433.66 452.89ZM418.53 461.98L419.09 463.81L421 463.78L419.43 464.87L420.06 466.68L418.53 465.53L417 466.68L417.62 464.87L416.06 463.78L417.97 463.81ZM423.83 461.98L424.39 463.81L426.3 463.78L424.73 464.87L425.36 466.68L423.83 465.53L422.3 466.68L422.92 464.87L421.36 463.78L423.27 463.81ZM429.13 461.98L429.69 463.81L431.6 463.78L430.03 464.87L430.66 466.68L429.13 465.53L427.6 466.68L428.22 464.87L426.66 463.78L428.57 463.81ZM425.46 472.9L426.01 474.73L427.93 474.69L426.36 475.79L426.98 477.6L425.46 476.45L423.93 477.6L424.55 475.79L422.98 474.69L424.9 474.73ZM430.76 472.9L431.31 474.73L433.23 474.69L431.66 475.79L432.28 477.6L430.76 476.45L429.23 477.6L429.85 475.79L428.28 474.69L430.2 474.73ZM436.06 472.9L436.61 474.73L438.53 474.69L436.96 475.79L437.58 477.6L436.06 476.45L434.53 477.6L435.15 475.79L433.58 474.69L435.5 474.73ZM425.97 494.73L426.53 496.56L428.44 496.53L426.87 497.63L427.5 499.44L425.97 498.28L424.44 499.44L425.07 497.63L423.5 496.53L425.41 496.56ZM431.27 494.73L431.83 496.56L433.74 496.53L432.17 497.63L432.8 499.44L431.27 498.28L429.74 499.44L430.37 497.63L428.8 496.53L430.71 496.56ZM436.57 494.73L437.13 496.56L439.04 496.53L437.47 497.63L438.1 499.44L436.57 498.28L435.04 499.44L435.67 497.63L434.1 496.53L436.01 496.56ZM426.89 505.65L427.44 507.48L429.36 507.45L427.79 508.54L428.41 510.35L426.89 509.2L425.36 510.35L425.98 508.54L424.41 507.45L426.33 507.48ZM432.19 505.65L432.74 507.48L434.66 507.45L433.09 508.54L433.71 510.35L432.19 509.2L430.66 510.35L431.28 508.54L429.71 507.45L431.63 507.48ZM437.49 505.65L438.04 507.48L439.96 507.45L438.39 508.54L439.01 510.35L437.49 509.2L435.96 510.35L436.58 508.54L435.01 507.45L436.93 507.48ZM430.32 516.57L430.88 518.4L432.79 518.37L431.23 519.46L431.85 521.27L430.32 520.12L428.79 521.27L429.42 519.46L427.85 518.37L429.76 518.4ZM435.62 516.57L436.18 518.4L438.09 518.37L436.53 519.46L437.15 521.27L435.62 520.12L434.09 521.27L434.72 519.46L433.15 518.37L435.06 518.4ZM440.92 516.57L441.48 518.4L443.39 518.37L441.83 519.46L442.45 521.27L440.92 520.12L439.39 521.27L440.02 519.46L438.45 518.37L440.36 518.4ZM425.05 527.49L425.61 529.32L427.53 529.28L425.96 530.38L426.58 532.19L425.05 531.04L423.53 532.19L424.15 530.38L422.58 529.28L424.5 529.32ZM430.35 527.49L430.91 529.32L432.83 529.28L431.26 530.38L431.88 532.19L430.35 531.04L428.83 532.19L429.45 530.38L427.88 529.28L429.8 529.32ZM435.65 527.49L436.21 529.32L438.13 529.28L436.56 530.38L437.18 532.19L435.65 531.04L434.13 532.19L434.75 530.38L433.18 529.28L435.1 529.32ZM429.23 538.41L429.79 540.24L431.71 540.2L430.14 541.3L430.76 543.11L429.23 541.96L427.71 543.11L428.33 541.3L426.76 540.2L428.68 540.24ZM434.53 538.41L435.09 540.24L437.01 540.2L435.44 541.3L436.06 543.11L434.53 541.96L433.01 543.11L433.63 541.3L432.06 540.2L433.98 540.24ZM439.83 538.41L440.39 540.24L442.31 540.2L440.74 541.3L441.36 543.11L439.83 541.96L438.31 543.11L438.93 541.3L437.36 540.2L439.28 540.24ZM451.49 571.16L452.05 572.99L453.96 572.96L452.39 574.05L453.02 575.86L451.49 574.71L449.96 575.86L450.59 574.05L449.02 572.96L450.93 572.99ZM456.79 571.16L457.35 572.99L459.26 572.96L457.69 574.05L458.32 575.86L456.79 574.71L455.26 575.86L455.89 574.05L454.32 572.96L456.23 572.99ZM462.09 571.16L462.65 572.99L464.56 572.96L462.99 574.05L463.62 575.86L462.09 574.71L460.56 575.86L461.19 574.05L459.62 572.96L461.53 572.99ZM425.05 603.91L425.61 605.74L427.53 605.71L425.96 606.81L426.58 608.62L425.05 607.46L423.53 608.62L424.15 606.81L422.58 605.71L424.5 605.74ZM430.35 603.91L430.91 605.74L432.83 605.71L431.26 606.81L431.88 608.62L430.35 607.46L428.83 608.62L429.45 606.81L427.88 605.71L429.8 605.74ZM435.65 603.91L436.21 605.74L438.13 605.71L436.56 606.81L437.18 608.62L435.65 607.46L434.13 608.62L434.75 606.81L433.18 605.71L435.1 605.74Z" fill="#000"/>
<path d="M406 633.76H480.4" stroke="#000" stroke-width="1.1"/>
<path d="M409.96 633.76v2.8M414.54 633.76v2.8M419.12 633.76v2.8M423.7 633.76v2.8M428.28 633.76v2.8M432.86 633.76v2.8M437.44 633.76v2.8M442.02 633.76v2.8M446.6 633.76v2.8M451.18 633.76v2.8M455.76 633.76v2.8M460.34 633.76v2.8M464.92 633.76v2.8M469.5 633.76v2.8M474.08 633.76v2.8M478.66 633.76v2.8" stroke="#000" stroke-width="1"/>
<text x="432.2" y="653.66" font-size="12" text-anchor="end" transform="rotate(-45 432.2 653.66)">−0.04</text>
<text x="455.1" y="653.66" font-size="12" text-anchor="end" transform="rotate(-45 455.1 653.66)">0.00</text>
<text x="478" y="653.66" font-size="12" text-anchor="end" transform="rotate(-45 478 653.66)">0.04</text>
<path d="M423.7 633.76v6.5M446.6 633.76v6.5M469.5 633.76v6.5" stroke="#000" stroke-width="1"/>
<text x="175.0" y="710.8" font-size="15.3">HHRI</text>
<circle cx="227.8" cy="705.6" r="3.4" fill="#000"/>
<text x="236.0" y="710.8" font-size="15.3">High-HHRI</text>
<rect x="92.40" y="715.20" width="6.83" height="23.00" fill="#ffffff"/>
<rect x="98.73" y="715.20" width="6.83" height="23.00" fill="#ffffff"/>
<rect x="105.06" y="715.20" width="6.83" height="23.00" fill="#ffffe0"/>
<rect x="111.38" y="715.20" width="6.83" height="23.00" fill="#ffffc0"/>
<rect x="117.71" y="715.20" width="6.83" height="23.00" fill="#ffffa0"/>
<rect x="124.04" y="715.20" width="6.83" height="23.00" fill="#ffff80"/>
<rect x="130.37" y="715.20" width="6.83" height="23.00" fill="#ffff55"/>
<rect x="136.70" y="715.20" width="6.83" height="23.00" fill="#ffff28"/>
<rect x="143.03" y="715.20" width="6.83" height="23.00" fill="#ffff00"/>
<rect x="149.35" y="715.20" width="6.83" height="23.00" fill="#ffee00"/>
<rect x="155.68" y="715.20" width="6.83" height="23.00" fill="#ffdd00"/>
<rect x="162.01" y="715.20" width="6.83" height="23.00" fill="#ffcc00"/>
<rect x="168.34" y="715.20" width="6.83" height="23.00" fill="#ffbb00"/>
<rect x="174.67" y="715.20" width="6.83" height="23.00" fill="#ffaa00"/>
<rect x="180.99" y="715.20" width="6.83" height="23.00" fill="#ff9900"/>
<rect x="187.32" y="715.20" width="6.83" height="23.00" fill="#ff8c00"/>
<rect x="193.65" y="715.20" width="6.83" height="23.00" fill="#ff8000"/>
<rect x="199.98" y="715.20" width="6.83" height="23.00" fill="#ff7000"/>
<rect x="206.31" y="715.20" width="6.83" height="23.00" fill="#ff6000"/>
<rect x="212.63" y="715.20" width="6.83" height="23.00" fill="#ff5000"/>
<rect x="218.96" y="715.20" width="6.83" height="23.00" fill="#ff4000"/>
<rect x="225.29" y="715.20" width="6.83" height="23.00" fill="#ff2000"/>
<rect x="231.62" y="715.20" width="6.83" height="23.00" fill="#ff1000"/>
<rect x="237.95" y="715.20" width="6.83" height="23.00" fill="#ff0000"/>
<rect x="244.27" y="715.20" width="6.83" height="23.00" fill="#e00000"/>
<rect x="250.60" y="715.20" width="6.83" height="23.00" fill="#cc0000"/>
<rect x="256.93" y="715.20" width="6.83" height="23.00" fill="#aa0000"/>
<rect x="263.26" y="715.20" width="6.83" height="23.00" fill="#8b0000"/>
<rect x="269.59" y="715.20" width="6.83" height="23.00" fill="#700000"/>
<rect x="275.92" y="715.20" width="6.83" height="23.00" fill="#5a0000"/>
<rect x="282.24" y="715.20" width="6.83" height="23.00" fill="#300000"/>
<rect x="288.57" y="715.20" width="6.33" height="23.00" fill="#000000"/>
<rect x="92.4" y="715.2" width="202.50" height="23.00" fill="none" stroke="#000" stroke-width="1"/>
<text x="97.8" y="757.8" font-size="12.5" text-anchor="middle">0.00</text>
<text x="148.9" y="757.8" font-size="12.5" text-anchor="middle">0.14</text>
<text x="199.6" y="757.8" font-size="12.5" text-anchor="middle">0.28</text>
<text x="250.5" y="757.8" font-size="12.5" text-anchor="middle">0.42</text>
<text x="288.3" y="757.8" font-size="12.5" text-anchor="middle">0.53</text>
<path d="M97.8 738.2v5.8M148.9 738.2v5.8M199.6 738.2v5.8M250.5 738.2v5.8M288.3 738.2v5.8" stroke="#000" stroke-width="1"/>
<rect x="315.20" y="715.50" width="7.11" height="22.50" fill="#5fa2d0"/>
<rect x="322.26" y="715.50" width="7.11" height="22.50" fill="#9ecae1"/>
<rect x="329.32" y="715.50" width="7.11" height="22.50" fill="#c6dbef"/>
<rect x="336.38" y="715.50" width="7.11" height="22.50" fill="#dde9f5"/>
<rect x="343.43" y="715.50" width="7.11" height="22.50" fill="#fee5d9"/>
<rect x="350.49" y="715.50" width="7.11" height="22.50" fill="#fcbba1"/>
<rect x="357.55" y="715.50" width="7.11" height="22.50" fill="#fc9272"/>
<rect x="364.61" y="715.50" width="7.11" height="22.50" fill="#fb6a4a"/>
<rect x="371.67" y="715.50" width="7.11" height="22.50" fill="#ef3b2c"/>
<rect x="378.72" y="715.50" width="7.11" height="22.50" fill="#cb181d"/>
<rect x="385.78" y="715.50" width="7.11" height="22.50" fill="#a50f15"/>
<rect x="392.84" y="715.50" width="7.11" height="22.50" fill="#67000d"/>
<rect x="315.2" y="715.5" width="84.70" height="22.50" fill="none" stroke="#000" stroke-width="1"/>
<text x="322.4" y="757.3" font-size="12.5" text-anchor="middle">−0.08</text>
<text x="364.4" y="757.3" font-size="12.5" text-anchor="middle">0.14</text>
<text x="392.3" y="757.3" font-size="12.5" text-anchor="middle">0.28</text>
<path d="M322.4 738.0v5.8M364.4 738.0v5.8M392.3 738.0v5.8" stroke="#000" stroke-width="1"/>
<text x="355.6" y="692.3" font-size="15.3" text-anchor="middle">Difference</text>
<text x="357.4" y="711.1" font-size="15.3" text-anchor="middle">in HHRI</text>
<text x="442.0" y="693.2" font-size="15.3" text-anchor="middle">Trends</text>
<text x="440.6" y="712.3" font-size="15.3" text-anchor="middle">per</text>
<text x="442.3" y="730.0" font-size="15.3" text-anchor="middle">decade</text>
<text x="511.5" y="692.7" font-size="15.3">Kind of high-risk</text>
<rect x="486.40" y="696.9" width="20.00" height="17.90" fill="#fcdccb"/>
<rect x="506.35" y="696.9" width="20.00" height="17.90" fill="#0aa6e0"/>
<rect x="526.30" y="696.9" width="20.00" height="17.90" fill="#a680b9"/>
<rect x="546.25" y="696.9" width="20.00" height="17.90" fill="#e31b22"/>
<rect x="566.20" y="696.9" width="20.00" height="17.90" fill="#f08f35"/>
<rect x="586.15" y="696.9" width="20.00" height="17.90" fill="#0d4c9a"/>
<rect x="606.10" y="696.9" width="20.00" height="17.90" fill="#f9e54b"/>
<rect x="626.05" y="696.9" width="20.00" height="17.90" fill="#7a3e10"/>
<rect x="486.4" y="696.9" width="159.60" height="17.90" fill="none" stroke="#000" stroke-width="1"/>
<path d="M506.35 714.8v5.2M526.30 714.8v5.2M546.25 714.8v5.2M566.20 714.8v5.2M586.15 714.8v5.2M606.10 714.8v5.2M626.05 714.8v5.2M646.00 714.8v5.2" stroke="#000" stroke-width="1"/>
<text x="516.32" y="727.9" font-size="11" text-anchor="middle">1</text>
<text x="536.27" y="727.9" font-size="11" text-anchor="middle">2</text>
<text x="556.23" y="727.9" font-size="11" text-anchor="middle">3</text>
<text x="576.17" y="727.9" font-size="11" text-anchor="middle">4</text>
<text x="596.12" y="727.9" font-size="11" text-anchor="middle">5</text>
<text x="616.07" y="727.9" font-size="11" text-anchor="middle">6</text>
<text x="636.02" y="727.9" font-size="11" text-anchor="middle">7</text>
<path d="M496.7 743V726" stroke="#000" stroke-width="1.2"/>
<path d="M496.7 719.5L493.6 728.5L499.8 728.5Z" fill="#000"/>
<text x="463.0" y="757.8" font-size="15.3">Region without high-risk profiles</text>
<text x="464.9" y="780.1" font-size="15.3">1: High-HI, 2: High-VI, 3: High-EI</text>
<text x="464.9" y="798.9" font-size="15.3">4: High-HI + High-VI</text>
<text x="464.9" y="817.4" font-size="15.3">5: High-HI + High-EI</text>
<text x="464.9" y="835.9" font-size="15.3">6: High-VI + High-EI</text>
<text x="464.9" y="854.5" font-size="15.3">7: High-HI + High-VI + High-EI</text>
<rect x="154.2" y="787.9" width="34.5" height="16.9" fill="#828282"/>
<text x="193.2" y="800.6" font-size="15.3">No data</text>
<text x="323.4" y="788.0" font-size="15.3">Significance levels:</text>
<text x="323.4" y="806.6" font-size="15.3">* p-value &lt; 0.1,</text>
<text x="323.4" y="825.2" font-size="15.3">** p-value &lt; 0.05,</text>
<text x="323.4" y="843.6" font-size="15.3">*** p-value &lt; 0.01</text>
</svg>
</body></html>
